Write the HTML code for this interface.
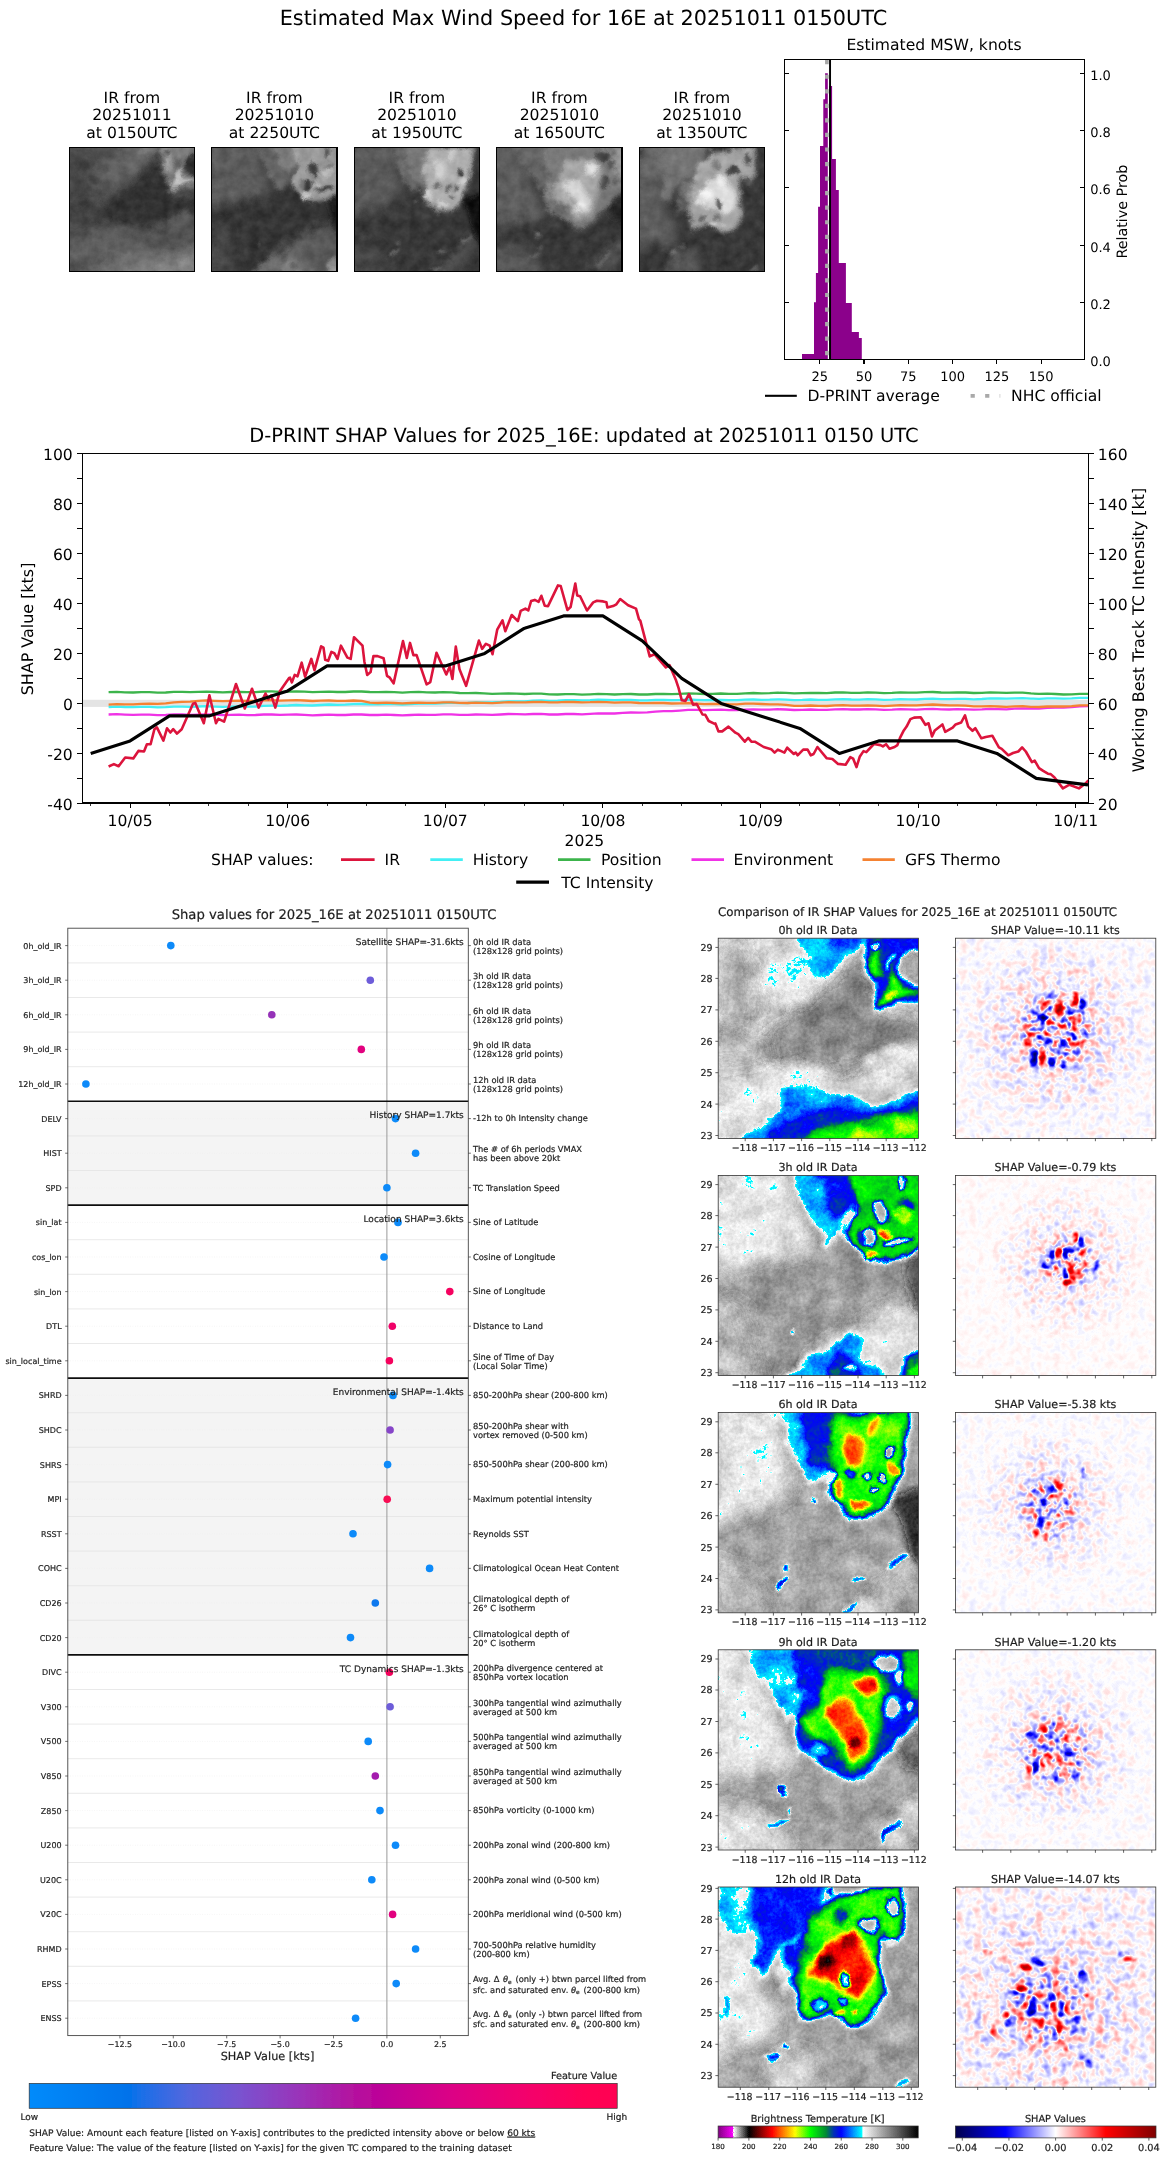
<!DOCTYPE html>
<html><head><meta charset="utf-8"><title>D-PRINT 16E</title>
<style>html,body{margin:0;padding:0;background:#fff}svg{display:block}text{font-family:'DejaVu Sans','Liberation Sans',sans-serif;text-rendering:geometricPrecision}.lo text{stroke:#222;stroke-width:0.2px}</style>
</head><body>
<svg width="1168" height="2158" viewBox="0 0 1168 2158">
<defs>
<filter id="grain" x="0" y="0" width="100%" height="100%" color-interpolation-filters="sRGB">
 <feTurbulence type="fractalNoise" baseFrequency="0.1" numOctaves="4" seed="11" result="n"/>
 <feColorMatrix in="n" type="matrix" values="1 0 0 0 0  1 0 0 0 0  1 0 0 0 0  0 0 0 0 1" result="ng"/>
 <feDisplacementMap in="SourceGraphic" in2="n" scale="7" xChannelSelector="R" yChannelSelector="G" result="d"/>
 <feComposite in="d" in2="ng" operator="arithmetic" k1="0" k2="1" k3="0.14" k4="-0.07"/>
</filter>
<filter id="b1" x="-100%" y="-100%" width="300%" height="300%"><feGaussianBlur stdDeviation="1"/></filter>
<filter id="b14" x="-100%" y="-100%" width="300%" height="300%"><feGaussianBlur stdDeviation="14"/></filter>
<filter id="b1_2" x="-100%" y="-100%" width="300%" height="300%"><feGaussianBlur stdDeviation="1.2"/></filter>
<filter id="b1_5" x="-100%" y="-100%" width="300%" height="300%"><feGaussianBlur stdDeviation="1.5"/></filter>
<filter id="b2" x="-100%" y="-100%" width="300%" height="300%"><feGaussianBlur stdDeviation="2"/></filter>
<filter id="b2_5" x="-100%" y="-100%" width="300%" height="300%"><feGaussianBlur stdDeviation="2.5"/></filter>
<filter id="b3" x="-100%" y="-100%" width="300%" height="300%"><feGaussianBlur stdDeviation="3"/></filter>
<filter id="b3_5" x="-100%" y="-100%" width="300%" height="300%"><feGaussianBlur stdDeviation="3.5"/></filter>
<filter id="b4" x="-100%" y="-100%" width="300%" height="300%"><feGaussianBlur stdDeviation="4"/></filter>
<filter id="b5" x="-100%" y="-100%" width="300%" height="300%"><feGaussianBlur stdDeviation="5"/></filter>
<filter id="b5_5" x="-100%" y="-100%" width="300%" height="300%"><feGaussianBlur stdDeviation="5.5"/></filter>
<filter id="b6" x="-100%" y="-100%" width="300%" height="300%"><feGaussianBlur stdDeviation="6"/></filter>
<filter id="b6_5" x="-100%" y="-100%" width="300%" height="300%"><feGaussianBlur stdDeviation="6.5"/></filter>
<filter id="b7" x="-100%" y="-100%" width="300%" height="300%"><feGaussianBlur stdDeviation="7"/></filter>
<filter id="b8" x="-100%" y="-100%" width="300%" height="300%"><feGaussianBlur stdDeviation="8"/></filter>
<filter id="b9" x="-100%" y="-100%" width="300%" height="300%"><feGaussianBlur stdDeviation="9"/></filter>
<linearGradient id="shapbar" x1="0" x2="1" y1="0" y2="0"><stop offset="0" stop-color="#008bfb"/><stop offset="0.17" stop-color="#0072ea"/><stop offset="0.19" stop-color="#1a6fe8"/><stop offset="0.27" stop-color="#5366de"/><stop offset="0.36" stop-color="#7a52cf"/><stop offset="0.46" stop-color="#9a33b9"/><stop offset="0.55" stop-color="#b4129f"/><stop offset="0.6" stop-color="#bd0098"/><stop offset="0.72" stop-color="#dc0085"/><stop offset="0.85" stop-color="#f4006b"/><stop offset="0.95" stop-color="#ff0055"/><stop offset="1" stop-color="#ff0051"/></linearGradient>
<filter id="soft" x="0" y="0" width="100%" height="100%"><feGaussianBlur stdDeviation="0.35"/></filter>

<filter id="ircm" x="0" y="0" width="100%" height="100%" color-interpolation-filters="sRGB">
 <feTurbulence type="fractalNoise" baseFrequency="0.045" numOctaves="4" seed="11" result="n"/>
 <feColorMatrix in="n" type="matrix" values="1 0 0 0 0  1 0 0 0 0  1 0 0 0 0  0 0 0 0 1" result="ng"/>
 <feDisplacementMap in="SourceGraphic" in2="n" scale="12" xChannelSelector="R" yChannelSelector="G" result="d"/>
 <feComposite in="d" in2="ng" operator="arithmetic" k1="0" k2="1" k3="0.10" k4="-0.05" result="f0"/>
 <feTurbulence type="fractalNoise" baseFrequency="0.3" numOctaves="2" seed="4" result="n2"/>
 <feColorMatrix in="n2" type="matrix" values="1 0 0 0 0  1 0 0 0 0  1 0 0 0 0  0 0 0 0 1" result="ng2"/>
 <feComposite in="f0" in2="ng2" operator="arithmetic" k1="0" k2="1" k3="0.05" k4="-0.025" result="f"/>
 <feComponentTransfer in="f"><feFuncR type="table" tableValues="0.000 0.014 0.028 0.042 0.056 0.069 0.083 0.097 0.111 0.125 0.139 0.153 0.167 0.181 0.194 0.208 0.222 0.236 0.250 0.264 0.278 0.292 0.306 0.319 0.333 0.347 0.361 0.375 0.389 0.403 0.417 0.431 0.444 0.458 0.472 0.486 0.500 0.514 0.528 0.542 0.556 0.569 0.583 0.597 0.611 0.625 0.639 0.653 0.667 0.681 0.694 0.708 0.722 0.736 0.750 0.764 0.778 0.792 0.806 0.819 0.833 0.847 0.861 0.875 0.889 0.903 0.917 0.931 0.944 0.958 0.972 0.986 1.000 0.000 0.000 0.000 0.000 0.000 0.000 0.000 0.000 0.000 0.000 0.000 0.000 0.000 0.000 0.000 0.000 0.000 0.000 0.000 0.000 0.000 0.000 0.000 0.000 0.000 0.000 0.000 0.000 0.000 0.000 0.000 0.000 0.000 0.000 0.000 0.000 0.000 0.000 0.000 0.000 0.000 0.000 0.000 0.000 0.000 0.000 0.000 0.000 0.000 0.000 0.000 0.000 0.000 0.000 0.000 0.000 0.000 0.000 0.000 0.000 0.000 0.000 0.000 0.000 0.000 0.000 0.000 0.000 0.050 0.100 0.150 0.200 0.250 0.300 0.350 0.400 0.450 0.500 0.550 0.600 0.650 0.700 0.750 0.800 0.850 0.900 0.950 1.000 1.000 1.000 1.000 1.000 1.000 1.000 1.000 1.000 1.000 1.000 1.000 1.000 1.000 1.000 1.000 1.000 1.000 1.000 1.000 1.000 1.000 1.000 1.000 1.000 1.000 1.000 1.000 1.000 1.000 1.000 0.967 0.933 0.900 0.867 0.833 0.800 0.767 0.733 0.700 0.667 0.633 0.600 0.567 0.533 0.500 0.467 0.433 0.400 0.367 0.333 0.300 0.267 0.233 0.200 0.167 0.133 0.100 0.067 0.033 0.000 0.050 0.100 0.150 0.200 0.250 0.300 0.350 0.400 0.450 0.500 0.550 0.600 0.650 0.700 0.750 0.800 0.850 0.900 0.950 1.000 0.975 0.950 0.925 0.900 0.875 0.850 0.825 0.800 0.775 0.750 0.725 0.700 0.675 0.650 0.625 0.600 0.575 0.550 0.525 0.500"/><feFuncG type="table" tableValues="0.000 0.014 0.028 0.042 0.056 0.069 0.083 0.097 0.111 0.125 0.139 0.153 0.167 0.181 0.194 0.208 0.222 0.236 0.250 0.264 0.278 0.292 0.306 0.319 0.333 0.347 0.361 0.375 0.389 0.403 0.417 0.431 0.444 0.458 0.472 0.486 0.500 0.514 0.528 0.542 0.556 0.569 0.583 0.597 0.611 0.625 0.639 0.653 0.667 0.681 0.694 0.708 0.722 0.736 0.750 0.764 0.778 0.792 0.806 0.819 0.833 0.847 0.861 0.875 0.889 0.903 0.917 0.931 0.944 0.958 0.972 0.986 1.000 1.000 0.963 0.926 0.889 0.852 0.815 0.778 0.741 0.704 0.667 0.630 0.593 0.556 0.519 0.481 0.444 0.407 0.370 0.333 0.296 0.259 0.222 0.185 0.148 0.111 0.074 0.037 0.000 0.020 0.040 0.060 0.080 0.100 0.120 0.140 0.160 0.180 0.200 0.235 0.270 0.305 0.340 0.375 0.410 0.445 0.480 0.515 0.550 0.573 0.595 0.618 0.640 0.663 0.685 0.708 0.730 0.753 0.775 0.798 0.820 0.843 0.865 0.887 0.910 0.932 0.955 0.978 1.000 1.000 1.000 1.000 1.000 1.000 1.000 1.000 1.000 1.000 1.000 1.000 1.000 1.000 1.000 1.000 1.000 1.000 1.000 1.000 1.000 0.967 0.933 0.900 0.867 0.833 0.800 0.767 0.733 0.700 0.667 0.633 0.600 0.567 0.533 0.500 0.467 0.433 0.400 0.367 0.333 0.300 0.267 0.233 0.200 0.167 0.133 0.100 0.067 0.033 0.000 0.000 0.000 0.000 0.000 0.000 0.000 0.000 0.000 0.000 0.000 0.000 0.000 0.000 0.000 0.000 0.000 0.000 0.000 0.000 0.000 0.000 0.000 0.000 0.000 0.000 0.000 0.000 0.000 0.000 0.000 0.050 0.100 0.150 0.200 0.250 0.300 0.350 0.400 0.450 0.500 0.550 0.600 0.650 0.700 0.750 0.800 0.850 0.900 0.950 1.000 0.000 0.000 0.000 0.000 0.000 0.000 0.000 0.000 0.000 0.000 0.000 0.000 0.000 0.000 0.000 0.000 0.000 0.000 0.000 0.000"/><feFuncB type="table" tableValues="0.000 0.014 0.028 0.042 0.056 0.069 0.083 0.097 0.111 0.125 0.139 0.153 0.167 0.181 0.194 0.208 0.222 0.236 0.250 0.264 0.278 0.292 0.306 0.319 0.333 0.347 0.361 0.375 0.389 0.403 0.417 0.431 0.444 0.458 0.472 0.486 0.500 0.514 0.528 0.542 0.556 0.569 0.583 0.597 0.611 0.625 0.639 0.653 0.667 0.681 0.694 0.708 0.722 0.736 0.750 0.764 0.778 0.792 0.806 0.819 0.833 0.847 0.861 0.875 0.889 0.903 0.917 0.931 0.944 0.958 0.972 0.986 1.000 1.000 1.000 1.000 1.000 1.000 1.000 1.000 1.000 1.000 1.000 1.000 1.000 1.000 1.000 1.000 1.000 1.000 1.000 1.000 1.000 1.000 1.000 1.000 1.000 1.000 1.000 1.000 1.000 0.970 0.940 0.910 0.880 0.850 0.820 0.790 0.760 0.730 0.700 0.650 0.600 0.550 0.500 0.450 0.400 0.350 0.300 0.250 0.200 0.190 0.180 0.170 0.160 0.150 0.140 0.130 0.120 0.110 0.100 0.090 0.080 0.070 0.060 0.050 0.040 0.030 0.020 0.010 0.000 0.000 0.000 0.000 0.000 0.000 0.000 0.000 0.000 0.000 0.000 0.000 0.000 0.000 0.000 0.000 0.000 0.000 0.000 0.000 0.000 0.000 0.000 0.000 0.000 0.000 0.000 0.000 0.000 0.000 0.000 0.000 0.000 0.000 0.000 0.000 0.000 0.000 0.000 0.000 0.000 0.000 0.000 0.000 0.000 0.000 0.000 0.000 0.000 0.000 0.000 0.000 0.000 0.000 0.000 0.000 0.000 0.000 0.000 0.000 0.000 0.000 0.000 0.000 0.000 0.000 0.000 0.000 0.000 0.000 0.000 0.000 0.000 0.000 0.000 0.000 0.000 0.000 0.000 0.000 0.000 0.050 0.100 0.150 0.200 0.250 0.300 0.350 0.400 0.450 0.500 0.550 0.600 0.650 0.700 0.750 0.800 0.850 0.900 0.950 1.000 0.975 0.950 0.925 0.900 0.875 0.850 0.825 0.800 0.775 0.750 0.725 0.700 0.675 0.650 0.625 0.600 0.575 0.550 0.525 0.500"/></feComponentTransfer>
</filter>
<filter id="ircbar" x="0" y="0" width="100%" height="100%" color-interpolation-filters="sRGB">
 <feComponentTransfer><feFuncR type="table" tableValues="0.000 0.014 0.028 0.042 0.056 0.069 0.083 0.097 0.111 0.125 0.139 0.153 0.167 0.181 0.194 0.208 0.222 0.236 0.250 0.264 0.278 0.292 0.306 0.319 0.333 0.347 0.361 0.375 0.389 0.403 0.417 0.431 0.444 0.458 0.472 0.486 0.500 0.514 0.528 0.542 0.556 0.569 0.583 0.597 0.611 0.625 0.639 0.653 0.667 0.681 0.694 0.708 0.722 0.736 0.750 0.764 0.778 0.792 0.806 0.819 0.833 0.847 0.861 0.875 0.889 0.903 0.917 0.931 0.944 0.958 0.972 0.986 1.000 0.000 0.000 0.000 0.000 0.000 0.000 0.000 0.000 0.000 0.000 0.000 0.000 0.000 0.000 0.000 0.000 0.000 0.000 0.000 0.000 0.000 0.000 0.000 0.000 0.000 0.000 0.000 0.000 0.000 0.000 0.000 0.000 0.000 0.000 0.000 0.000 0.000 0.000 0.000 0.000 0.000 0.000 0.000 0.000 0.000 0.000 0.000 0.000 0.000 0.000 0.000 0.000 0.000 0.000 0.000 0.000 0.000 0.000 0.000 0.000 0.000 0.000 0.000 0.000 0.000 0.000 0.000 0.000 0.050 0.100 0.150 0.200 0.250 0.300 0.350 0.400 0.450 0.500 0.550 0.600 0.650 0.700 0.750 0.800 0.850 0.900 0.950 1.000 1.000 1.000 1.000 1.000 1.000 1.000 1.000 1.000 1.000 1.000 1.000 1.000 1.000 1.000 1.000 1.000 1.000 1.000 1.000 1.000 1.000 1.000 1.000 1.000 1.000 1.000 1.000 1.000 1.000 1.000 0.967 0.933 0.900 0.867 0.833 0.800 0.767 0.733 0.700 0.667 0.633 0.600 0.567 0.533 0.500 0.467 0.433 0.400 0.367 0.333 0.300 0.267 0.233 0.200 0.167 0.133 0.100 0.067 0.033 0.000 0.050 0.100 0.150 0.200 0.250 0.300 0.350 0.400 0.450 0.500 0.550 0.600 0.650 0.700 0.750 0.800 0.850 0.900 0.950 1.000 0.975 0.950 0.925 0.900 0.875 0.850 0.825 0.800 0.775 0.750 0.725 0.700 0.675 0.650 0.625 0.600 0.575 0.550 0.525 0.500"/><feFuncG type="table" tableValues="0.000 0.014 0.028 0.042 0.056 0.069 0.083 0.097 0.111 0.125 0.139 0.153 0.167 0.181 0.194 0.208 0.222 0.236 0.250 0.264 0.278 0.292 0.306 0.319 0.333 0.347 0.361 0.375 0.389 0.403 0.417 0.431 0.444 0.458 0.472 0.486 0.500 0.514 0.528 0.542 0.556 0.569 0.583 0.597 0.611 0.625 0.639 0.653 0.667 0.681 0.694 0.708 0.722 0.736 0.750 0.764 0.778 0.792 0.806 0.819 0.833 0.847 0.861 0.875 0.889 0.903 0.917 0.931 0.944 0.958 0.972 0.986 1.000 1.000 0.963 0.926 0.889 0.852 0.815 0.778 0.741 0.704 0.667 0.630 0.593 0.556 0.519 0.481 0.444 0.407 0.370 0.333 0.296 0.259 0.222 0.185 0.148 0.111 0.074 0.037 0.000 0.020 0.040 0.060 0.080 0.100 0.120 0.140 0.160 0.180 0.200 0.235 0.270 0.305 0.340 0.375 0.410 0.445 0.480 0.515 0.550 0.573 0.595 0.618 0.640 0.663 0.685 0.708 0.730 0.753 0.775 0.798 0.820 0.843 0.865 0.887 0.910 0.932 0.955 0.978 1.000 1.000 1.000 1.000 1.000 1.000 1.000 1.000 1.000 1.000 1.000 1.000 1.000 1.000 1.000 1.000 1.000 1.000 1.000 1.000 1.000 0.967 0.933 0.900 0.867 0.833 0.800 0.767 0.733 0.700 0.667 0.633 0.600 0.567 0.533 0.500 0.467 0.433 0.400 0.367 0.333 0.300 0.267 0.233 0.200 0.167 0.133 0.100 0.067 0.033 0.000 0.000 0.000 0.000 0.000 0.000 0.000 0.000 0.000 0.000 0.000 0.000 0.000 0.000 0.000 0.000 0.000 0.000 0.000 0.000 0.000 0.000 0.000 0.000 0.000 0.000 0.000 0.000 0.000 0.000 0.000 0.050 0.100 0.150 0.200 0.250 0.300 0.350 0.400 0.450 0.500 0.550 0.600 0.650 0.700 0.750 0.800 0.850 0.900 0.950 1.000 0.000 0.000 0.000 0.000 0.000 0.000 0.000 0.000 0.000 0.000 0.000 0.000 0.000 0.000 0.000 0.000 0.000 0.000 0.000 0.000"/><feFuncB type="table" tableValues="0.000 0.014 0.028 0.042 0.056 0.069 0.083 0.097 0.111 0.125 0.139 0.153 0.167 0.181 0.194 0.208 0.222 0.236 0.250 0.264 0.278 0.292 0.306 0.319 0.333 0.347 0.361 0.375 0.389 0.403 0.417 0.431 0.444 0.458 0.472 0.486 0.500 0.514 0.528 0.542 0.556 0.569 0.583 0.597 0.611 0.625 0.639 0.653 0.667 0.681 0.694 0.708 0.722 0.736 0.750 0.764 0.778 0.792 0.806 0.819 0.833 0.847 0.861 0.875 0.889 0.903 0.917 0.931 0.944 0.958 0.972 0.986 1.000 1.000 1.000 1.000 1.000 1.000 1.000 1.000 1.000 1.000 1.000 1.000 1.000 1.000 1.000 1.000 1.000 1.000 1.000 1.000 1.000 1.000 1.000 1.000 1.000 1.000 1.000 1.000 1.000 0.970 0.940 0.910 0.880 0.850 0.820 0.790 0.760 0.730 0.700 0.650 0.600 0.550 0.500 0.450 0.400 0.350 0.300 0.250 0.200 0.190 0.180 0.170 0.160 0.150 0.140 0.130 0.120 0.110 0.100 0.090 0.080 0.070 0.060 0.050 0.040 0.030 0.020 0.010 0.000 0.000 0.000 0.000 0.000 0.000 0.000 0.000 0.000 0.000 0.000 0.000 0.000 0.000 0.000 0.000 0.000 0.000 0.000 0.000 0.000 0.000 0.000 0.000 0.000 0.000 0.000 0.000 0.000 0.000 0.000 0.000 0.000 0.000 0.000 0.000 0.000 0.000 0.000 0.000 0.000 0.000 0.000 0.000 0.000 0.000 0.000 0.000 0.000 0.000 0.000 0.000 0.000 0.000 0.000 0.000 0.000 0.000 0.000 0.000 0.000 0.000 0.000 0.000 0.000 0.000 0.000 0.000 0.000 0.000 0.000 0.000 0.000 0.000 0.000 0.000 0.000 0.000 0.000 0.000 0.000 0.050 0.100 0.150 0.200 0.250 0.300 0.350 0.400 0.450 0.500 0.550 0.600 0.650 0.700 0.750 0.800 0.850 0.900 0.950 1.000 0.975 0.950 0.925 0.900 0.875 0.850 0.825 0.800 0.775 0.750 0.725 0.700 0.675 0.650 0.625 0.600 0.575 0.550 0.525 0.500"/></feComponentTransfer>
</filter>
<linearGradient id="bw" x1="0" x2="1" y1="0" y2="0"><stop offset="0" stop-color="#fff"/><stop offset="1" stop-color="#000"/></linearGradient>
<linearGradient id="seisg" x1="0" x2="1" y1="0" y2="0"><stop offset="0" stop-color="#00004c"/><stop offset="0.25" stop-color="#0000ff"/><stop offset="0.5" stop-color="#fff"/><stop offset="0.75" stop-color="#ff0000"/><stop offset="1" stop-color="#800000"/></linearGradient>
<filter id="seis0" x="0" y="0" width="100%" height="100%" color-interpolation-filters="sRGB">
 <feTurbulence type="fractalNoise" baseFrequency="0.125" numOctaves="2" seed="5" result="n"/>
 <feColorMatrix in="n" type="matrix" values="1 0 0 0 0  1 0 0 0 0  1 0 0 0 0  0 0 0 0 1" result="ng"/>
 <feColorMatrix in="SourceGraphic" type="matrix" values="1 0 0 0 0  1 0 0 0 0  1 0 0 0 0  0 0 0 0 1" result="env"/>
 <feColorMatrix in="SourceGraphic" type="matrix" values="0 1 0 0 0  0 1 0 0 0  0 1 0 0 0  0 0 0 0 1" result="bias"/>
 <feComposite in="ng" in2="env" operator="arithmetic" k1="1.6" k2="0" k3="-0.8" k4="0.5" result="m"/>
 <feColorMatrix in="m" type="matrix" values="1 0 0 0 0  0 1 0 0 0  0 0 1 0 0  0 0 0 0 1" result="m1"/>
 <feComposite in="m1" in2="bias" operator="arithmetic" k1="0" k2="1" k3="1" k4="-0.5" result="m2"/>
 <feComponentTransfer in="m2">
  <feFuncR type="table" tableValues="0 0 1 1 0.5"/><feFuncG type="table" tableValues="0 0 1 0 0"/><feFuncB type="table" tableValues="0.3 1 1 0 0"/><feFuncA type="table" tableValues="1 1"/>
 </feComponentTransfer>
</filter>
<filter id="seis1" x="0" y="0" width="100%" height="100%" color-interpolation-filters="sRGB">
 <feTurbulence type="fractalNoise" baseFrequency="0.13" numOctaves="2" seed="9" result="n"/>
 <feColorMatrix in="n" type="matrix" values="1 0 0 0 0  1 0 0 0 0  1 0 0 0 0  0 0 0 0 1" result="ng"/>
 <feColorMatrix in="SourceGraphic" type="matrix" values="1 0 0 0 0  1 0 0 0 0  1 0 0 0 0  0 0 0 0 1" result="env"/>
 <feColorMatrix in="SourceGraphic" type="matrix" values="0 1 0 0 0  0 1 0 0 0  0 1 0 0 0  0 0 0 0 1" result="bias"/>
 <feComposite in="ng" in2="env" operator="arithmetic" k1="1.6" k2="0" k3="-0.8" k4="0.5" result="m"/>
 <feColorMatrix in="m" type="matrix" values="1 0 0 0 0  0 1 0 0 0  0 0 1 0 0  0 0 0 0 1" result="m1"/>
 <feComposite in="m1" in2="bias" operator="arithmetic" k1="0" k2="1" k3="1" k4="-0.5" result="m2"/>
 <feComponentTransfer in="m2">
  <feFuncR type="table" tableValues="0 0 1 1 0.5"/><feFuncG type="table" tableValues="0 0 1 0 0"/><feFuncB type="table" tableValues="0.3 1 1 0 0"/><feFuncA type="table" tableValues="1 1"/>
 </feComponentTransfer>
</filter>
<filter id="seis2" x="0" y="0" width="100%" height="100%" color-interpolation-filters="sRGB">
 <feTurbulence type="fractalNoise" baseFrequency="0.13" numOctaves="2" seed="14" result="n"/>
 <feColorMatrix in="n" type="matrix" values="1 0 0 0 0  1 0 0 0 0  1 0 0 0 0  0 0 0 0 1" result="ng"/>
 <feColorMatrix in="SourceGraphic" type="matrix" values="1 0 0 0 0  1 0 0 0 0  1 0 0 0 0  0 0 0 0 1" result="env"/>
 <feColorMatrix in="SourceGraphic" type="matrix" values="0 1 0 0 0  0 1 0 0 0  0 1 0 0 0  0 0 0 0 1" result="bias"/>
 <feComposite in="ng" in2="env" operator="arithmetic" k1="1.6" k2="0" k3="-0.8" k4="0.5" result="m"/>
 <feColorMatrix in="m" type="matrix" values="1 0 0 0 0  0 1 0 0 0  0 0 1 0 0  0 0 0 0 1" result="m1"/>
 <feComposite in="m1" in2="bias" operator="arithmetic" k1="0" k2="1" k3="1" k4="-0.5" result="m2"/>
 <feComponentTransfer in="m2">
  <feFuncR type="table" tableValues="0 0 1 1 0.5"/><feFuncG type="table" tableValues="0 0 1 0 0"/><feFuncB type="table" tableValues="0.3 1 1 0 0"/><feFuncA type="table" tableValues="1 1"/>
 </feComponentTransfer>
</filter>
<filter id="seis3" x="0" y="0" width="100%" height="100%" color-interpolation-filters="sRGB">
 <feTurbulence type="fractalNoise" baseFrequency="0.125" numOctaves="2" seed="21" result="n"/>
 <feColorMatrix in="n" type="matrix" values="1 0 0 0 0  1 0 0 0 0  1 0 0 0 0  0 0 0 0 1" result="ng"/>
 <feColorMatrix in="SourceGraphic" type="matrix" values="1 0 0 0 0  1 0 0 0 0  1 0 0 0 0  0 0 0 0 1" result="env"/>
 <feColorMatrix in="SourceGraphic" type="matrix" values="0 1 0 0 0  0 1 0 0 0  0 1 0 0 0  0 0 0 0 1" result="bias"/>
 <feComposite in="ng" in2="env" operator="arithmetic" k1="1.6" k2="0" k3="-0.8" k4="0.5" result="m"/>
 <feColorMatrix in="m" type="matrix" values="1 0 0 0 0  0 1 0 0 0  0 0 1 0 0  0 0 0 0 1" result="m1"/>
 <feComposite in="m1" in2="bias" operator="arithmetic" k1="0" k2="1" k3="1" k4="-0.5" result="m2"/>
 <feComponentTransfer in="m2">
  <feFuncR type="table" tableValues="0 0 1 1 0.5"/><feFuncG type="table" tableValues="0 0 1 0 0"/><feFuncB type="table" tableValues="0.3 1 1 0 0"/><feFuncA type="table" tableValues="1 1"/>
 </feComponentTransfer>
</filter>
<filter id="seis4" x="0" y="0" width="100%" height="100%" color-interpolation-filters="sRGB">
 <feTurbulence type="fractalNoise" baseFrequency="0.115" numOctaves="2" seed="33" result="n"/>
 <feColorMatrix in="n" type="matrix" values="1 0 0 0 0  1 0 0 0 0  1 0 0 0 0  0 0 0 0 1" result="ng"/>
 <feColorMatrix in="SourceGraphic" type="matrix" values="1 0 0 0 0  1 0 0 0 0  1 0 0 0 0  0 0 0 0 1" result="env"/>
 <feColorMatrix in="SourceGraphic" type="matrix" values="0 1 0 0 0  0 1 0 0 0  0 1 0 0 0  0 0 0 0 1" result="bias"/>
 <feComposite in="ng" in2="env" operator="arithmetic" k1="1.6" k2="0" k3="-0.8" k4="0.5" result="m"/>
 <feColorMatrix in="m" type="matrix" values="1 0 0 0 0  0 1 0 0 0  0 0 1 0 0  0 0 0 0 1" result="m1"/>
 <feComposite in="m1" in2="bias" operator="arithmetic" k1="0" k2="1" k3="1" k4="-0.5" result="m2"/>
 <feComponentTransfer in="m2">
  <feFuncR type="table" tableValues="0 0 1 1 0.5"/><feFuncG type="table" tableValues="0 0 1 0 0"/><feFuncB type="table" tableValues="0.3 1 1 0 0"/><feFuncA type="table" tableValues="1 1"/>
 </feComponentTransfer>
</filter>
</defs>
<rect width="1168" height="2158" fill="#fff"/>
<g opacity="0.9999">
<text x="583.50" y="24.70" font-size="20.8" text-anchor="middle" fill="#000" >Estimated Max Wind Speed for 16E at 20251011 0150UTC</text>
<text x="131.90" y="102.80" font-size="15.6" text-anchor="middle" fill="#000" >IR from</text>
<text x="131.90" y="119.80" font-size="15.6" text-anchor="middle" fill="#000" >20251011</text>
<text x="131.90" y="137.70" font-size="15.6" text-anchor="middle" fill="#000" >at 0150UTC</text>
<clipPath id="tc0"><rect x="69.30" y="147.30" width="125.20" height="124.10"/></clipPath>
<g clip-path="url(#tc0)"><g filter="url(#grain)"><rect x="49.30" y="127.30" width="165.20" height="164.10" fill="rgb(82,82,82)" stroke="none" stroke-width="1.04" /><polygon points="69.3,153.5 84.3,147.3 94.3,184.5 88.1,215.6 69.3,209.4" fill="rgb(66,66,66)" filter="url(#b5_5)"/><polygon points="121.9,188.3 144.4,172.1 155.7,153.5 164.5,172.1 175.7,194.5 200.8,199.4 200.8,211.8 169.5,221.8 141.9,230.4 113.1,224.2 94.3,221.8 96.8,209.4" fill="rgb(49,49,49)" filter="url(#b4)"/><polygon points="63.0,199.4 100.6,209.4 100.6,224.2 63.0,224.2" fill="rgb(64,64,64)" filter="url(#b5_5)"/><ellipse cx="169.5" cy="172.1" rx="7.5" ry="14.9" transform="rotate(-20 169.5 172.1)" fill="rgb(51,51,51)" filter="url(#b2)"/><ellipse cx="116.9" cy="172.1" rx="15.0" ry="14.9" transform="rotate(0 116.9 172.1)" fill="rgb(97,97,97)" filter="url(#b5)"/><ellipse cx="100.6" cy="244.1" rx="40.1" ry="12.4" transform="rotate(-20 100.6 244.1)" fill="rgb(95,95,95)" filter="url(#b5_5)"/><ellipse cx="179.5" cy="221.8" rx="18.8" ry="7.4" transform="rotate(-15 179.5 221.8)" fill="rgb(89,89,89)" filter="url(#b3_5)"/><polygon points="119.4,141.1 159.4,141.1 151.9,157.2 141.9,167.2 131.9,174.6 125.6,170.9 121.9,159.7" fill="rgb(101,101,101)" filter="url(#b2)"/><ellipse cx="148.2" cy="147.3" rx="10.0" ry="7.4" transform="rotate(0 148.2 147.3)" fill="rgb(119,119,119)" filter="url(#b2)"/><polygon points="156.9,141.1 200.8,141.1 200.8,152.3 185.7,157.2 182.0,172.1 200.8,177.1 200.8,184.5 179.5,189.5 169.5,190.7 165.7,178.3 161.9,159.7" fill="rgb(124,124,124)" filter="url(#b2)"/><polygon points="164.5,147.3 169.5,147.3 172.0,172.1 167.0,169.6" fill="rgb(160,160,160)" filter="url(#b1_5)"/><polygon points="179.5,167.2 184.5,178.3 197.0,178.3 182.0,184.5 169.5,188.3 173.2,180.8" fill="rgb(185,185,185)" filter="url(#b1_5)"/><ellipse cx="177.0" cy="183.3" rx="3.8" ry="1.9" transform="rotate(-25 177.0 183.3)" fill="rgb(212,212,212)" filter="url(#b1_5)"/><ellipse cx="193.2" cy="164.7" rx="9.4" ry="9.3" transform="rotate(0 193.2 164.7)" fill="rgb(51,51,51)" filter="url(#b1_5)"/><ellipse cx="167.0" cy="152.3" rx="2.5" ry="3.7" transform="rotate(0 167.0 152.3)" fill="rgb(89,89,89)" filter="url(#b1_5)"/><ellipse cx="177.0" cy="162.2" rx="1.9" ry="5.0" transform="rotate(20 177.0 162.2)" fill="rgb(92,92,92)" filter="url(#b1_5)"/><polygon points="69.3,277.6 94.3,265.2 110.6,254.0 109.4,241.6 125.6,239.1 144.4,244.1 156.9,246.6 167.0,250.3 182.0,246.6 200.8,239.1 200.8,277.6" fill="rgb(97,97,97)" filter="url(#b2)"/><polygon points="88.1,277.6 119.4,256.5 138.2,251.5 163.2,255.3 182.0,251.5 200.8,245.3 200.8,277.6" fill="rgb(110,110,110)" filter="url(#b2)"/><polygon points="116.9,277.6 131.9,264.0 156.9,262.7 175.7,257.7 200.8,254.0 200.8,277.6" fill="rgb(124,124,124)" filter="url(#b2_5)"/><ellipse cx="163.2" cy="268.9" rx="10.0" ry="3.7" transform="rotate(0 163.2 268.9)" fill="rgb(133,133,133)" filter="url(#b2)"/><ellipse cx="185.7" cy="264.0" rx="8.8" ry="5.0" transform="rotate(0 185.7 264.0)" fill="rgb(136,136,136)" filter="url(#b2)"/></g></g>
<rect x="69.30" y="147.30" width="125.20" height="124.10" fill="none" stroke="#000" stroke-width="1.04"  shape-rendering="crispEdges"/>
<text x="274.40" y="102.80" font-size="15.6" text-anchor="middle" fill="#000" >IR from</text>
<text x="274.40" y="119.80" font-size="15.6" text-anchor="middle" fill="#000" >20251010</text>
<text x="274.40" y="137.70" font-size="15.6" text-anchor="middle" fill="#000" >at 2250UTC</text>
<clipPath id="tc1"><rect x="211.80" y="147.30" width="125.20" height="124.10"/></clipPath>
<g clip-path="url(#tc1)"><g filter="url(#grain)"><rect x="191.80" y="127.30" width="165.20" height="164.10" fill="rgb(53,53,53)" stroke="none" stroke-width="1.04" /><polygon points="205.5,141.1 256.9,141.1 261.9,165.9 271.9,184.5 268.1,194.5 236.8,200.7 205.5,211.8" fill="rgb(92,92,92)" filter="url(#b5)"/><polygon points="205.5,224.2 226.8,228.0 236.8,277.6 205.5,277.6" fill="rgb(74,74,74)" filter="url(#b6_5)"/><polygon points="274.4,252.8 312.0,229.2 343.3,218.0 343.3,277.6 255.6,277.6" fill="rgb(89,89,89)" filter="url(#b4)"/><polygon points="328.2,199.4 343.3,196.9 343.3,236.7 333.2,229.2" fill="rgb(24,24,24)" filter="url(#b3)"/><polygon points="254.4,141.1 296.9,141.1 291.9,165.9 289.4,182.0 280.7,193.2 274.4,184.5 264.4,165.9" fill="rgb(102,102,102)" filter="url(#b2)"/><polygon points="274.4,141.1 299.4,141.1 296.9,165.9 286.9,174.6 278.2,162.2" fill="rgb(124,124,124)" filter="url(#b2)"/><polygon points="293.2,141.1 343.3,141.1 343.3,187.0 328.2,199.4 312.0,201.9 299.4,194.5 290.7,182.0 296.9,165.9" fill="rgb(155,155,155)" filter="url(#b2)"/><ellipse cx="313.2" cy="169.6" rx="4.4" ry="7.4" transform="rotate(-20 313.2 169.6)" fill="rgb(62,62,62)" filter="url(#b1_5)"/><ellipse cx="307.0" cy="185.8" rx="4.4" ry="6.2" transform="rotate(10 307.0 185.8)" fill="rgb(56,56,56)" filter="url(#b1_5)"/><ellipse cx="327.0" cy="152.3" rx="2.5" ry="6.2" transform="rotate(0 327.0 152.3)" fill="rgb(82,82,82)" filter="url(#b1_5)"/><ellipse cx="294.4" cy="170.9" rx="2.5" ry="2.5" transform="rotate(0 294.4 170.9)" fill="rgb(92,92,92)" filter="url(#b1_5)"/><ellipse cx="328.2" cy="167.2" rx="6.3" ry="3.7" transform="rotate(-30 328.2 167.2)" fill="rgb(119,119,119)" filter="url(#b1_5)"/><ellipse cx="301.9" cy="184.5" rx="2.5" ry="5.0" transform="rotate(0 301.9 184.5)" fill="rgb(119,119,119)" filter="url(#b1_5)"/><ellipse cx="324.5" cy="188.3" rx="10.0" ry="2.2" transform="rotate(-15 324.5 188.3)" fill="rgb(61,61,61)" filter="url(#b1_5)"/><ellipse cx="317.0" cy="184.5" rx="3.8" ry="2.5" transform="rotate(30 317.0 184.5)" fill="rgb(190,190,190)" filter="url(#b1_5)"/><ellipse cx="307.0" cy="195.7" rx="5.0" ry="1.9" transform="rotate(15 307.0 195.7)" fill="rgb(208,208,208)" filter="url(#b1_5)"/><ellipse cx="327.0" cy="172.1" rx="6.3" ry="5.0" transform="rotate(0 327.0 172.1)" fill="rgb(185,185,185)" filter="url(#b1_5)"/><polygon points="246.9,277.6 268.1,259.0 280.7,256.5 296.9,244.1 303.2,249.1 299.4,261.5 312.0,265.2 319.5,277.6" fill="rgb(105,105,105)" filter="url(#b2)"/><polygon points="278.2,277.6 289.4,256.5 299.4,265.2 303.2,277.6" fill="rgb(126,126,126)" filter="url(#b2)"/><ellipse cx="294.4" cy="266.4" rx="3.8" ry="2.5" transform="rotate(0 294.4 266.4)" fill="rgb(92,92,92)" filter="url(#b1_5)"/><polygon points="324.5,277.6 329.5,259.0 343.3,254.0 343.3,277.6" fill="rgb(133,133,133)" filter="url(#b2)"/><ellipse cx="335.7" cy="270.2" rx="5.0" ry="3.7" transform="rotate(0 335.7 270.2)" fill="rgb(160,160,160)" filter="url(#b1_5)"/><ellipse cx="258.1" cy="244.1" rx="1.3" ry="1.2" transform="rotate(0 258.1 244.1)" fill="rgb(115,115,115)" filter="url(#b1_5)"/></g></g>
<rect x="211.80" y="147.30" width="125.20" height="124.10" fill="none" stroke="#000" stroke-width="1.04"  shape-rendering="crispEdges"/>
<text x="416.90" y="102.80" font-size="15.6" text-anchor="middle" fill="#000" >IR from</text>
<text x="416.90" y="119.80" font-size="15.6" text-anchor="middle" fill="#000" >20251010</text>
<text x="416.90" y="137.70" font-size="15.6" text-anchor="middle" fill="#000" >at 1950UTC</text>
<clipPath id="tc2"><rect x="354.30" y="147.30" width="125.20" height="124.10"/></clipPath>
<g clip-path="url(#tc2)"><g filter="url(#grain)"><rect x="334.30" y="127.30" width="165.20" height="164.10" fill="rgb(56,56,56)" stroke="none" stroke-width="1.04" /><polygon points="348.0,141.1 398.1,141.1 395.6,172.1 404.4,187.0 391.9,203.1 373.1,209.4 348.0,216.8" fill="rgb(90,90,90)" filter="url(#b5)"/><polygon points="348.0,240.4 373.1,246.6 391.9,277.6 348.0,277.6" fill="rgb(74,74,74)" filter="url(#b6_5)"/><polygon points="429.4,277.6 454.5,252.8 473.2,234.2 477.0,244.1 454.5,277.6" fill="rgb(78,78,78)" filter="url(#b3_5)"/><polygon points="459.5,199.4 485.8,192.0 485.8,249.1 474.5,234.2 467.0,209.4" fill="rgb(14,14,14)" filter="url(#b2_5)"/><polygon points="393.1,141.1 436.9,141.1 429.4,159.7 424.4,184.5 411.9,192.0 404.4,179.6 395.6,165.9" fill="rgb(102,102,102)" filter="url(#b2)"/><polygon points="404.4,141.1 434.4,141.1 429.4,178.3 414.4,183.3 406.9,162.2" fill="rgb(121,121,121)" filter="url(#b2)"/><polygon points="429.4,147.3 474.5,147.3 470.7,172.1 468.2,184.5 462.0,200.7 454.5,210.6 435.7,210.6 425.7,200.7 423.2,184.5 423.2,165.9" fill="rgb(174,174,174)" filter="url(#b2)"/><ellipse cx="439.4" cy="169.6" rx="6.9" ry="9.9" transform="rotate(-10 439.4 169.6)" fill="rgb(206,206,206)" filter="url(#b2)"/><ellipse cx="452.0" cy="156.0" rx="2.5" ry="6.2" transform="rotate(30 452.0 156.0)" fill="rgb(204,204,204)" filter="url(#b1_5)"/><ellipse cx="429.4" cy="194.5" rx="2.5" ry="6.2" transform="rotate(-10 429.4 194.5)" fill="rgb(206,206,206)" filter="url(#b1_5)"/><ellipse cx="441.9" cy="203.8" rx="6.3" ry="2.5" transform="rotate(15 441.9 203.8)" fill="rgb(213,213,213)" filter="url(#b1_5)"/><ellipse cx="463.2" cy="182.0" rx="3.8" ry="3.7" transform="rotate(0 463.2 182.0)" fill="rgb(206,206,206)" filter="url(#b1_5)"/><ellipse cx="460.7" cy="172.1" rx="3.1" ry="3.7" transform="rotate(0 460.7 172.1)" fill="rgb(58,58,58)" filter="url(#b1_5)"/><ellipse cx="436.9" cy="185.8" rx="3.8" ry="3.1" transform="rotate(0 436.9 185.8)" fill="rgb(113,113,113)" filter="url(#b1_5)"/><ellipse cx="447.6" cy="188.3" rx="1.9" ry="3.1" transform="rotate(0 447.6 188.3)" fill="rgb(82,82,82)" filter="url(#b1_5)"/><ellipse cx="455.7" cy="188.3" rx="2.5" ry="2.5" transform="rotate(0 455.7 188.3)" fill="rgb(86,86,86)" filter="url(#b1_5)"/><ellipse cx="452.0" cy="195.7" rx="2.5" ry="1.9" transform="rotate(0 452.0 195.7)" fill="rgb(89,89,89)" filter="url(#b1_5)"/><ellipse cx="423.2" cy="188.3" rx="3.8" ry="3.7" transform="rotate(0 423.2 188.3)" fill="rgb(99,99,99)" filter="url(#b1_5)"/><ellipse cx="394.4" cy="252.8" rx="6.9" ry="1.5" transform="rotate(-40 394.4 252.8)" fill="rgb(119,119,119)" filter="url(#b1_5)"/><ellipse cx="398.7" cy="242.9" rx="1.0" ry="2.5" transform="rotate(0 398.7 242.9)" fill="rgb(115,115,115)" filter="url(#b1_5)"/><ellipse cx="467.0" cy="239.1" rx="7.5" ry="1.5" transform="rotate(-30 467.0 239.1)" fill="rgb(114,114,114)" filter="url(#b1_5)"/><ellipse cx="441.9" cy="251.5" rx="5.0" ry="1.2" transform="rotate(-20 441.9 251.5)" fill="rgb(113,113,113)" filter="url(#b1_5)"/><ellipse cx="436.9" cy="268.3" rx="6.3" ry="1.5" transform="rotate(-25 436.9 268.3)" fill="rgb(111,111,111)" filter="url(#b1_5)"/><ellipse cx="415.6" cy="202.5" rx="1.3" ry="1.5" transform="rotate(0 415.6 202.5)" fill="rgb(115,115,115)" filter="url(#b1_5)"/></g></g>
<rect x="354.30" y="147.30" width="125.20" height="124.10" fill="none" stroke="#000" stroke-width="1.04"  shape-rendering="crispEdges"/>
<text x="559.40" y="102.80" font-size="15.6" text-anchor="middle" fill="#000" >IR from</text>
<text x="559.40" y="119.80" font-size="15.6" text-anchor="middle" fill="#000" >20251010</text>
<text x="559.40" y="137.70" font-size="15.6" text-anchor="middle" fill="#000" >at 1650UTC</text>
<clipPath id="tc3"><rect x="496.80" y="147.30" width="125.20" height="124.10"/></clipPath>
<g clip-path="url(#tc3)"><g filter="url(#grain)"><rect x="476.80" y="127.30" width="165.20" height="164.10" fill="rgb(56,56,56)" stroke="none" stroke-width="1.04" /><polygon points="490.5,141.1 515.6,141.1 528.1,172.1 534.4,190.7 546.9,215.6 534.4,221.8 509.3,224.2 490.5,229.2" fill="rgb(93,93,93)" filter="url(#b5)"/><polygon points="499.3,244.1 528.1,249.1 549.4,277.6 490.5,277.6 490.5,246.6" fill="rgb(86,86,86)" filter="url(#b5)"/><polygon points="590.7,265.2 615.7,240.4 628.3,236.7 628.3,252.8 603.2,277.6" fill="rgb(78,78,78)" filter="url(#b3_5)"/><polygon points="607.0,203.1 628.3,196.9 628.3,224.2 613.2,219.3" fill="rgb(32,32,32)" filter="url(#b3)"/><polygon points="511.8,141.1 559.4,141.1 553.1,172.1 546.9,184.5 538.1,192.0 534.4,178.3 528.1,172.1 518.1,159.7" fill="rgb(102,102,102)" filter="url(#b2)"/><polygon points="544.4,141.1 628.3,141.1 628.3,184.5 615.7,196.9 604.5,209.4 592.0,224.2 578.2,229.2 559.4,216.8 546.9,209.4 543.1,196.9 548.1,178.3" fill="rgb(122,122,122)" filter="url(#b2)"/><ellipse cx="602.0" cy="156.0" rx="6.9" ry="5.6" transform="rotate(0 602.0 156.0)" fill="rgb(70,70,70)" filter="url(#b1_5)"/><ellipse cx="603.2" cy="182.0" rx="6.3" ry="7.4" transform="rotate(0 603.2 182.0)" fill="rgb(74,74,74)" filter="url(#b1_5)"/><ellipse cx="610.7" cy="164.7" rx="3.8" ry="5.0" transform="rotate(0 610.7 164.7)" fill="rgb(89,89,89)" filter="url(#b1_5)"/><ellipse cx="615.7" cy="182.0" rx="2.5" ry="3.7" transform="rotate(0 615.7 182.0)" fill="rgb(89,89,89)" filter="url(#b1_5)"/><ellipse cx="541.9" cy="167.2" rx="4.4" ry="3.1" transform="rotate(0 541.9 167.2)" fill="rgb(95,95,95)" filter="url(#b1_5)"/><ellipse cx="559.4" cy="209.4" rx="6.3" ry="3.7" transform="rotate(0 559.4 209.4)" fill="rgb(102,102,102)" filter="url(#b1_5)"/><polygon points="565.7,159.7 597.0,159.7 603.2,172.1 597.0,196.9 592.0,215.6 579.4,221.8 569.4,205.6 554.4,200.7 549.4,192.0 559.4,178.3" fill="rgb(166,166,166)" filter="url(#b2_5)"/><polygon points="612.0,147.3 628.3,147.3 628.3,179.6 615.7,174.6" fill="rgb(153,153,153)" filter="url(#b2)"/><ellipse cx="590.7" cy="169.6" rx="7.5" ry="5.6" transform="rotate(-10 590.7 169.6)" fill="rgb(222,222,222)" filter="url(#b1_5)"/><polygon points="565.7,182.0 578.2,178.3 584.4,190.7 591.3,199.4 588.8,211.8 580.1,215.6 575.7,203.1 565.7,190.7" fill="rgb(215,215,215)" filter="url(#b2)"/><ellipse cx="581.9" cy="205.6" rx="3.8" ry="3.7" transform="rotate(0 581.9 205.6)" fill="rgb(235,235,235)" filter="url(#b1_5)"/><ellipse cx="538.1" cy="235.4" rx="2.8" ry="2.2" transform="rotate(0 538.1 235.4)" fill="rgb(121,121,121)" filter="url(#b1_5)"/><ellipse cx="534.4" cy="255.3" rx="7.5" ry="1.2" transform="rotate(-15 534.4 255.3)" fill="rgb(113,113,113)" filter="url(#b1_5)"/><ellipse cx="540.6" cy="247.8" rx="1.0" ry="3.7" transform="rotate(10 540.6 247.8)" fill="rgb(113,113,113)" filter="url(#b1_5)"/><ellipse cx="604.5" cy="259.0" rx="10.6" ry="1.5" transform="rotate(-52 604.5 259.0)" fill="rgb(116,116,116)" filter="url(#b1_5)"/></g></g>
<rect x="496.80" y="147.30" width="125.20" height="124.10" fill="none" stroke="#000" stroke-width="1.04"  shape-rendering="crispEdges"/>
<text x="701.90" y="102.80" font-size="15.6" text-anchor="middle" fill="#000" >IR from</text>
<text x="701.90" y="119.80" font-size="15.6" text-anchor="middle" fill="#000" >20251010</text>
<text x="701.90" y="137.70" font-size="15.6" text-anchor="middle" fill="#000" >at 1350UTC</text>
<clipPath id="tc4"><rect x="639.30" y="147.30" width="125.20" height="124.10"/></clipPath>
<g clip-path="url(#tc4)"><g filter="url(#grain)"><rect x="619.30" y="127.30" width="165.20" height="164.10" fill="rgb(56,56,56)" stroke="none" stroke-width="1.04" /><polygon points="633.0,153.5 664.3,159.7 664.3,209.4 676.9,228.0 673.1,246.6 651.8,241.6 633.0,259.0" fill="rgb(93,93,93)" filter="url(#b5)"/><polygon points="674.4,252.8 695.6,246.6 701.9,277.6 664.3,277.6" fill="rgb(86,86,86)" filter="url(#b5)"/><polygon points="676.9,184.5 684.4,182.0 684.4,209.4 676.9,215.6" fill="rgb(95,95,95)" filter="url(#b2)"/><polygon points="639.3,141.1 664.3,141.1 664.3,172.1 649.3,178.3 641.8,165.9" fill="rgb(101,101,101)" filter="url(#b2)"/><polygon points="660.6,141.1 709.4,141.1 701.9,165.9 689.4,179.6 676.9,184.5 668.1,204.4 661.8,196.9 664.3,178.3 658.1,159.7" fill="rgb(116,116,116)" filter="url(#b2_5)"/><polygon points="681.9,184.5 694.4,178.3 689.4,215.6 683.1,209.4" fill="rgb(116,116,116)" filter="url(#b2)"/><polygon points="695.6,165.9 714.4,153.5 754.5,144.8 755.7,165.9 753.2,180.8 739.5,177.1 739.5,196.9 743.2,215.6 734.5,229.2 724.4,234.2 708.2,224.2 691.9,230.4 689.4,215.6 688.1,203.1 691.9,184.5" fill="rgb(165,165,165)" filter="url(#b2)"/><ellipse cx="716.9" cy="165.9" rx="4.4" ry="5.0" transform="rotate(0 716.9 165.9)" fill="rgb(124,124,124)" filter="url(#b1_5)"/><ellipse cx="710.7" cy="149.8" rx="1.9" ry="3.7" transform="rotate(0 710.7 149.8)" fill="rgb(119,119,119)" filter="url(#b1_5)"/><ellipse cx="733.2" cy="170.9" rx="6.3" ry="4.3" transform="rotate(0 733.2 170.9)" fill="rgb(70,70,70)" filter="url(#b1_5)"/><ellipse cx="748.2" cy="159.7" rx="3.8" ry="6.2" transform="rotate(0 748.2 159.7)" fill="rgb(86,86,86)" filter="url(#b1_5)"/><ellipse cx="748.2" cy="182.0" rx="3.8" ry="3.7" transform="rotate(0 748.2 182.0)" fill="rgb(89,89,89)" filter="url(#b1_5)"/><polygon points="708.2,180.8 724.4,174.6 729.4,184.5 737.0,196.9 734.5,209.4 726.9,215.6 714.4,210.6 704.4,204.4 694.4,202.5 699.4,192.0" fill="rgb(222,222,222)" filter="url(#b2)"/><ellipse cx="706.9" cy="194.5" rx="6.3" ry="5.0" transform="rotate(0 706.9 194.5)" fill="rgb(238,238,238)" filter="url(#b1_5)"/><ellipse cx="720.7" cy="180.8" rx="4.4" ry="3.7" transform="rotate(0 720.7 180.8)" fill="rgb(234,234,234)" filter="url(#b1_5)"/><ellipse cx="718.8" cy="205.0" rx="3.5" ry="5.6" transform="rotate(-15 718.8 205.0)" fill="rgb(98,98,98)" filter="url(#b1_5)"/><ellipse cx="701.9" cy="219.3" rx="3.8" ry="3.7" transform="rotate(0 701.9 219.3)" fill="rgb(103,103,103)" filter="url(#b1_5)"/><ellipse cx="716.9" cy="218.0" rx="3.8" ry="1.9" transform="rotate(0 716.9 218.0)" fill="rgb(102,102,102)" filter="url(#b1_5)"/><ellipse cx="714.4" cy="224.2" rx="3.8" ry="2.5" transform="rotate(0 714.4 224.2)" fill="rgb(201,201,201)" filter="url(#b1_5)"/><ellipse cx="724.4" cy="224.2" rx="1.9" ry="1.9" transform="rotate(0 724.4 224.2)" fill="rgb(204,204,204)" filter="url(#b1_5)"/><ellipse cx="673.1" cy="253.4" rx="5.0" ry="1.9" transform="rotate(-10 673.1 253.4)" fill="rgb(121,121,121)" filter="url(#b1_5)"/><ellipse cx="681.9" cy="246.6" rx="1.9" ry="1.9" transform="rotate(0 681.9 246.6)" fill="rgb(113,113,113)" filter="url(#b1_5)"/><ellipse cx="645.6" cy="221.8" rx="1.0" ry="6.2" transform="rotate(0 645.6 221.8)" fill="rgb(106,106,106)" filter="url(#b1_5)"/><ellipse cx="754.5" cy="269.5" rx="5.0" ry="1.5" transform="rotate(-20 754.5 269.5)" fill="rgb(108,108,108)" filter="url(#b1_5)"/></g></g>
<rect x="639.30" y="147.30" width="125.20" height="124.10" fill="none" stroke="#000" stroke-width="1.04"  shape-rendering="crispEdges"/>
<path d="M802.0,359.4 L802.0,354.1 L814.0,354.1 L814.0,302.2 L815.9,302.2 L815.9,273.1 L818.1,273.1 L818.1,206.8 L820.0,206.8 L820.0,146.1 L823.3,146.1 L823.3,99.2 L825.1,99.2 L825.1,73.2 L827.8,73.2 L827.8,359.4 L829.2,359.4 L829.2,86.0 L832.1,86.0 L832.1,158.9 L835.9,158.9 L835.9,190.1 L838.8,190.1 L838.8,263.0 L845.9,263.0 L845.9,303.1 L851.8,303.1 L851.8,332.0 L858.9,332.0 L858.9,338.0 L861.8,338.0 L861.8,359.4 Z" fill="#8B008B"/>
<line x1="826.87" y1="60.1" x2="826.87" y2="359.4" stroke="#a9a9a9" stroke-width="3.6" stroke-dasharray="4.2 10.35"/>
<line x1="830.05" y1="59.60" x2="830.05" y2="359.40" stroke="#000" stroke-width="1.95" />
<rect x="784.50" y="59.60" width="300.10" height="299.80" fill="none" stroke="#000" stroke-width="1.04"  shape-rendering="crispEdges"/>
<line x1="784.50" y1="73.50" x2="789.10" y2="73.50" stroke="#000" stroke-width="1.04"  shape-rendering="crispEdges"/>
<line x1="1080.00" y1="73.50" x2="1084.60" y2="73.50" stroke="#000" stroke-width="1.04"  shape-rendering="crispEdges"/>
<text x="1090.20" y="80.10" font-size="13" text-anchor="start" fill="#000" >1.0</text>
<line x1="784.50" y1="130.68" x2="789.10" y2="130.68" stroke="#000" stroke-width="1.04"  shape-rendering="crispEdges"/>
<line x1="1080.00" y1="130.68" x2="1084.60" y2="130.68" stroke="#000" stroke-width="1.04"  shape-rendering="crispEdges"/>
<text x="1090.20" y="137.28" font-size="13" text-anchor="start" fill="#000" >0.8</text>
<line x1="784.50" y1="187.86" x2="789.10" y2="187.86" stroke="#000" stroke-width="1.04"  shape-rendering="crispEdges"/>
<line x1="1080.00" y1="187.86" x2="1084.60" y2="187.86" stroke="#000" stroke-width="1.04"  shape-rendering="crispEdges"/>
<text x="1090.20" y="194.46" font-size="13" text-anchor="start" fill="#000" >0.6</text>
<line x1="784.50" y1="245.04" x2="789.10" y2="245.04" stroke="#000" stroke-width="1.04"  shape-rendering="crispEdges"/>
<line x1="1080.00" y1="245.04" x2="1084.60" y2="245.04" stroke="#000" stroke-width="1.04"  shape-rendering="crispEdges"/>
<text x="1090.20" y="251.64" font-size="13" text-anchor="start" fill="#000" >0.4</text>
<line x1="784.50" y1="302.22" x2="789.10" y2="302.22" stroke="#000" stroke-width="1.04"  shape-rendering="crispEdges"/>
<line x1="1080.00" y1="302.22" x2="1084.60" y2="302.22" stroke="#000" stroke-width="1.04"  shape-rendering="crispEdges"/>
<text x="1090.20" y="308.82" font-size="13" text-anchor="start" fill="#000" >0.2</text>
<text x="1090.20" y="366.00" font-size="13" text-anchor="start" fill="#000" >0.0</text>
<line x1="819.70" y1="359.40" x2="819.70" y2="364.20" stroke="#000" stroke-width="1.04"  shape-rendering="crispEdges"/>
<text x="819.70" y="380.70" font-size="13" text-anchor="middle" fill="#000" >25</text>
<line x1="864.00" y1="359.40" x2="864.00" y2="364.20" stroke="#000" stroke-width="1.04"  shape-rendering="crispEdges"/>
<text x="864.00" y="380.70" font-size="13" text-anchor="middle" fill="#000" >50</text>
<line x1="908.30" y1="359.40" x2="908.30" y2="364.20" stroke="#000" stroke-width="1.04"  shape-rendering="crispEdges"/>
<text x="908.30" y="380.70" font-size="13" text-anchor="middle" fill="#000" >75</text>
<line x1="952.60" y1="359.40" x2="952.60" y2="364.20" stroke="#000" stroke-width="1.04"  shape-rendering="crispEdges"/>
<text x="952.60" y="380.70" font-size="13" text-anchor="middle" fill="#000" >100</text>
<line x1="996.90" y1="359.40" x2="996.90" y2="364.20" stroke="#000" stroke-width="1.04"  shape-rendering="crispEdges"/>
<text x="996.90" y="380.70" font-size="13" text-anchor="middle" fill="#000" >125</text>
<line x1="1041.20" y1="359.40" x2="1041.20" y2="364.20" stroke="#000" stroke-width="1.04"  shape-rendering="crispEdges"/>
<text x="1041.20" y="380.70" font-size="13" text-anchor="middle" fill="#000" >150</text>
<text x="934.00" y="50.30" font-size="15.6" text-anchor="middle" fill="#000" >Estimated MSW, knots</text>
<text transform="translate(1127.30,211.60) rotate(-90)" font-size="14.3" text-anchor="middle" fill="#000">Relative Prob</text>
<line x1="765.00" y1="395.80" x2="796.80" y2="395.80" stroke="#000" stroke-width="2.1" />
<text x="807.40" y="401.30" font-size="15.6" text-anchor="start" fill="#000" >D-PRINT average</text>
<line x1="970.6" y1="395.8" x2="1000.2" y2="395.8" stroke="#a9a9a9" stroke-width="3.7" stroke-dasharray="4.2 10.35"/>
<text x="1011.00" y="401.30" font-size="15.6" text-anchor="start" fill="#000" >NHC official</text>
<rect x="82.20" y="699.77" width="1006.40" height="7.12" fill="#e4e4e4" stroke="none" stroke-width="1.04" />
<polyline points="108.6,714.5 116.8,714.2 124.9,714.6 133.1,714.9 141.2,714.6 149.4,714.6 157.6,715.1 165.7,715.0 173.9,714.5 182.1,714.5 190.2,714.8 198.4,714.6 206.5,714.3 214.7,714.7 222.9,715.1 231.0,714.8 239.2,714.7 247.3,715.1 255.5,715.0 263.7,714.5 271.8,714.5 280.0,714.9 288.2,714.7 296.3,714.5 304.5,714.9 312.6,715.3 320.8,715.0 329.0,714.7 337.1,715.0 345.3,715.0 353.4,714.5 361.6,714.5 369.8,715.0 377.9,715.0 386.1,714.7 394.3,715.0 402.4,715.4 410.6,715.0 418.7,714.6 426.9,714.9 435.1,714.9 443.2,714.4 451.4,714.4 459.6,714.9 467.7,714.9 475.9,714.5 484.0,714.6 492.2,714.9 500.4,714.5 508.5,714.0 516.7,714.2 524.8,714.4 533.0,714.0 541.2,713.9 549.3,714.5 557.5,714.5 565.7,714.0 573.8,714.0 582.0,714.3 590.1,713.9 598.3,713.4 606.5,713.5 614.6,713.5 622.8,712.9 630.9,712.5 639.1,712.7 647.3,712.4 655.4,711.6 663.6,711.2 671.8,711.2 679.9,710.6 688.1,709.9 696.2,709.9 704.4,710.2 712.6,709.9 720.7,709.7 728.9,710.1 737.0,710.1 745.2,709.6 753.4,709.4 761.5,709.7 769.7,709.6 777.9,709.2 786.0,709.5 794.2,710.0 802.3,709.8 810.5,709.5 818.7,709.8 826.8,709.8 835.0,709.3 843.1,709.1 851.3,709.5 859.5,709.5 867.6,709.2 875.8,709.4 884.0,709.9 892.1,709.7 900.3,709.2 908.4,709.4 916.6,709.6 924.8,709.1 932.9,708.9 941.1,709.3 949.3,709.5 957.4,709.1 965.6,709.3 973.7,709.7 981.9,709.4 990.1,708.9 998.2,709.1 1006.4,709.3 1014.5,708.7 1022.7,708.3 1030.9,708.5 1039.0,708.5 1047.2,707.8 1055.4,707.5 1063.5,707.6 1071.7,707.1 1079.8,706.3 1088.0,706.2" fill="none" stroke="#f032e6" stroke-width="2.3" stroke-linejoin="round" />
<polyline points="108.6,707.0 116.8,706.6 124.9,707.0 133.1,707.2 141.2,706.9 149.4,706.9 157.6,707.3 165.7,707.2 173.9,706.6 182.1,706.6 190.2,706.8 198.4,706.5 206.5,706.2 214.7,706.6 222.9,706.9 231.0,706.6 239.2,706.4 247.3,706.7 255.5,706.5 263.7,705.8 271.8,705.6 280.0,705.8 288.2,705.5 296.3,705.0 304.5,705.3 312.6,705.5 320.8,705.0 329.0,704.5 337.1,704.8 345.3,704.7 353.4,704.1 361.6,704.0 369.8,704.4 377.9,704.3 386.1,704.0 394.3,704.2 402.4,704.5 410.6,704.1 418.7,703.7 426.9,703.7 435.1,703.6 443.2,703.0 451.4,702.7 459.6,703.1 467.7,703.0 475.9,702.4 484.0,702.4 492.2,702.5 500.4,702.0 508.5,701.3 516.7,701.4 524.8,701.3 533.0,700.7 541.2,700.5 549.3,700.8 557.5,700.6 565.7,700.1 573.8,700.1 582.0,700.4 590.1,700.1 598.3,699.6 606.5,699.9 614.6,700.2 622.8,699.9 630.9,699.9 639.1,700.4 647.3,700.4 655.4,699.9 663.6,699.8 671.8,700.1 679.9,699.9 688.1,699.5 696.2,699.8 704.4,700.2 712.6,700.0 720.7,699.8 728.9,700.2 737.0,700.2 745.2,699.7 753.4,699.5 761.5,699.8 769.7,699.7 777.9,699.3 786.0,699.6 794.2,700.1 802.3,699.9 810.5,699.5 818.7,699.8 826.8,699.9 835.0,699.3 843.1,699.1 851.3,699.5 859.5,699.6 867.6,699.2 875.8,699.4 884.0,699.9 892.1,699.7 900.3,699.2 908.4,699.4 916.6,699.5 924.8,698.9 932.9,698.7 941.1,699.1 949.3,699.2 957.4,698.8 965.6,698.9 973.7,699.3 981.9,699.0 990.1,698.4 998.2,698.5 1006.4,698.7 1014.5,698.3 1022.7,698.1 1030.9,698.6 1039.0,698.8 1047.2,698.4 1055.4,698.3 1063.5,698.7 1071.7,698.4 1079.8,697.8 1088.0,697.9" fill="none" stroke="#42eff4" stroke-width="2.3" stroke-linejoin="round" />
<polyline points="108.6,692.2 116.8,691.9 124.9,692.3 133.1,692.5 141.2,692.2 149.4,692.2 157.6,692.6 165.7,692.5 173.9,691.9 182.1,691.9 190.2,692.2 198.4,691.9 206.5,691.6 214.7,692.0 222.9,692.3 231.0,692.0 239.2,691.8 247.3,692.2 255.5,692.1 263.7,691.5 271.8,691.4 280.0,691.8 288.2,691.6 296.3,691.3 304.5,691.7 312.6,692.2 320.8,691.9 329.0,691.6 337.1,692.0 345.3,692.0 353.4,691.5 361.6,691.5 369.8,692.0 377.9,692.1 386.1,691.8 394.3,692.2 402.4,692.6 410.6,692.2 418.7,691.9 426.9,692.3 435.1,692.5 443.2,692.2 451.4,692.3 459.6,693.0 467.7,693.2 475.9,693.0 484.0,693.4 492.2,693.9 500.4,693.6 508.5,693.3 516.7,693.7 524.8,694.0 533.0,693.7 541.2,693.7 549.3,694.4 557.5,694.5 565.7,694.1 573.8,694.2 582.0,694.6 590.1,694.3 598.3,693.9 606.5,694.2 614.6,694.5 622.8,694.1 630.9,694.0 639.1,694.5 647.3,694.5 655.4,694.0 663.6,693.9 671.8,694.1 679.9,693.8 688.1,693.4 696.2,693.6 704.4,694.0 712.6,693.8 720.7,693.5 728.9,693.9 737.0,693.9 745.2,693.3 753.4,693.0 761.5,693.3 769.7,693.1 777.9,692.7 786.0,692.9 794.2,693.3 802.3,693.1 810.5,692.8 818.7,693.0 826.8,693.1 835.0,692.5 843.1,692.3 851.3,692.8 859.5,692.8 867.6,692.4 875.8,692.6 884.0,693.1 892.1,692.9 900.3,692.4 908.4,692.6 916.6,692.7 924.8,692.2 932.9,692.0 941.1,692.5 949.3,692.6 957.4,692.3 965.6,692.5 973.7,693.0 981.9,692.8 990.1,692.4 998.2,692.6 1006.4,692.9 1014.5,692.6 1022.7,692.6 1030.9,693.4 1039.0,693.9 1047.2,693.7 1055.4,694.0 1063.5,694.5 1071.7,694.3 1079.8,693.8 1088.0,693.9" fill="none" stroke="#3cb44b" stroke-width="2.3" stroke-linejoin="round" />
<polyline points="108.6,704.7 116.8,704.2 124.9,704.3 133.1,704.4 141.2,703.9 149.4,703.6 157.6,703.9 165.7,703.4 173.9,702.3 182.1,701.8 190.2,701.6 198.4,700.8 206.5,700.4 214.7,700.8 222.9,701.2 231.0,700.8 239.2,700.6 247.3,701.0 255.5,700.9 263.7,700.3 271.8,700.2 280.0,700.6 288.2,700.4 296.3,700.1 304.5,700.5 312.6,701.0 320.8,700.7 329.0,700.5 337.1,700.9 345.3,700.9 353.4,700.5 361.6,700.8 369.8,702.6 377.9,703.0 386.1,702.7 394.3,703.0 402.4,703.3 410.6,703.0 418.7,702.6 426.9,702.8 435.1,702.9 443.2,702.4 451.4,702.4 459.6,702.9 467.7,703.0 475.9,702.6 484.0,702.8 492.2,703.1 500.4,702.7 508.5,702.2 516.7,702.3 524.8,702.4 533.0,702.0 541.2,701.8 549.3,702.3 557.5,702.3 565.7,701.9 573.8,702.0 582.0,702.4 590.1,702.2 598.3,701.8 606.5,702.1 614.6,702.6 622.8,702.4 630.9,702.4 639.1,703.0 647.3,703.2 655.4,702.9 663.6,703.0 671.8,703.5 679.9,703.4 688.1,703.2 696.2,703.6 704.4,704.2 712.6,704.0 720.7,703.8 728.9,704.2 737.0,704.3 745.2,703.7 753.4,703.6 761.5,704.0 769.7,704.3 777.9,704.3 786.0,704.9 794.2,705.8 802.3,705.8 810.5,705.5 818.7,705.9 826.8,706.0 835.0,705.4 843.1,705.2 851.3,705.7 859.5,705.7 867.6,705.4 875.8,705.6 884.0,706.1 892.1,705.7 900.3,705.2 908.4,705.3 916.6,705.4 924.8,704.8 932.9,704.5 941.1,705.0 949.3,705.4 957.4,705.3 965.6,705.7 973.7,706.3 981.9,706.3 990.1,706.1 998.2,706.5 1006.4,706.8 1014.5,706.4 1022.7,706.2 1030.9,706.8 1039.0,707.0 1047.2,706.5 1055.4,706.3 1063.5,706.5 1071.7,706.1 1079.8,705.4 1088.0,705.4" fill="none" stroke="#f58231" stroke-width="2.3" stroke-linejoin="round" />
<polyline points="108.6,766.5 113.9,764.1 118.6,766.2 125.2,757.5 133.3,758.4 138.4,750.9 144.0,751.5 146.9,744.3 150.6,744.3 154.4,729.2 156.9,727.4 163.4,740.6 167.0,728.3 170.4,732.5 173.2,729.2 177.0,733.6 181.7,729.2 193.0,703.8 195.3,702.9 203.8,723.2 209.4,695.3 216.0,723.2 218.4,718.9 224.1,721.7 230.7,701.0 236.0,684.0 244.8,708.5 252.0,688.8 258.6,707.6 265.5,693.5 268.4,699.1 271.2,695.3 275.3,707.6 279.7,691.6 289.1,678.0 290.0,677.7 291.9,682.4 294.7,674.9 297.5,676.4 301.7,662.7 305.1,676.8 311.3,658.9 314.5,670.2 321.1,646.3 323.5,647.6 325.2,659.8 328.2,660.8 331.4,651.9 334.3,653.2 337.5,658.9 340.9,645.7 347.4,657.6 350.7,658.9 354.0,637.2 362.5,645.7 364.4,661.7 367.2,674.9 370.6,672.1 373.4,656.1 377.6,656.1 383.6,658.3 387.0,675.8 389.8,677.7 393.6,683.4 403.0,641.0 406.8,657.9 410.0,642.9 413.4,655.1 416.6,655.1 426.6,684.3 430.3,682.1 436.5,652.7 446.3,674.5 449.7,666.4 452.4,679.0 455.8,646.6 459.5,669.2 466.1,685.8 478.9,640.6 482.1,648.9 485.9,643.8 489.7,645.7 492.5,654.2 497.2,629.7 502.5,620.3 505.3,631.2 511.7,615.0 517.9,621.2 520.7,610.9 525.4,608.6 528.3,610.5 531.1,601.1 534.8,599.9 538.6,601.8 541.4,595.8 544.8,605.8 548.0,606.1 558.0,585.4 560.7,586.0 567.4,609.9 570.6,607.1 575.3,583.5 577.2,595.4 580.1,596.2 587.0,610.5 593.2,602.4 597.0,600.7 603.2,601.4 606.4,602.2 607.4,607.5 613.0,606.1 616.4,604.3 620.2,599.0 628.1,605.2 636.0,608.6 639.0,619.3 640.3,620.7 649.7,656.4 654.5,654.2 665.8,667.4 669.5,665.1 676.1,680.6 678.6,688.1 681.8,700.3 685.5,700.9 688.9,694.1 693.1,704.7 696.8,704.1 702.5,714.5 705.3,714.8 708.7,721.0 714.7,723.9 715.3,723.3 718.5,731.4 722.2,731.4 728.5,726.6 735.4,732.7 738.3,734.2 744.8,741.7 748.2,737.9 751.4,741.7 754.8,741.7 763.7,747.0 771.2,749.2 774.6,752.6 777.8,749.6 784.4,752.6 787.2,747.7 793.8,754.0 795.7,752.6 797.6,755.3 803.2,749.6 807.6,749.6 810.8,755.3 813.6,754.0 817.4,747.0 826.8,758.3 832.4,759.0 838.1,763.9 845.6,764.7 850.3,757.2 853.2,758.7 856.5,767.1 859.7,756.8 863.5,751.1 866.3,752.1 873.9,744.0 880.5,745.1 882.9,746.4 886.1,744.2 889.5,748.7 894.6,747.0 897.4,745.1 900.0,737.9 903.8,730.4 906.6,726.6 910.4,719.1 914.1,717.6 920.7,717.2 925.4,724.8 928.6,723.3 932.0,736.4 934.8,730.4 942.4,724.4 945.2,731.9 952.7,727.6 955.6,724.4 961.2,722.5 965.0,715.3 968.2,726.6 972.5,730.8 975.3,728.2 981.4,738.3 985.7,737.0 992.3,735.7 998.9,747.4 1001.7,748.9 1008.3,755.3 1013.0,753.0 1018.3,751.5 1022.1,747.4 1025.8,751.5 1031.9,762.1 1034.7,760.6 1039.0,768.1 1043.2,770.9 1047.9,773.7 1050.7,774.1 1054.5,777.5 1062.9,788.4 1069.5,784.7 1078.9,788.4 1085.5,783.5 1088.4,780.3" fill="none" stroke="#dc143c" stroke-width="2.6" stroke-linejoin="round" />
<polyline points="90.7,753.4 130.1,740.9 169.5,715.9 208.9,715.9 248.3,703.4 287.7,690.9 327.1,665.9 366.5,665.9 405.9,665.9 445.3,665.9 484.7,653.4 524.1,628.4 563.5,615.9 602.9,615.9 642.3,640.9 681.7,678.4 721.1,703.4 760.5,715.9 799.9,728.4 839.3,753.4 878.7,740.9 918.1,740.9 957.5,740.9 996.9,753.4 1036.3,778.4 1075.7,783.4 1088.0,784.9" fill="none" stroke="#000" stroke-width="3.1" stroke-linejoin="round" />
<rect x="82.20" y="453.40" width="1006.40" height="349.60" fill="none" stroke="#000" stroke-width="1.04"  shape-rendering="crispEdges"/>
<line x1="77.00" y1="803.40" x2="82.20" y2="803.40" stroke="#000" stroke-width="1.04"  shape-rendering="crispEdges"/>
<text x="72.80" y="809.80" font-size="15.6" text-anchor="end" fill="#000" >-40</text>
<line x1="77.00" y1="778.40" x2="82.20" y2="778.40" stroke="#000" stroke-width="1.04"  shape-rendering="crispEdges"/>
<line x1="77.00" y1="753.40" x2="82.20" y2="753.40" stroke="#000" stroke-width="1.04"  shape-rendering="crispEdges"/>
<text x="72.80" y="759.80" font-size="15.6" text-anchor="end" fill="#000" >-20</text>
<line x1="77.00" y1="728.40" x2="82.20" y2="728.40" stroke="#000" stroke-width="1.04"  shape-rendering="crispEdges"/>
<line x1="77.00" y1="703.40" x2="82.20" y2="703.40" stroke="#000" stroke-width="1.04"  shape-rendering="crispEdges"/>
<text x="72.80" y="709.80" font-size="15.6" text-anchor="end" fill="#000" >0</text>
<line x1="77.00" y1="678.40" x2="82.20" y2="678.40" stroke="#000" stroke-width="1.04"  shape-rendering="crispEdges"/>
<line x1="77.00" y1="653.40" x2="82.20" y2="653.40" stroke="#000" stroke-width="1.04"  shape-rendering="crispEdges"/>
<text x="72.80" y="659.80" font-size="15.6" text-anchor="end" fill="#000" >20</text>
<line x1="77.00" y1="628.40" x2="82.20" y2="628.40" stroke="#000" stroke-width="1.04"  shape-rendering="crispEdges"/>
<line x1="77.00" y1="603.40" x2="82.20" y2="603.40" stroke="#000" stroke-width="1.04"  shape-rendering="crispEdges"/>
<text x="72.80" y="609.80" font-size="15.6" text-anchor="end" fill="#000" >40</text>
<line x1="77.00" y1="578.40" x2="82.20" y2="578.40" stroke="#000" stroke-width="1.04"  shape-rendering="crispEdges"/>
<line x1="77.00" y1="553.40" x2="82.20" y2="553.40" stroke="#000" stroke-width="1.04"  shape-rendering="crispEdges"/>
<text x="72.80" y="559.80" font-size="15.6" text-anchor="end" fill="#000" >60</text>
<line x1="77.00" y1="528.40" x2="82.20" y2="528.40" stroke="#000" stroke-width="1.04"  shape-rendering="crispEdges"/>
<line x1="77.00" y1="503.40" x2="82.20" y2="503.40" stroke="#000" stroke-width="1.04"  shape-rendering="crispEdges"/>
<text x="72.80" y="509.80" font-size="15.6" text-anchor="end" fill="#000" >80</text>
<line x1="77.00" y1="478.40" x2="82.20" y2="478.40" stroke="#000" stroke-width="1.04"  shape-rendering="crispEdges"/>
<line x1="77.00" y1="453.40" x2="82.20" y2="453.40" stroke="#000" stroke-width="1.04"  shape-rendering="crispEdges"/>
<text x="72.80" y="459.80" font-size="15.6" text-anchor="end" fill="#000" >100</text>
<line x1="1088.60" y1="803.40" x2="1093.80" y2="803.40" stroke="#000" stroke-width="1.04"  shape-rendering="crispEdges"/>
<text x="1097.80" y="809.80" font-size="15.6" text-anchor="start" fill="#000" >20</text>
<line x1="1088.60" y1="778.40" x2="1093.80" y2="778.40" stroke="#000" stroke-width="1.04"  shape-rendering="crispEdges"/>
<line x1="1088.60" y1="753.40" x2="1093.80" y2="753.40" stroke="#000" stroke-width="1.04"  shape-rendering="crispEdges"/>
<text x="1097.80" y="759.80" font-size="15.6" text-anchor="start" fill="#000" >40</text>
<line x1="1088.60" y1="728.40" x2="1093.80" y2="728.40" stroke="#000" stroke-width="1.04"  shape-rendering="crispEdges"/>
<line x1="1088.60" y1="703.40" x2="1093.80" y2="703.40" stroke="#000" stroke-width="1.04"  shape-rendering="crispEdges"/>
<text x="1097.80" y="709.80" font-size="15.6" text-anchor="start" fill="#000" >60</text>
<line x1="1088.60" y1="678.40" x2="1093.80" y2="678.40" stroke="#000" stroke-width="1.04"  shape-rendering="crispEdges"/>
<line x1="1088.60" y1="653.40" x2="1093.80" y2="653.40" stroke="#000" stroke-width="1.04"  shape-rendering="crispEdges"/>
<text x="1097.80" y="659.80" font-size="15.6" text-anchor="start" fill="#000" >80</text>
<line x1="1088.60" y1="628.40" x2="1093.80" y2="628.40" stroke="#000" stroke-width="1.04"  shape-rendering="crispEdges"/>
<line x1="1088.60" y1="603.40" x2="1093.80" y2="603.40" stroke="#000" stroke-width="1.04"  shape-rendering="crispEdges"/>
<text x="1097.80" y="609.80" font-size="15.6" text-anchor="start" fill="#000" >100</text>
<line x1="1088.60" y1="578.40" x2="1093.80" y2="578.40" stroke="#000" stroke-width="1.04"  shape-rendering="crispEdges"/>
<line x1="1088.60" y1="553.40" x2="1093.80" y2="553.40" stroke="#000" stroke-width="1.04"  shape-rendering="crispEdges"/>
<text x="1097.80" y="559.80" font-size="15.6" text-anchor="start" fill="#000" >120</text>
<line x1="1088.60" y1="528.40" x2="1093.80" y2="528.40" stroke="#000" stroke-width="1.04"  shape-rendering="crispEdges"/>
<line x1="1088.60" y1="503.40" x2="1093.80" y2="503.40" stroke="#000" stroke-width="1.04"  shape-rendering="crispEdges"/>
<text x="1097.80" y="509.80" font-size="15.6" text-anchor="start" fill="#000" >140</text>
<line x1="1088.60" y1="478.40" x2="1093.80" y2="478.40" stroke="#000" stroke-width="1.04"  shape-rendering="crispEdges"/>
<line x1="1088.60" y1="453.40" x2="1093.80" y2="453.40" stroke="#000" stroke-width="1.04"  shape-rendering="crispEdges"/>
<text x="1097.80" y="459.80" font-size="15.6" text-anchor="start" fill="#000" >160</text>
<line x1="130.10" y1="803.00" x2="130.10" y2="807.60" stroke="#000" stroke-width="1.04"  shape-rendering="crispEdges"/>
<text x="130.10" y="825.60" font-size="15.6" text-anchor="middle" fill="#000" >10/05</text>
<line x1="287.70" y1="803.00" x2="287.70" y2="807.60" stroke="#000" stroke-width="1.04"  shape-rendering="crispEdges"/>
<text x="287.70" y="825.60" font-size="15.6" text-anchor="middle" fill="#000" >10/06</text>
<line x1="445.30" y1="803.00" x2="445.30" y2="807.60" stroke="#000" stroke-width="1.04"  shape-rendering="crispEdges"/>
<text x="445.30" y="825.60" font-size="15.6" text-anchor="middle" fill="#000" >10/07</text>
<line x1="602.90" y1="803.00" x2="602.90" y2="807.60" stroke="#000" stroke-width="1.04"  shape-rendering="crispEdges"/>
<text x="602.90" y="825.60" font-size="15.6" text-anchor="middle" fill="#000" >10/08</text>
<line x1="760.50" y1="803.00" x2="760.50" y2="807.60" stroke="#000" stroke-width="1.04"  shape-rendering="crispEdges"/>
<text x="760.50" y="825.60" font-size="15.6" text-anchor="middle" fill="#000" >10/09</text>
<line x1="918.10" y1="803.00" x2="918.10" y2="807.60" stroke="#000" stroke-width="1.04"  shape-rendering="crispEdges"/>
<text x="918.10" y="825.60" font-size="15.6" text-anchor="middle" fill="#000" >10/10</text>
<line x1="1075.70" y1="803.00" x2="1075.70" y2="807.60" stroke="#000" stroke-width="1.04"  shape-rendering="crispEdges"/>
<text x="1075.70" y="825.60" font-size="15.6" text-anchor="middle" fill="#000" >10/11</text>
<line x1="90.70" y1="803.00" x2="90.70" y2="805.60" stroke="#000" stroke-width="0.8"  shape-rendering="crispEdges"/>
<line x1="169.50" y1="803.00" x2="169.50" y2="805.60" stroke="#000" stroke-width="0.8"  shape-rendering="crispEdges"/>
<line x1="208.90" y1="803.00" x2="208.90" y2="805.60" stroke="#000" stroke-width="0.8"  shape-rendering="crispEdges"/>
<line x1="248.30" y1="803.00" x2="248.30" y2="805.60" stroke="#000" stroke-width="0.8"  shape-rendering="crispEdges"/>
<line x1="327.10" y1="803.00" x2="327.10" y2="805.60" stroke="#000" stroke-width="0.8"  shape-rendering="crispEdges"/>
<line x1="366.50" y1="803.00" x2="366.50" y2="805.60" stroke="#000" stroke-width="0.8"  shape-rendering="crispEdges"/>
<line x1="405.90" y1="803.00" x2="405.90" y2="805.60" stroke="#000" stroke-width="0.8"  shape-rendering="crispEdges"/>
<line x1="484.70" y1="803.00" x2="484.70" y2="805.60" stroke="#000" stroke-width="0.8"  shape-rendering="crispEdges"/>
<line x1="524.10" y1="803.00" x2="524.10" y2="805.60" stroke="#000" stroke-width="0.8"  shape-rendering="crispEdges"/>
<line x1="563.50" y1="803.00" x2="563.50" y2="805.60" stroke="#000" stroke-width="0.8"  shape-rendering="crispEdges"/>
<line x1="642.30" y1="803.00" x2="642.30" y2="805.60" stroke="#000" stroke-width="0.8"  shape-rendering="crispEdges"/>
<line x1="681.70" y1="803.00" x2="681.70" y2="805.60" stroke="#000" stroke-width="0.8"  shape-rendering="crispEdges"/>
<line x1="721.10" y1="803.00" x2="721.10" y2="805.60" stroke="#000" stroke-width="0.8"  shape-rendering="crispEdges"/>
<line x1="799.90" y1="803.00" x2="799.90" y2="805.60" stroke="#000" stroke-width="0.8"  shape-rendering="crispEdges"/>
<line x1="839.30" y1="803.00" x2="839.30" y2="805.60" stroke="#000" stroke-width="0.8"  shape-rendering="crispEdges"/>
<line x1="878.70" y1="803.00" x2="878.70" y2="805.60" stroke="#000" stroke-width="0.8"  shape-rendering="crispEdges"/>
<line x1="957.50" y1="803.00" x2="957.50" y2="805.60" stroke="#000" stroke-width="0.8"  shape-rendering="crispEdges"/>
<line x1="996.90" y1="803.00" x2="996.90" y2="805.60" stroke="#000" stroke-width="0.8"  shape-rendering="crispEdges"/>
<line x1="1036.30" y1="803.00" x2="1036.30" y2="805.60" stroke="#000" stroke-width="0.8"  shape-rendering="crispEdges"/>
<text x="584.40" y="846.20" font-size="15.6" text-anchor="middle" fill="#000" >2025</text>
<text x="584.00" y="442.00" font-size="19.5" text-anchor="middle" fill="#000" >D-PRINT SHAP Values for 2025_16E: updated at 20251011 0150 UTC</text>
<text transform="translate(32.70,629.00) rotate(-90)" font-size="15.95" text-anchor="middle" fill="#000">SHAP Value [kts]</text>
<text transform="translate(1144.00,630.00) rotate(-90)" font-size="15.95" text-anchor="middle" fill="#000">Working Best Track TC Intensity [kt]</text>
<text x="211.00" y="865.30" font-size="15.6" text-anchor="start" fill="#000" >SHAP values:</text>
<line x1="341.00" y1="859.60" x2="374.60" y2="859.60" stroke="#dc143c" stroke-width="2.6" />
<text x="384.60" y="865.30" font-size="15.6" text-anchor="start" fill="#000" >IR</text>
<line x1="430.30" y1="859.60" x2="462.80" y2="859.60" stroke="#42eff4" stroke-width="2.6" />
<text x="472.70" y="865.30" font-size="15.6" text-anchor="start" fill="#000" >History</text>
<line x1="558.00" y1="859.60" x2="590.50" y2="859.60" stroke="#3cb44b" stroke-width="2.6" />
<text x="601.00" y="865.30" font-size="15.6" text-anchor="start" fill="#000" >Position</text>
<line x1="691.50" y1="859.60" x2="724.00" y2="859.60" stroke="#f032e6" stroke-width="2.6" />
<text x="733.60" y="865.30" font-size="15.6" text-anchor="start" fill="#000" >Environment</text>
<line x1="862.50" y1="859.60" x2="894.80" y2="859.60" stroke="#f58231" stroke-width="2.6" />
<text x="905.00" y="865.30" font-size="15.6" text-anchor="start" fill="#000" >GFS Thermo</text>
<line x1="516.20" y1="882.10" x2="549.00" y2="882.10" stroke="#000" stroke-width="3.1" />
<text x="561.20" y="887.60" font-size="15.6" text-anchor="start" fill="#000" >TC Intensity</text>
<g class="lo" filter="url(#soft)">
<rect x="67.80" y="1101.30" width="400.50" height="103.80" fill="#f4f4f4" stroke="none" stroke-width="1.04" />
<rect x="67.80" y="1378.10" width="400.50" height="276.80" fill="#f4f4f4" stroke="none" stroke-width="1.04" />
<line x1="67.80" y1="945.60" x2="468.30" y2="945.60" stroke="#efefef" stroke-width="0.7" stroke-dasharray="0.8 1.6"/>
<line x1="67.80" y1="962.90" x2="468.30" y2="962.90" stroke="#e3e3e3" stroke-width="0.8" />
<line x1="67.80" y1="980.20" x2="468.30" y2="980.20" stroke="#efefef" stroke-width="0.7" stroke-dasharray="0.8 1.6"/>
<line x1="67.80" y1="997.50" x2="468.30" y2="997.50" stroke="#e3e3e3" stroke-width="0.8" />
<line x1="67.80" y1="1014.80" x2="468.30" y2="1014.80" stroke="#efefef" stroke-width="0.7" stroke-dasharray="0.8 1.6"/>
<line x1="67.80" y1="1032.10" x2="468.30" y2="1032.10" stroke="#e3e3e3" stroke-width="0.8" />
<line x1="67.80" y1="1049.40" x2="468.30" y2="1049.40" stroke="#efefef" stroke-width="0.7" stroke-dasharray="0.8 1.6"/>
<line x1="67.80" y1="1066.70" x2="468.30" y2="1066.70" stroke="#e3e3e3" stroke-width="0.8" />
<line x1="67.80" y1="1084.00" x2="468.30" y2="1084.00" stroke="#efefef" stroke-width="0.7" stroke-dasharray="0.8 1.6"/>
<line x1="67.80" y1="1101.30" x2="468.30" y2="1101.30" stroke="#e3e3e3" stroke-width="0.8" />
<line x1="67.80" y1="1118.60" x2="468.30" y2="1118.60" stroke="#efefef" stroke-width="0.7" stroke-dasharray="0.8 1.6"/>
<line x1="67.80" y1="1135.90" x2="468.30" y2="1135.90" stroke="#e3e3e3" stroke-width="0.8" />
<line x1="67.80" y1="1153.20" x2="468.30" y2="1153.20" stroke="#efefef" stroke-width="0.7" stroke-dasharray="0.8 1.6"/>
<line x1="67.80" y1="1170.50" x2="468.30" y2="1170.50" stroke="#e3e3e3" stroke-width="0.8" />
<line x1="67.80" y1="1187.80" x2="468.30" y2="1187.80" stroke="#efefef" stroke-width="0.7" stroke-dasharray="0.8 1.6"/>
<line x1="67.80" y1="1205.10" x2="468.30" y2="1205.10" stroke="#e3e3e3" stroke-width="0.8" />
<line x1="67.80" y1="1222.40" x2="468.30" y2="1222.40" stroke="#efefef" stroke-width="0.7" stroke-dasharray="0.8 1.6"/>
<line x1="67.80" y1="1239.70" x2="468.30" y2="1239.70" stroke="#e3e3e3" stroke-width="0.8" />
<line x1="67.80" y1="1257.00" x2="468.30" y2="1257.00" stroke="#efefef" stroke-width="0.7" stroke-dasharray="0.8 1.6"/>
<line x1="67.80" y1="1274.30" x2="468.30" y2="1274.30" stroke="#e3e3e3" stroke-width="0.8" />
<line x1="67.80" y1="1291.60" x2="468.30" y2="1291.60" stroke="#efefef" stroke-width="0.7" stroke-dasharray="0.8 1.6"/>
<line x1="67.80" y1="1308.90" x2="468.30" y2="1308.90" stroke="#e3e3e3" stroke-width="0.8" />
<line x1="67.80" y1="1326.20" x2="468.30" y2="1326.20" stroke="#efefef" stroke-width="0.7" stroke-dasharray="0.8 1.6"/>
<line x1="67.80" y1="1343.50" x2="468.30" y2="1343.50" stroke="#e3e3e3" stroke-width="0.8" />
<line x1="67.80" y1="1360.80" x2="468.30" y2="1360.80" stroke="#efefef" stroke-width="0.7" stroke-dasharray="0.8 1.6"/>
<line x1="67.80" y1="1378.10" x2="468.30" y2="1378.10" stroke="#e3e3e3" stroke-width="0.8" />
<line x1="67.80" y1="1395.40" x2="468.30" y2="1395.40" stroke="#efefef" stroke-width="0.7" stroke-dasharray="0.8 1.6"/>
<line x1="67.80" y1="1412.70" x2="468.30" y2="1412.70" stroke="#e3e3e3" stroke-width="0.8" />
<line x1="67.80" y1="1430.00" x2="468.30" y2="1430.00" stroke="#efefef" stroke-width="0.7" stroke-dasharray="0.8 1.6"/>
<line x1="67.80" y1="1447.30" x2="468.30" y2="1447.30" stroke="#e3e3e3" stroke-width="0.8" />
<line x1="67.80" y1="1464.60" x2="468.30" y2="1464.60" stroke="#efefef" stroke-width="0.7" stroke-dasharray="0.8 1.6"/>
<line x1="67.80" y1="1481.90" x2="468.30" y2="1481.90" stroke="#e3e3e3" stroke-width="0.8" />
<line x1="67.80" y1="1499.20" x2="468.30" y2="1499.20" stroke="#efefef" stroke-width="0.7" stroke-dasharray="0.8 1.6"/>
<line x1="67.80" y1="1516.50" x2="468.30" y2="1516.50" stroke="#e3e3e3" stroke-width="0.8" />
<line x1="67.80" y1="1533.80" x2="468.30" y2="1533.80" stroke="#efefef" stroke-width="0.7" stroke-dasharray="0.8 1.6"/>
<line x1="67.80" y1="1551.10" x2="468.30" y2="1551.10" stroke="#e3e3e3" stroke-width="0.8" />
<line x1="67.80" y1="1568.40" x2="468.30" y2="1568.40" stroke="#efefef" stroke-width="0.7" stroke-dasharray="0.8 1.6"/>
<line x1="67.80" y1="1585.70" x2="468.30" y2="1585.70" stroke="#e3e3e3" stroke-width="0.8" />
<line x1="67.80" y1="1603.00" x2="468.30" y2="1603.00" stroke="#efefef" stroke-width="0.7" stroke-dasharray="0.8 1.6"/>
<line x1="67.80" y1="1620.30" x2="468.30" y2="1620.30" stroke="#e3e3e3" stroke-width="0.8" />
<line x1="67.80" y1="1637.60" x2="468.30" y2="1637.60" stroke="#efefef" stroke-width="0.7" stroke-dasharray="0.8 1.6"/>
<line x1="67.80" y1="1654.90" x2="468.30" y2="1654.90" stroke="#e3e3e3" stroke-width="0.8" />
<line x1="67.80" y1="1672.20" x2="468.30" y2="1672.20" stroke="#efefef" stroke-width="0.7" stroke-dasharray="0.8 1.6"/>
<line x1="67.80" y1="1689.50" x2="468.30" y2="1689.50" stroke="#e3e3e3" stroke-width="0.8" />
<line x1="67.80" y1="1706.80" x2="468.30" y2="1706.80" stroke="#efefef" stroke-width="0.7" stroke-dasharray="0.8 1.6"/>
<line x1="67.80" y1="1724.10" x2="468.30" y2="1724.10" stroke="#e3e3e3" stroke-width="0.8" />
<line x1="67.80" y1="1741.40" x2="468.30" y2="1741.40" stroke="#efefef" stroke-width="0.7" stroke-dasharray="0.8 1.6"/>
<line x1="67.80" y1="1758.70" x2="468.30" y2="1758.70" stroke="#e3e3e3" stroke-width="0.8" />
<line x1="67.80" y1="1776.00" x2="468.30" y2="1776.00" stroke="#efefef" stroke-width="0.7" stroke-dasharray="0.8 1.6"/>
<line x1="67.80" y1="1793.30" x2="468.30" y2="1793.30" stroke="#e3e3e3" stroke-width="0.8" />
<line x1="67.80" y1="1810.60" x2="468.30" y2="1810.60" stroke="#efefef" stroke-width="0.7" stroke-dasharray="0.8 1.6"/>
<line x1="67.80" y1="1827.90" x2="468.30" y2="1827.90" stroke="#e3e3e3" stroke-width="0.8" />
<line x1="67.80" y1="1845.20" x2="468.30" y2="1845.20" stroke="#efefef" stroke-width="0.7" stroke-dasharray="0.8 1.6"/>
<line x1="67.80" y1="1862.50" x2="468.30" y2="1862.50" stroke="#e3e3e3" stroke-width="0.8" />
<line x1="67.80" y1="1879.80" x2="468.30" y2="1879.80" stroke="#efefef" stroke-width="0.7" stroke-dasharray="0.8 1.6"/>
<line x1="67.80" y1="1897.10" x2="468.30" y2="1897.10" stroke="#e3e3e3" stroke-width="0.8" />
<line x1="67.80" y1="1914.40" x2="468.30" y2="1914.40" stroke="#efefef" stroke-width="0.7" stroke-dasharray="0.8 1.6"/>
<line x1="67.80" y1="1931.70" x2="468.30" y2="1931.70" stroke="#e3e3e3" stroke-width="0.8" />
<line x1="67.80" y1="1949.00" x2="468.30" y2="1949.00" stroke="#efefef" stroke-width="0.7" stroke-dasharray="0.8 1.6"/>
<line x1="67.80" y1="1966.30" x2="468.30" y2="1966.30" stroke="#e3e3e3" stroke-width="0.8" />
<line x1="67.80" y1="1983.60" x2="468.30" y2="1983.60" stroke="#efefef" stroke-width="0.7" stroke-dasharray="0.8 1.6"/>
<line x1="67.80" y1="2000.90" x2="468.30" y2="2000.90" stroke="#e3e3e3" stroke-width="0.8" />
<line x1="67.80" y1="2018.20" x2="468.30" y2="2018.20" stroke="#efefef" stroke-width="0.7" stroke-dasharray="0.8 1.6"/>
<line x1="386.90" y1="928.20" x2="386.90" y2="2035.60" stroke="#999" stroke-width="1.0" />
<line x1="67.80" y1="1101.30" x2="468.30" y2="1101.30" stroke="#111" stroke-width="1.6" />
<line x1="67.80" y1="1205.10" x2="468.30" y2="1205.10" stroke="#111" stroke-width="1.6" />
<line x1="67.80" y1="1378.10" x2="468.30" y2="1378.10" stroke="#111" stroke-width="1.6" />
<line x1="67.80" y1="1654.90" x2="468.30" y2="1654.90" stroke="#111" stroke-width="1.6" />
<circle cx="170.8" cy="945.6" r="3.8" fill="#0a8af9"/>
<circle cx="370.3" cy="980.2" r="3.8" fill="#6d5cd9"/>
<circle cx="271.8" cy="1014.8" r="3.8" fill="#9530b8"/>
<circle cx="361.3" cy="1049.4" r="3.8" fill="#e2007f"/>
<circle cx="85.9" cy="1084.0" r="3.8" fill="#0a8af9"/>
<circle cx="395.5" cy="1118.6" r="3.8" fill="#0a8af9"/>
<circle cx="415.6" cy="1153.2" r="3.8" fill="#0a8af9"/>
<circle cx="386.9" cy="1187.8" r="3.8" fill="#0a8af9"/>
<circle cx="398.0" cy="1222.4" r="3.8" fill="#0a8af9"/>
<circle cx="384.0" cy="1257.0" r="3.8" fill="#0a8af9"/>
<circle cx="449.8" cy="1291.6" r="3.8" fill="#f5045f"/>
<circle cx="392.3" cy="1326.2" r="3.8" fill="#f00468"/>
<circle cx="389.4" cy="1360.8" r="3.8" fill="#f5045c"/>
<circle cx="393.0" cy="1395.4" r="3.8" fill="#0a8af9"/>
<circle cx="390.1" cy="1430.0" r="3.8" fill="#8645c8"/>
<circle cx="387.6" cy="1464.6" r="3.8" fill="#0a8af9"/>
<circle cx="387.2" cy="1499.2" r="3.8" fill="#f80853"/>
<circle cx="353.0" cy="1533.8" r="3.8" fill="#0a8af9"/>
<circle cx="429.6" cy="1568.4" r="3.8" fill="#0a8af9"/>
<circle cx="375.3" cy="1603.0" r="3.8" fill="#0a78ee"/>
<circle cx="350.5" cy="1637.6" r="3.8" fill="#0a8af9"/>
<circle cx="389.4" cy="1672.2" r="3.8" fill="#f5045c"/>
<circle cx="390.1" cy="1706.8" r="3.8" fill="#6d5cd9"/>
<circle cx="368.2" cy="1741.4" r="3.8" fill="#0a8af9"/>
<circle cx="375.3" cy="1776.0" r="3.8" fill="#a41fae"/>
<circle cx="380.0" cy="1810.6" r="3.8" fill="#0a8af9"/>
<circle cx="395.5" cy="1845.2" r="3.8" fill="#0a8af9"/>
<circle cx="371.8" cy="1879.8" r="3.8" fill="#0a8af9"/>
<circle cx="392.6" cy="1914.4" r="3.8" fill="#e2007f"/>
<circle cx="415.6" cy="1949.0" r="3.8" fill="#0a8af9"/>
<circle cx="396.2" cy="1983.6" r="3.8" fill="#0a8af9"/>
<circle cx="355.6" cy="2018.2" r="3.8" fill="#0a8af9"/>
<rect x="67.80" y="928.20" width="400.50" height="1107.40" fill="none" stroke="#444" stroke-width="0.9" />
<line x1="65.20" y1="945.60" x2="67.80" y2="945.60" stroke="#333" stroke-width="0.7" />
<line x1="468.30" y1="945.60" x2="470.90" y2="945.60" stroke="#333" stroke-width="0.7" />
<text x="61.60" y="948.50" font-size="8.0" text-anchor="end" fill="#1e1e1e" >0h_old_IR</text>
<text x="473.00" y="944.60" font-size="8.3" text-anchor="start" fill="#1e1e1e" >0h old IR data</text>
<text x="473.00" y="953.50" font-size="8.3" text-anchor="start" fill="#1e1e1e" >(128x128 grid points)</text>
<line x1="65.20" y1="980.20" x2="67.80" y2="980.20" stroke="#333" stroke-width="0.7" />
<line x1="468.30" y1="980.20" x2="470.90" y2="980.20" stroke="#333" stroke-width="0.7" />
<text x="61.60" y="983.10" font-size="8.0" text-anchor="end" fill="#1e1e1e" >3h_old_IR</text>
<text x="473.00" y="979.20" font-size="8.3" text-anchor="start" fill="#1e1e1e" >3h old IR data</text>
<text x="473.00" y="988.10" font-size="8.3" text-anchor="start" fill="#1e1e1e" >(128x128 grid points)</text>
<line x1="65.20" y1="1014.80" x2="67.80" y2="1014.80" stroke="#333" stroke-width="0.7" />
<line x1="468.30" y1="1014.80" x2="470.90" y2="1014.80" stroke="#333" stroke-width="0.7" />
<text x="61.60" y="1017.70" font-size="8.0" text-anchor="end" fill="#1e1e1e" >6h_old_IR</text>
<text x="473.00" y="1013.80" font-size="8.3" text-anchor="start" fill="#1e1e1e" >6h old IR data</text>
<text x="473.00" y="1022.70" font-size="8.3" text-anchor="start" fill="#1e1e1e" >(128x128 grid points)</text>
<line x1="65.20" y1="1049.40" x2="67.80" y2="1049.40" stroke="#333" stroke-width="0.7" />
<line x1="468.30" y1="1049.40" x2="470.90" y2="1049.40" stroke="#333" stroke-width="0.7" />
<text x="61.60" y="1052.30" font-size="8.0" text-anchor="end" fill="#1e1e1e" >9h_old_IR</text>
<text x="473.00" y="1048.40" font-size="8.3" text-anchor="start" fill="#1e1e1e" >9h old IR data</text>
<text x="473.00" y="1057.30" font-size="8.3" text-anchor="start" fill="#1e1e1e" >(128x128 grid points)</text>
<line x1="65.20" y1="1084.00" x2="67.80" y2="1084.00" stroke="#333" stroke-width="0.7" />
<line x1="468.30" y1="1084.00" x2="470.90" y2="1084.00" stroke="#333" stroke-width="0.7" />
<text x="61.60" y="1086.90" font-size="8.0" text-anchor="end" fill="#1e1e1e" >12h_old_IR</text>
<text x="473.00" y="1083.00" font-size="8.3" text-anchor="start" fill="#1e1e1e" >12h old IR data</text>
<text x="473.00" y="1091.90" font-size="8.3" text-anchor="start" fill="#1e1e1e" >(128x128 grid points)</text>
<line x1="65.20" y1="1118.60" x2="67.80" y2="1118.60" stroke="#333" stroke-width="0.7" />
<line x1="468.30" y1="1118.60" x2="470.90" y2="1118.60" stroke="#333" stroke-width="0.7" />
<text x="61.60" y="1121.50" font-size="8.0" text-anchor="end" fill="#1e1e1e" >DELV</text>
<text x="473.00" y="1121.30" font-size="8.3" text-anchor="start" fill="#1e1e1e" >-12h to 0h Intensity change</text>
<line x1="65.20" y1="1153.20" x2="67.80" y2="1153.20" stroke="#333" stroke-width="0.7" />
<line x1="468.30" y1="1153.20" x2="470.90" y2="1153.20" stroke="#333" stroke-width="0.7" />
<text x="61.60" y="1156.10" font-size="8.0" text-anchor="end" fill="#1e1e1e" >HIST</text>
<text x="473.00" y="1152.20" font-size="8.3" text-anchor="start" fill="#1e1e1e" >The # of 6h periods VMAX</text>
<text x="473.00" y="1161.10" font-size="8.3" text-anchor="start" fill="#1e1e1e" >has been above 20kt</text>
<line x1="65.20" y1="1187.80" x2="67.80" y2="1187.80" stroke="#333" stroke-width="0.7" />
<line x1="468.30" y1="1187.80" x2="470.90" y2="1187.80" stroke="#333" stroke-width="0.7" />
<text x="61.60" y="1190.70" font-size="8.0" text-anchor="end" fill="#1e1e1e" >SPD</text>
<text x="473.00" y="1190.50" font-size="8.3" text-anchor="start" fill="#1e1e1e" >TC Translation Speed</text>
<line x1="65.20" y1="1222.40" x2="67.80" y2="1222.40" stroke="#333" stroke-width="0.7" />
<line x1="468.30" y1="1222.40" x2="470.90" y2="1222.40" stroke="#333" stroke-width="0.7" />
<text x="61.60" y="1225.30" font-size="8.0" text-anchor="end" fill="#1e1e1e" >sin_lat</text>
<text x="473.00" y="1225.10" font-size="8.3" text-anchor="start" fill="#1e1e1e" >Sine of Latitude</text>
<line x1="65.20" y1="1257.00" x2="67.80" y2="1257.00" stroke="#333" stroke-width="0.7" />
<line x1="468.30" y1="1257.00" x2="470.90" y2="1257.00" stroke="#333" stroke-width="0.7" />
<text x="61.60" y="1259.90" font-size="8.0" text-anchor="end" fill="#1e1e1e" >cos_lon</text>
<text x="473.00" y="1259.70" font-size="8.3" text-anchor="start" fill="#1e1e1e" >Cosine of Longitude</text>
<line x1="65.20" y1="1291.60" x2="67.80" y2="1291.60" stroke="#333" stroke-width="0.7" />
<line x1="468.30" y1="1291.60" x2="470.90" y2="1291.60" stroke="#333" stroke-width="0.7" />
<text x="61.60" y="1294.50" font-size="8.0" text-anchor="end" fill="#1e1e1e" >sin_lon</text>
<text x="473.00" y="1294.30" font-size="8.3" text-anchor="start" fill="#1e1e1e" >Sine of Longitude</text>
<line x1="65.20" y1="1326.20" x2="67.80" y2="1326.20" stroke="#333" stroke-width="0.7" />
<line x1="468.30" y1="1326.20" x2="470.90" y2="1326.20" stroke="#333" stroke-width="0.7" />
<text x="61.60" y="1329.10" font-size="8.0" text-anchor="end" fill="#1e1e1e" >DTL</text>
<text x="473.00" y="1328.90" font-size="8.3" text-anchor="start" fill="#1e1e1e" >Distance to Land</text>
<line x1="65.20" y1="1360.80" x2="67.80" y2="1360.80" stroke="#333" stroke-width="0.7" />
<line x1="468.30" y1="1360.80" x2="470.90" y2="1360.80" stroke="#333" stroke-width="0.7" />
<text x="61.60" y="1363.70" font-size="8.0" text-anchor="end" fill="#1e1e1e" >sin_local_time</text>
<text x="473.00" y="1359.80" font-size="8.3" text-anchor="start" fill="#1e1e1e" >Sine of Time of Day</text>
<text x="473.00" y="1368.70" font-size="8.3" text-anchor="start" fill="#1e1e1e" >(Local Solar Time)</text>
<line x1="65.20" y1="1395.40" x2="67.80" y2="1395.40" stroke="#333" stroke-width="0.7" />
<line x1="468.30" y1="1395.40" x2="470.90" y2="1395.40" stroke="#333" stroke-width="0.7" />
<text x="61.60" y="1398.30" font-size="8.0" text-anchor="end" fill="#1e1e1e" >SHRD</text>
<text x="473.00" y="1398.10" font-size="8.3" text-anchor="start" fill="#1e1e1e" >850-200hPa shear (200-800 km)</text>
<line x1="65.20" y1="1430.00" x2="67.80" y2="1430.00" stroke="#333" stroke-width="0.7" />
<line x1="468.30" y1="1430.00" x2="470.90" y2="1430.00" stroke="#333" stroke-width="0.7" />
<text x="61.60" y="1432.90" font-size="8.0" text-anchor="end" fill="#1e1e1e" >SHDC</text>
<text x="473.00" y="1429.00" font-size="8.3" text-anchor="start" fill="#1e1e1e" >850-200hPa shear with</text>
<text x="473.00" y="1437.90" font-size="8.3" text-anchor="start" fill="#1e1e1e" >vortex removed (0-500 km)</text>
<line x1="65.20" y1="1464.60" x2="67.80" y2="1464.60" stroke="#333" stroke-width="0.7" />
<line x1="468.30" y1="1464.60" x2="470.90" y2="1464.60" stroke="#333" stroke-width="0.7" />
<text x="61.60" y="1467.50" font-size="8.0" text-anchor="end" fill="#1e1e1e" >SHRS</text>
<text x="473.00" y="1467.30" font-size="8.3" text-anchor="start" fill="#1e1e1e" >850-500hPa shear (200-800 km)</text>
<line x1="65.20" y1="1499.20" x2="67.80" y2="1499.20" stroke="#333" stroke-width="0.7" />
<line x1="468.30" y1="1499.20" x2="470.90" y2="1499.20" stroke="#333" stroke-width="0.7" />
<text x="61.60" y="1502.10" font-size="8.0" text-anchor="end" fill="#1e1e1e" >MPI</text>
<text x="473.00" y="1501.90" font-size="8.3" text-anchor="start" fill="#1e1e1e" >Maximum potential intensity</text>
<line x1="65.20" y1="1533.80" x2="67.80" y2="1533.80" stroke="#333" stroke-width="0.7" />
<line x1="468.30" y1="1533.80" x2="470.90" y2="1533.80" stroke="#333" stroke-width="0.7" />
<text x="61.60" y="1536.70" font-size="8.0" text-anchor="end" fill="#1e1e1e" >RSST</text>
<text x="473.00" y="1536.50" font-size="8.3" text-anchor="start" fill="#1e1e1e" >Reynolds SST</text>
<line x1="65.20" y1="1568.40" x2="67.80" y2="1568.40" stroke="#333" stroke-width="0.7" />
<line x1="468.30" y1="1568.40" x2="470.90" y2="1568.40" stroke="#333" stroke-width="0.7" />
<text x="61.60" y="1571.30" font-size="8.0" text-anchor="end" fill="#1e1e1e" >COHC</text>
<text x="473.00" y="1571.10" font-size="8.3" text-anchor="start" fill="#1e1e1e" >Climatological Ocean Heat Content</text>
<line x1="65.20" y1="1603.00" x2="67.80" y2="1603.00" stroke="#333" stroke-width="0.7" />
<line x1="468.30" y1="1603.00" x2="470.90" y2="1603.00" stroke="#333" stroke-width="0.7" />
<text x="61.60" y="1605.90" font-size="8.0" text-anchor="end" fill="#1e1e1e" >CD26</text>
<text x="473.00" y="1602.00" font-size="8.3" text-anchor="start" fill="#1e1e1e" >Climatological depth of</text>
<text x="473.00" y="1610.90" font-size="8.3" text-anchor="start" fill="#1e1e1e" >26° C isotherm</text>
<line x1="65.20" y1="1637.60" x2="67.80" y2="1637.60" stroke="#333" stroke-width="0.7" />
<line x1="468.30" y1="1637.60" x2="470.90" y2="1637.60" stroke="#333" stroke-width="0.7" />
<text x="61.60" y="1640.50" font-size="8.0" text-anchor="end" fill="#1e1e1e" >CD20</text>
<text x="473.00" y="1636.60" font-size="8.3" text-anchor="start" fill="#1e1e1e" >Climatological depth of</text>
<text x="473.00" y="1645.50" font-size="8.3" text-anchor="start" fill="#1e1e1e" >20° C isotherm</text>
<line x1="65.20" y1="1672.20" x2="67.80" y2="1672.20" stroke="#333" stroke-width="0.7" />
<line x1="468.30" y1="1672.20" x2="470.90" y2="1672.20" stroke="#333" stroke-width="0.7" />
<text x="61.60" y="1675.10" font-size="8.0" text-anchor="end" fill="#1e1e1e" >DIVC</text>
<text x="473.00" y="1671.20" font-size="8.3" text-anchor="start" fill="#1e1e1e" >200hPa divergence centered at</text>
<text x="473.00" y="1680.10" font-size="8.3" text-anchor="start" fill="#1e1e1e" >850hPa vortex location</text>
<line x1="65.20" y1="1706.80" x2="67.80" y2="1706.80" stroke="#333" stroke-width="0.7" />
<line x1="468.30" y1="1706.80" x2="470.90" y2="1706.80" stroke="#333" stroke-width="0.7" />
<text x="61.60" y="1709.70" font-size="8.0" text-anchor="end" fill="#1e1e1e" >V300</text>
<text x="473.00" y="1705.80" font-size="8.3" text-anchor="start" fill="#1e1e1e" >300hPa tangential wind azimuthally</text>
<text x="473.00" y="1714.70" font-size="8.3" text-anchor="start" fill="#1e1e1e" >averaged at 500 km</text>
<line x1="65.20" y1="1741.40" x2="67.80" y2="1741.40" stroke="#333" stroke-width="0.7" />
<line x1="468.30" y1="1741.40" x2="470.90" y2="1741.40" stroke="#333" stroke-width="0.7" />
<text x="61.60" y="1744.30" font-size="8.0" text-anchor="end" fill="#1e1e1e" >V500</text>
<text x="473.00" y="1740.40" font-size="8.3" text-anchor="start" fill="#1e1e1e" >500hPa tangential wind azimuthally</text>
<text x="473.00" y="1749.30" font-size="8.3" text-anchor="start" fill="#1e1e1e" >averaged at 500 km</text>
<line x1="65.20" y1="1776.00" x2="67.80" y2="1776.00" stroke="#333" stroke-width="0.7" />
<line x1="468.30" y1="1776.00" x2="470.90" y2="1776.00" stroke="#333" stroke-width="0.7" />
<text x="61.60" y="1778.90" font-size="8.0" text-anchor="end" fill="#1e1e1e" >V850</text>
<text x="473.00" y="1775.00" font-size="8.3" text-anchor="start" fill="#1e1e1e" >850hPa tangential wind azimuthally</text>
<text x="473.00" y="1783.90" font-size="8.3" text-anchor="start" fill="#1e1e1e" >averaged at 500 km</text>
<line x1="65.20" y1="1810.60" x2="67.80" y2="1810.60" stroke="#333" stroke-width="0.7" />
<line x1="468.30" y1="1810.60" x2="470.90" y2="1810.60" stroke="#333" stroke-width="0.7" />
<text x="61.60" y="1813.50" font-size="8.0" text-anchor="end" fill="#1e1e1e" >Z850</text>
<text x="473.00" y="1813.30" font-size="8.3" text-anchor="start" fill="#1e1e1e" >850hPa vorticity (0-1000 km)</text>
<line x1="65.20" y1="1845.20" x2="67.80" y2="1845.20" stroke="#333" stroke-width="0.7" />
<line x1="468.30" y1="1845.20" x2="470.90" y2="1845.20" stroke="#333" stroke-width="0.7" />
<text x="61.60" y="1848.10" font-size="8.0" text-anchor="end" fill="#1e1e1e" >U200</text>
<text x="473.00" y="1847.90" font-size="8.3" text-anchor="start" fill="#1e1e1e" >200hPa zonal wind (200-800 km)</text>
<line x1="65.20" y1="1879.80" x2="67.80" y2="1879.80" stroke="#333" stroke-width="0.7" />
<line x1="468.30" y1="1879.80" x2="470.90" y2="1879.80" stroke="#333" stroke-width="0.7" />
<text x="61.60" y="1882.70" font-size="8.0" text-anchor="end" fill="#1e1e1e" >U20C</text>
<text x="473.00" y="1882.50" font-size="8.3" text-anchor="start" fill="#1e1e1e" >200hPa zonal wind (0-500 km)</text>
<line x1="65.20" y1="1914.40" x2="67.80" y2="1914.40" stroke="#333" stroke-width="0.7" />
<line x1="468.30" y1="1914.40" x2="470.90" y2="1914.40" stroke="#333" stroke-width="0.7" />
<text x="61.60" y="1917.30" font-size="8.0" text-anchor="end" fill="#1e1e1e" >V20C</text>
<text x="473.00" y="1917.10" font-size="8.3" text-anchor="start" fill="#1e1e1e" >200hPa meridional wind (0-500 km)</text>
<line x1="65.20" y1="1949.00" x2="67.80" y2="1949.00" stroke="#333" stroke-width="0.7" />
<line x1="468.30" y1="1949.00" x2="470.90" y2="1949.00" stroke="#333" stroke-width="0.7" />
<text x="61.60" y="1951.90" font-size="8.0" text-anchor="end" fill="#1e1e1e" >RHMD</text>
<text x="473.00" y="1948.00" font-size="8.3" text-anchor="start" fill="#1e1e1e" >700-500hPa relative humidity</text>
<text x="473.00" y="1956.90" font-size="8.3" text-anchor="start" fill="#1e1e1e" >(200-800 km)</text>
<line x1="65.20" y1="1983.60" x2="67.80" y2="1983.60" stroke="#333" stroke-width="0.7" />
<line x1="468.30" y1="1983.60" x2="470.90" y2="1983.60" stroke="#333" stroke-width="0.7" />
<text x="61.60" y="1986.50" font-size="8.0" text-anchor="end" fill="#1e1e1e" >EPSS</text>
<text x="473" y="1982.00" font-size="8.3" fill="#1e1e1e">Avg. Δ <tspan dx="1" font-style="italic">θ</tspan><tspan font-size="5.8" dy="1.6">e</tspan><tspan dy="-1.6" dx="1.2"> (only +) btwn parcel lifted from</tspan></text>
<text x="473" y="1992.50" font-size="8.3" fill="#1e1e1e">sfc. and saturated env. <tspan font-style="italic">θ</tspan><tspan font-size="5.8" dy="1.6">e</tspan><tspan dy="-1.6" dx="1.2"> (200-800 km)</tspan></text>
<line x1="65.20" y1="2018.20" x2="67.80" y2="2018.20" stroke="#333" stroke-width="0.7" />
<line x1="468.30" y1="2018.20" x2="470.90" y2="2018.20" stroke="#333" stroke-width="0.7" />
<text x="61.60" y="2021.10" font-size="8.0" text-anchor="end" fill="#1e1e1e" >ENSS</text>
<text x="473" y="2016.60" font-size="8.3" fill="#1e1e1e">Avg. Δ <tspan dx="1" font-style="italic">θ</tspan><tspan font-size="5.8" dy="1.6">e</tspan><tspan dy="-1.6" dx="1.2"> (only -) btwn parcel lifted from</tspan></text>
<text x="473" y="2027.10" font-size="8.3" fill="#1e1e1e">sfc. and saturated env. <tspan font-style="italic">θ</tspan><tspan font-size="5.8" dy="1.6">e</tspan><tspan dy="-1.6" dx="1.2"> (200-800 km)</tspan></text>
<text x="463.80" y="945.20" font-size="9.0" text-anchor="end" fill="#1e1e1e" >Satellite SHAP=-31.6kts</text>
<text x="463.80" y="1118.20" font-size="9.0" text-anchor="end" fill="#1e1e1e" >History SHAP=1.7kts</text>
<text x="463.80" y="1222.00" font-size="9.0" text-anchor="end" fill="#1e1e1e" >Location SHAP=3.6kts</text>
<text x="463.80" y="1395.00" font-size="9.0" text-anchor="end" fill="#1e1e1e" >Environmental SHAP=-1.4kts</text>
<text x="463.80" y="1671.80" font-size="9.0" text-anchor="end" fill="#1e1e1e" >TC Dynamics SHAP=-1.3kts</text>
<line x1="119.90" y1="2035.60" x2="119.90" y2="2038.40" stroke="#333" stroke-width="0.7" />
<text x="119.90" y="2046.60" font-size="7.9" text-anchor="middle" fill="#1e1e1e" >−12.5</text>
<line x1="173.30" y1="2035.60" x2="173.30" y2="2038.40" stroke="#333" stroke-width="0.7" />
<text x="173.30" y="2046.60" font-size="7.9" text-anchor="middle" fill="#1e1e1e" >−10.0</text>
<line x1="226.70" y1="2035.60" x2="226.70" y2="2038.40" stroke="#333" stroke-width="0.7" />
<text x="226.70" y="2046.60" font-size="7.9" text-anchor="middle" fill="#1e1e1e" >−7.5</text>
<line x1="280.10" y1="2035.60" x2="280.10" y2="2038.40" stroke="#333" stroke-width="0.7" />
<text x="280.10" y="2046.60" font-size="7.9" text-anchor="middle" fill="#1e1e1e" >−5.0</text>
<line x1="333.50" y1="2035.60" x2="333.50" y2="2038.40" stroke="#333" stroke-width="0.7" />
<text x="333.50" y="2046.60" font-size="7.9" text-anchor="middle" fill="#1e1e1e" >−2.5</text>
<line x1="386.90" y1="2035.60" x2="386.90" y2="2038.40" stroke="#333" stroke-width="0.7" />
<text x="386.90" y="2046.60" font-size="7.9" text-anchor="middle" fill="#1e1e1e" >0.0</text>
<line x1="440.30" y1="2035.60" x2="440.30" y2="2038.40" stroke="#333" stroke-width="0.7" />
<text x="440.30" y="2046.60" font-size="7.9" text-anchor="middle" fill="#1e1e1e" >2.5</text>
<text x="267.50" y="2059.80" font-size="11.25" text-anchor="middle" fill="#1e1e1e" >SHAP Value [kts]</text>
<text x="334.00" y="919.20" font-size="13.2" text-anchor="middle" fill="#1e1e1e" >Shap values for 2025_16E at 20251011 0150UTC</text>
<rect x="29.20" y="2083.40" width="588.00" height="24.90" fill="url(#shapbar)" stroke="#333" stroke-width="0.7" />
<text x="617.20" y="2078.60" font-size="9.7" text-anchor="end" fill="#1e1e1e" >Feature Value</text>
<text x="20.40" y="2119.80" font-size="9.0" text-anchor="start" fill="#1e1e1e" >Low</text>
<text x="627.20" y="2119.80" font-size="9.0" text-anchor="end" fill="#1e1e1e" >High</text>
<text x="29.2" y="2135.7" font-size="9.05" fill="#1e1e1e">SHAP Value: Amount each feature [listed on Y-axis] contributes to the predicted intensity above or below <tspan text-decoration="underline">60 kts</tspan></text>
<text x="29.20" y="2150.70" font-size="9.05" text-anchor="start" fill="#1e1e1e" >Feature Value: The value of the feature [listed on Y-axis] for the given TC compared to the training dataset</text>
</g>
<g class="lo">
<text x="917.50" y="915.60" font-size="11.85" text-anchor="middle" fill="#1a1a1a" >Comparison of IR SHAP Values for 2025_16E at 20251011 0150UTC</text>
<clipPath id="ic0"><rect x="718.2" y="938.20" width="200.2" height="200.2"/></clipPath>
<g clip-path="url(#ic0)"><g filter="url(#ircm)"><rect x="688.20" y="908.20" width="260.20" height="260.20" fill="rgb(58,58,58)" stroke="none" stroke-width="1.04" /><polygon points="718.2,948.2 742.2,938.2 758.2,998.3 748.2,1048.3 718.2,1038.3" fill="rgb(50,50,50)" filter="url(#b8)"/><polygon points="802.3,1004.3 838.3,978.2 856.3,948.2 870.4,978.2 888.4,1014.3 928.4,1022.3 928.4,1042.3 878.4,1058.3 834.3,1072.3 788.3,1062.3 758.2,1058.3 762.2,1038.3" fill="rgb(40,40,40)" filter="url(#b6)"/><polygon points="708.2,1022.3 768.2,1038.3 768.2,1062.3 708.2,1062.3" fill="rgb(49,49,49)" filter="url(#b8)"/><ellipse cx="878.4" cy="978.2" rx="12.0" ry="24.0" transform="rotate(-20 878.4 978.2)" fill="rgb(42,42,42)" filter="url(#b3)"/><ellipse cx="794.3" cy="978.2" rx="24.0" ry="24.0" transform="rotate(0 794.3 978.2)" fill="rgb(68,68,68)" filter="url(#b7)"/><ellipse cx="768.2" cy="1094.4" rx="64.1" ry="20.0" transform="rotate(-20 768.2 1094.4)" fill="rgb(66,66,66)" filter="url(#b8)"/><ellipse cx="894.4" cy="1058.3" rx="30.0" ry="12.0" transform="rotate(-15 894.4 1058.3)" fill="rgb(62,62,62)" filter="url(#b5)"/><polygon points="798.3,928.2 862.3,928.2 850.3,954.2 834.3,970.2 818.3,982.2 808.3,976.2 802.3,958.2" fill="rgb(77,77,77)" filter="url(#b2_5)"/><ellipse cx="844.3" cy="938.2" rx="16.0" ry="12.0" transform="rotate(0 844.3 938.2)" fill="rgb(100,100,100)" filter="url(#b3)"/><polygon points="858.3,928.2 928.4,928.2 928.4,946.2 904.4,954.2 898.4,978.2 928.4,986.2 928.4,998.3 894.4,1006.3 878.4,1008.3 872.4,988.2 866.3,958.2" fill="rgb(104,104,104)" filter="url(#b2_5)"/><polygon points="870.4,938.2 878.4,938.2 882.4,978.2 874.4,974.2" fill="rgb(136,136,136)" filter="url(#b2)"/><polygon points="894.4,970.2 902.4,988.2 922.4,988.2 898.4,998.3 878.4,1004.3 884.4,992.3" fill="rgb(142,142,142)" filter="url(#b2)"/><ellipse cx="890.4" cy="996.3" rx="6.0" ry="3.0" transform="rotate(-25 890.4 996.3)" fill="rgb(160,160,160)" filter="url(#b1_5)"/><ellipse cx="916.4" cy="966.2" rx="15.0" ry="15.0" transform="rotate(0 916.4 966.2)" fill="rgb(42,42,42)" filter="url(#b2)"/><ellipse cx="874.4" cy="946.2" rx="4.0" ry="6.0" transform="rotate(0 874.4 946.2)" fill="rgb(62,62,62)" filter="url(#b1_5)"/><ellipse cx="890.4" cy="962.2" rx="3.0" ry="8.0" transform="rotate(20 890.4 962.2)" fill="rgb(64,64,64)" filter="url(#b1_5)"/><polygon points="718.2,1148.4 758.2,1128.4 784.3,1110.4 782.3,1090.4 808.3,1086.3 838.3,1094.4 858.3,1098.4 874.4,1104.4 898.4,1098.4 928.4,1086.3 928.4,1148.4" fill="rgb(82,82,82)" filter="url(#b2_5)"/><polygon points="748.2,1148.4 798.3,1114.4 828.3,1106.4 868.4,1112.4 898.4,1106.4 928.4,1096.4 928.4,1148.4" fill="rgb(103,103,103)" filter="url(#b3)"/><polygon points="794.3,1148.4 818.3,1126.4 858.3,1124.4 888.4,1116.4 928.4,1110.4 928.4,1148.4" fill="rgb(136,136,136)" filter="url(#b3_5)"/><ellipse cx="868.4" cy="1134.4" rx="16.0" ry="6.0" transform="rotate(0 868.4 1134.4)" fill="rgb(152,152,152)" filter="url(#b3)"/><ellipse cx="904.4" cy="1126.4" rx="14.0" ry="8.0" transform="rotate(0 904.4 1126.4)" fill="rgb(154,154,154)" filter="url(#b3)"/></g></g>
<rect x="718.20" y="938.20" width="200.20" height="200.20" fill="none" stroke="#333" stroke-width="0.8" />
<text x="818.00" y="934.00" font-size="11.1" text-anchor="middle" fill="#1a1a1a" >0h old IR Data</text>
<line x1="715.40" y1="947.40" x2="718.20" y2="947.40" stroke="#222" stroke-width="0.7" />
<text x="712.60" y="950.80" font-size="9.5" text-anchor="end" fill="#1a1a1a" >29</text>
<line x1="715.40" y1="978.40" x2="718.20" y2="978.40" stroke="#222" stroke-width="0.7" />
<text x="712.60" y="981.80" font-size="9.5" text-anchor="end" fill="#1a1a1a" >28</text>
<line x1="715.40" y1="1009.90" x2="718.20" y2="1009.90" stroke="#222" stroke-width="0.7" />
<text x="712.60" y="1013.30" font-size="9.5" text-anchor="end" fill="#1a1a1a" >27</text>
<line x1="715.40" y1="1041.30" x2="718.20" y2="1041.30" stroke="#222" stroke-width="0.7" />
<text x="712.60" y="1044.70" font-size="9.5" text-anchor="end" fill="#1a1a1a" >26</text>
<line x1="715.40" y1="1072.70" x2="718.20" y2="1072.70" stroke="#222" stroke-width="0.7" />
<text x="712.60" y="1076.10" font-size="9.5" text-anchor="end" fill="#1a1a1a" >25</text>
<line x1="715.40" y1="1104.10" x2="718.20" y2="1104.10" stroke="#222" stroke-width="0.7" />
<text x="712.60" y="1107.50" font-size="9.5" text-anchor="end" fill="#1a1a1a" >24</text>
<line x1="715.40" y1="1135.50" x2="718.20" y2="1135.50" stroke="#222" stroke-width="0.7" />
<text x="712.60" y="1138.90" font-size="9.5" text-anchor="end" fill="#1a1a1a" >23</text>
<line x1="745.20" y1="1138.40" x2="745.20" y2="1141.20" stroke="#222" stroke-width="0.7" />
<text x="744.60" y="1151.00" font-size="9.5" text-anchor="middle" fill="#1a1a1a" textLength="25.8" lengthAdjust="spacingAndGlyphs">−118</text>
<line x1="773.40" y1="1138.40" x2="773.40" y2="1141.20" stroke="#222" stroke-width="0.7" />
<text x="772.80" y="1151.00" font-size="9.5" text-anchor="middle" fill="#1a1a1a" textLength="25.8" lengthAdjust="spacingAndGlyphs">−117</text>
<line x1="801.60" y1="1138.40" x2="801.60" y2="1141.20" stroke="#222" stroke-width="0.7" />
<text x="801.00" y="1151.00" font-size="9.5" text-anchor="middle" fill="#1a1a1a" textLength="25.8" lengthAdjust="spacingAndGlyphs">−116</text>
<line x1="829.80" y1="1138.40" x2="829.80" y2="1141.20" stroke="#222" stroke-width="0.7" />
<text x="829.20" y="1151.00" font-size="9.5" text-anchor="middle" fill="#1a1a1a" textLength="25.8" lengthAdjust="spacingAndGlyphs">−115</text>
<line x1="858.00" y1="1138.40" x2="858.00" y2="1141.20" stroke="#222" stroke-width="0.7" />
<text x="857.40" y="1151.00" font-size="9.5" text-anchor="middle" fill="#1a1a1a" textLength="25.8" lengthAdjust="spacingAndGlyphs">−114</text>
<line x1="886.20" y1="1138.40" x2="886.20" y2="1141.20" stroke="#222" stroke-width="0.7" />
<text x="885.60" y="1151.00" font-size="9.5" text-anchor="middle" fill="#1a1a1a" textLength="25.8" lengthAdjust="spacingAndGlyphs">−113</text>
<line x1="914.40" y1="1138.40" x2="914.40" y2="1141.20" stroke="#222" stroke-width="0.7" />
<text x="913.80" y="1151.00" font-size="9.5" text-anchor="middle" fill="#1a1a1a" textLength="25.8" lengthAdjust="spacingAndGlyphs">−112</text>
<clipPath id="sc0"><rect x="955.6" y="938.20" width="200.2" height="200.2"/></clipPath>
<g clip-path="url(#sc0)"><g filter="url(#seis0)"><rect x="935.60" y="918.20" width="240.20" height="240.20" fill="rgb(15,127,0)" stroke="none" stroke-width="1.04" /><circle cx="1055.7" cy="1030.3" r="72.1" fill="rgb(43,127,0)" filter="url(#b14)"/><circle cx="1055.7" cy="1030.3" r="34.0" fill="rgb(158,128,0)" filter="url(#b7)"/><ellipse cx="1033.7" cy="1058.3" rx="3.8" ry="8.8" transform="rotate(10 1033.7 1058.3)" fill="rgb(114,58,0)" filter="url(#b1)"/><ellipse cx="1065.7" cy="1044.3" rx="6.8" ry="3.6" transform="rotate(40 1065.7 1044.3)" fill="rgb(114,58,0)" filter="url(#b1)"/><ellipse cx="1043.7" cy="1038.3" rx="6.8" ry="3.4" transform="rotate(30 1043.7 1038.3)" fill="rgb(114,65,0)" filter="url(#b1)"/><ellipse cx="1081.7" cy="1004.3" rx="3.8" ry="4.8" transform="rotate(0 1081.7 1004.3)" fill="rgb(114,58,0)" filter="url(#b1)"/><ellipse cx="1041.7" cy="1016.3" rx="6.8" ry="3.2" transform="rotate(30 1041.7 1016.3)" fill="rgb(114,65,0)" filter="url(#b1)"/><ellipse cx="1051.7" cy="1062.3" rx="3.2" ry="4.8" transform="rotate(0 1051.7 1062.3)" fill="rgb(114,65,0)" filter="url(#b1)"/><ellipse cx="1063.7" cy="1062.3" rx="2.8" ry="6.8" transform="rotate(10 1063.7 1062.3)" fill="rgb(114,72,0)" filter="url(#b1)"/><ellipse cx="1075.7" cy="998.3" rx="2.8" ry="6.8" transform="rotate(0 1075.7 998.3)" fill="rgb(114,198,0)" filter="url(#b1)"/><ellipse cx="1059.7" cy="1008.3" rx="6.8" ry="3.2" transform="rotate(-10 1059.7 1008.3)" fill="rgb(114,191,0)" filter="url(#b1)"/><ellipse cx="1027.7" cy="1042.3" rx="3.8" ry="3.8" transform="rotate(0 1027.7 1042.3)" fill="rgb(114,191,0)" filter="url(#b1)"/><ellipse cx="1041.7" cy="1058.3" rx="3.2" ry="6.8" transform="rotate(15 1041.7 1058.3)" fill="rgb(114,184,0)" filter="url(#b1)"/><ellipse cx="1073.7" cy="1044.3" rx="4.8" ry="3.2" transform="rotate(0 1073.7 1044.3)" fill="rgb(114,191,0)" filter="url(#b1)"/><ellipse cx="1049.7" cy="1022.3" rx="4.8" ry="2.8" transform="rotate(0 1049.7 1022.3)" fill="rgb(114,191,0)" filter="url(#b1)"/><ellipse cx="1079.7" cy="1018.3" rx="2.8" ry="4.8" transform="rotate(20 1079.7 1018.3)" fill="rgb(114,184,0)" filter="url(#b1)"/></g></g>
<rect x="955.60" y="938.20" width="200.20" height="200.20" fill="none" stroke="#333" stroke-width="0.8" />
<text x="1055.40" y="934.00" font-size="11.1" text-anchor="middle" fill="#1a1a1a" >SHAP Value=-10.11 kts</text>
<line x1="952.80" y1="947.40" x2="955.60" y2="947.40" stroke="#222" stroke-width="0.7" />
<line x1="952.80" y1="978.40" x2="955.60" y2="978.40" stroke="#222" stroke-width="0.7" />
<line x1="952.80" y1="1009.90" x2="955.60" y2="1009.90" stroke="#222" stroke-width="0.7" />
<line x1="952.80" y1="1041.30" x2="955.60" y2="1041.30" stroke="#222" stroke-width="0.7" />
<line x1="952.80" y1="1072.70" x2="955.60" y2="1072.70" stroke="#222" stroke-width="0.7" />
<line x1="952.80" y1="1104.10" x2="955.60" y2="1104.10" stroke="#222" stroke-width="0.7" />
<line x1="952.80" y1="1135.50" x2="955.60" y2="1135.50" stroke="#222" stroke-width="0.7" />
<line x1="982.60" y1="1138.40" x2="982.60" y2="1141.20" stroke="#222" stroke-width="0.7" />
<line x1="1010.80" y1="1138.40" x2="1010.80" y2="1141.20" stroke="#222" stroke-width="0.7" />
<line x1="1039.00" y1="1138.40" x2="1039.00" y2="1141.20" stroke="#222" stroke-width="0.7" />
<line x1="1067.20" y1="1138.40" x2="1067.20" y2="1141.20" stroke="#222" stroke-width="0.7" />
<line x1="1095.40" y1="1138.40" x2="1095.40" y2="1141.20" stroke="#222" stroke-width="0.7" />
<line x1="1123.60" y1="1138.40" x2="1123.60" y2="1141.20" stroke="#222" stroke-width="0.7" />
<line x1="1151.80" y1="1138.40" x2="1151.80" y2="1141.20" stroke="#222" stroke-width="0.7" />
<clipPath id="ic1"><rect x="718.2" y="1175.40" width="200.2" height="200.2"/></clipPath>
<g clip-path="url(#ic1)"><g filter="url(#ircm)"><rect x="688.20" y="1145.40" width="260.20" height="260.20" fill="rgb(43,43,43)" stroke="none" stroke-width="1.04" /><polygon points="708.2,1165.4 790.3,1165.4 798.3,1205.4 814.3,1235.5 808.3,1251.5 758.2,1261.5 708.2,1279.5" fill="rgb(64,64,64)" filter="url(#b7)"/><polygon points="708.2,1299.5 742.2,1305.5 758.2,1385.6 708.2,1385.6" fill="rgb(54,54,54)" filter="url(#b9)"/><polygon points="818.3,1345.6 878.4,1307.5 928.4,1289.5 928.4,1385.6 788.3,1385.6" fill="rgb(62,62,62)" filter="url(#b6)"/><polygon points="904.4,1259.5 928.4,1255.5 928.4,1319.5 912.4,1307.5" fill="rgb(20,20,20)" filter="url(#b4)"/><polygon points="786.3,1165.4 854.3,1165.4 846.3,1205.4 842.3,1231.5 828.3,1249.5 818.3,1235.5 802.3,1205.4" fill="rgb(78,78,78)" filter="url(#b2_5)"/><polygon points="818.3,1165.4 858.3,1165.4 854.3,1205.4 838.3,1219.4 824.3,1199.4" fill="rgb(104,104,104)" filter="url(#b3)"/><polygon points="848.3,1165.4 928.4,1165.4 928.4,1239.5 904.4,1259.5 878.4,1263.5 858.3,1251.5 844.3,1231.5 854.3,1205.4" fill="rgb(132,132,132)" filter="url(#b2_5)"/><ellipse cx="880.4" cy="1211.4" rx="7.0" ry="12.0" transform="rotate(-20 880.4 1211.4)" fill="rgb(48,48,48)" filter="url(#b2)"/><ellipse cx="870.4" cy="1237.5" rx="7.0" ry="10.0" transform="rotate(10 870.4 1237.5)" fill="rgb(45,45,45)" filter="url(#b2)"/><ellipse cx="902.4" cy="1183.4" rx="4.0" ry="10.0" transform="rotate(0 902.4 1183.4)" fill="rgb(58,58,58)" filter="url(#b1_5)"/><ellipse cx="850.3" cy="1213.4" rx="4.0" ry="4.0" transform="rotate(0 850.3 1213.4)" fill="rgb(64,64,64)" filter="url(#b1_5)"/><ellipse cx="904.4" cy="1207.4" rx="10.0" ry="6.0" transform="rotate(-30 904.4 1207.4)" fill="rgb(100,100,100)" filter="url(#b2)"/><ellipse cx="862.3" cy="1235.5" rx="4.0" ry="8.0" transform="rotate(0 862.3 1235.5)" fill="rgb(100,100,100)" filter="url(#b1_5)"/><ellipse cx="898.4" cy="1241.5" rx="16.0" ry="3.6" transform="rotate(-15 898.4 1241.5)" fill="rgb(60,60,60)" filter="url(#b1_5)"/><ellipse cx="886.4" cy="1235.5" rx="6.0" ry="4.0" transform="rotate(30 886.4 1235.5)" fill="rgb(176,176,176)" filter="url(#b1_5)"/><ellipse cx="870.4" cy="1253.5" rx="8.0" ry="3.0" transform="rotate(15 870.4 1253.5)" fill="rgb(174,174,174)" filter="url(#b1_5)"/><ellipse cx="902.4" cy="1215.4" rx="10.0" ry="8.0" transform="rotate(0 902.4 1215.4)" fill="rgb(155,155,155)" filter="url(#b2)"/><polygon points="774.3,1385.6 808.3,1355.6 828.3,1351.6 854.3,1331.6 864.3,1339.6 858.3,1359.6 878.4,1365.6 890.4,1385.6" fill="rgb(82,82,82)" filter="url(#b2_5)"/><polygon points="824.3,1385.6 842.3,1351.6 858.3,1365.6 864.3,1385.6" fill="rgb(106,106,106)" filter="url(#b2_5)"/><ellipse cx="850.3" cy="1367.6" rx="6.0" ry="4.0" transform="rotate(0 850.3 1367.6)" fill="rgb(64,64,64)" filter="url(#b1_5)"/><polygon points="898.4,1385.6 906.4,1355.6 928.4,1347.6 928.4,1385.6" fill="rgb(112,112,112)" filter="url(#b2_5)"/><ellipse cx="916.4" cy="1373.6" rx="8.0" ry="6.0" transform="rotate(0 916.4 1373.6)" fill="rgb(136,136,136)" filter="url(#b2)"/><ellipse cx="792.3" cy="1331.6" rx="2.0" ry="2.0" transform="rotate(0 792.3 1331.6)" fill="rgb(95,95,95)" filter="url(#b1)"/></g></g>
<rect x="718.20" y="1175.40" width="200.20" height="200.20" fill="none" stroke="#333" stroke-width="0.8" />
<text x="818.00" y="1171.20" font-size="11.1" text-anchor="middle" fill="#1a1a1a" >3h old IR Data</text>
<line x1="715.40" y1="1184.60" x2="718.20" y2="1184.60" stroke="#222" stroke-width="0.7" />
<text x="712.60" y="1188.00" font-size="9.5" text-anchor="end" fill="#1a1a1a" >29</text>
<line x1="715.40" y1="1215.60" x2="718.20" y2="1215.60" stroke="#222" stroke-width="0.7" />
<text x="712.60" y="1219.00" font-size="9.5" text-anchor="end" fill="#1a1a1a" >28</text>
<line x1="715.40" y1="1247.10" x2="718.20" y2="1247.10" stroke="#222" stroke-width="0.7" />
<text x="712.60" y="1250.50" font-size="9.5" text-anchor="end" fill="#1a1a1a" >27</text>
<line x1="715.40" y1="1278.50" x2="718.20" y2="1278.50" stroke="#222" stroke-width="0.7" />
<text x="712.60" y="1281.90" font-size="9.5" text-anchor="end" fill="#1a1a1a" >26</text>
<line x1="715.40" y1="1309.90" x2="718.20" y2="1309.90" stroke="#222" stroke-width="0.7" />
<text x="712.60" y="1313.30" font-size="9.5" text-anchor="end" fill="#1a1a1a" >25</text>
<line x1="715.40" y1="1341.30" x2="718.20" y2="1341.30" stroke="#222" stroke-width="0.7" />
<text x="712.60" y="1344.70" font-size="9.5" text-anchor="end" fill="#1a1a1a" >24</text>
<line x1="715.40" y1="1372.70" x2="718.20" y2="1372.70" stroke="#222" stroke-width="0.7" />
<text x="712.60" y="1376.10" font-size="9.5" text-anchor="end" fill="#1a1a1a" >23</text>
<line x1="745.20" y1="1375.60" x2="745.20" y2="1378.40" stroke="#222" stroke-width="0.7" />
<text x="744.60" y="1388.20" font-size="9.5" text-anchor="middle" fill="#1a1a1a" textLength="25.8" lengthAdjust="spacingAndGlyphs">−118</text>
<line x1="773.40" y1="1375.60" x2="773.40" y2="1378.40" stroke="#222" stroke-width="0.7" />
<text x="772.80" y="1388.20" font-size="9.5" text-anchor="middle" fill="#1a1a1a" textLength="25.8" lengthAdjust="spacingAndGlyphs">−117</text>
<line x1="801.60" y1="1375.60" x2="801.60" y2="1378.40" stroke="#222" stroke-width="0.7" />
<text x="801.00" y="1388.20" font-size="9.5" text-anchor="middle" fill="#1a1a1a" textLength="25.8" lengthAdjust="spacingAndGlyphs">−116</text>
<line x1="829.80" y1="1375.60" x2="829.80" y2="1378.40" stroke="#222" stroke-width="0.7" />
<text x="829.20" y="1388.20" font-size="9.5" text-anchor="middle" fill="#1a1a1a" textLength="25.8" lengthAdjust="spacingAndGlyphs">−115</text>
<line x1="858.00" y1="1375.60" x2="858.00" y2="1378.40" stroke="#222" stroke-width="0.7" />
<text x="857.40" y="1388.20" font-size="9.5" text-anchor="middle" fill="#1a1a1a" textLength="25.8" lengthAdjust="spacingAndGlyphs">−114</text>
<line x1="886.20" y1="1375.60" x2="886.20" y2="1378.40" stroke="#222" stroke-width="0.7" />
<text x="885.60" y="1388.20" font-size="9.5" text-anchor="middle" fill="#1a1a1a" textLength="25.8" lengthAdjust="spacingAndGlyphs">−113</text>
<line x1="914.40" y1="1375.60" x2="914.40" y2="1378.40" stroke="#222" stroke-width="0.7" />
<text x="913.80" y="1388.20" font-size="9.5" text-anchor="middle" fill="#1a1a1a" textLength="25.8" lengthAdjust="spacingAndGlyphs">−112</text>
<clipPath id="sc1"><rect x="955.6" y="1175.40" width="200.2" height="200.2"/></clipPath>
<g clip-path="url(#sc1)"><g filter="url(#seis1)"><rect x="935.60" y="1155.40" width="240.20" height="240.20" fill="rgb(8,128,0)" stroke="none" stroke-width="1.04" /><circle cx="1067.7" cy="1261.5" r="60.1" fill="rgb(33,128,0)" filter="url(#b14)"/><circle cx="1067.7" cy="1261.5" r="22.0" fill="rgb(158,128,0)" filter="url(#b7)"/><ellipse cx="1052.7" cy="1255.5" rx="3.2" ry="5.8" transform="rotate(0 1052.7 1255.5)" fill="rgb(114,58,0)" filter="url(#b1)"/><ellipse cx="1080.7" cy="1241.5" rx="3.2" ry="6.8" transform="rotate(-20 1080.7 1241.5)" fill="rgb(114,65,0)" filter="url(#b1)"/><ellipse cx="1064.7" cy="1253.5" rx="3.2" ry="5.8" transform="rotate(10 1064.7 1253.5)" fill="rgb(114,65,0)" filter="url(#b1)"/><ellipse cx="1095.7" cy="1265.5" rx="3.2" ry="5.8" transform="rotate(30 1095.7 1265.5)" fill="rgb(114,72,0)" filter="url(#b1)"/><ellipse cx="1067.7" cy="1277.5" rx="4.8" ry="2.8" transform="rotate(30 1067.7 1277.5)" fill="rgb(114,65,0)" filter="url(#b1)"/><ellipse cx="1045.7" cy="1265.5" rx="3.8" ry="3.8" transform="rotate(0 1045.7 1265.5)" fill="rgb(114,79,0)" filter="url(#b1)"/><ellipse cx="1058.7" cy="1253.5" rx="3.4" ry="5.8" transform="rotate(0 1058.7 1253.5)" fill="rgb(114,198,0)" filter="url(#b1)"/><ellipse cx="1071.7" cy="1273.5" rx="3.8" ry="7.8" transform="rotate(-25 1071.7 1273.5)" fill="rgb(114,191,0)" filter="url(#b1)"/><ellipse cx="1075.7" cy="1237.5" rx="2.4" ry="4.8" transform="rotate(0 1075.7 1237.5)" fill="rgb(114,191,0)" filter="url(#b1)"/><ellipse cx="1067.7" cy="1282.5" rx="4.8" ry="3.2" transform="rotate(0 1067.7 1282.5)" fill="rgb(114,191,0)" filter="url(#b1)"/><ellipse cx="1083.7" cy="1255.5" rx="3.2" ry="6.8" transform="rotate(0 1083.7 1255.5)" fill="rgb(114,170,0)" filter="url(#b1)"/></g></g>
<rect x="955.60" y="1175.40" width="200.20" height="200.20" fill="none" stroke="#333" stroke-width="0.8" />
<text x="1055.40" y="1171.20" font-size="11.1" text-anchor="middle" fill="#1a1a1a" >SHAP Value=-0.79 kts</text>
<line x1="952.80" y1="1184.60" x2="955.60" y2="1184.60" stroke="#222" stroke-width="0.7" />
<line x1="952.80" y1="1215.60" x2="955.60" y2="1215.60" stroke="#222" stroke-width="0.7" />
<line x1="952.80" y1="1247.10" x2="955.60" y2="1247.10" stroke="#222" stroke-width="0.7" />
<line x1="952.80" y1="1278.50" x2="955.60" y2="1278.50" stroke="#222" stroke-width="0.7" />
<line x1="952.80" y1="1309.90" x2="955.60" y2="1309.90" stroke="#222" stroke-width="0.7" />
<line x1="952.80" y1="1341.30" x2="955.60" y2="1341.30" stroke="#222" stroke-width="0.7" />
<line x1="952.80" y1="1372.70" x2="955.60" y2="1372.70" stroke="#222" stroke-width="0.7" />
<line x1="982.60" y1="1375.60" x2="982.60" y2="1378.40" stroke="#222" stroke-width="0.7" />
<line x1="1010.80" y1="1375.60" x2="1010.80" y2="1378.40" stroke="#222" stroke-width="0.7" />
<line x1="1039.00" y1="1375.60" x2="1039.00" y2="1378.40" stroke="#222" stroke-width="0.7" />
<line x1="1067.20" y1="1375.60" x2="1067.20" y2="1378.40" stroke="#222" stroke-width="0.7" />
<line x1="1095.40" y1="1375.60" x2="1095.40" y2="1378.40" stroke="#222" stroke-width="0.7" />
<line x1="1123.60" y1="1375.60" x2="1123.60" y2="1378.40" stroke="#222" stroke-width="0.7" />
<line x1="1151.80" y1="1375.60" x2="1151.80" y2="1378.40" stroke="#222" stroke-width="0.7" />
<clipPath id="ic2"><rect x="718.2" y="1412.60" width="200.2" height="200.2"/></clipPath>
<g clip-path="url(#ic2)"><g filter="url(#ircm)"><rect x="688.20" y="1382.60" width="260.20" height="260.20" fill="rgb(45,45,45)" stroke="none" stroke-width="1.04" /><polygon points="708.2,1402.6 788.3,1402.6 784.3,1452.6 798.3,1476.7 778.3,1502.7 748.2,1512.7 708.2,1524.7" fill="rgb(63,63,63)" filter="url(#b7)"/><polygon points="708.2,1562.8 748.2,1572.8 778.3,1622.8 708.2,1622.8" fill="rgb(54,54,54)" filter="url(#b9)"/><polygon points="838.3,1622.8 878.4,1582.8 908.4,1552.7 914.4,1568.8 878.4,1622.8" fill="rgb(56,56,56)" filter="url(#b5)"/><polygon points="886.4,1496.7 928.4,1484.7 928.4,1576.8 910.4,1552.7 898.4,1512.7" fill="rgb(12,12,12)" filter="url(#b3_5)"/><polygon points="780.3,1402.6 850.3,1402.6 838.3,1432.6 830.3,1472.7 810.3,1484.7 798.3,1464.7 784.3,1442.6" fill="rgb(78,78,78)" filter="url(#b2_5)"/><polygon points="798.3,1402.6 846.3,1402.6 838.3,1462.6 814.3,1470.7 802.3,1436.6" fill="rgb(102,102,102)" filter="url(#b3)"/><polygon points="838.3,1412.6 910.4,1412.6 904.4,1452.6 900.4,1472.7 890.4,1498.7 878.4,1514.7 848.3,1514.7 832.3,1498.7 828.3,1472.7 828.3,1442.6" fill="rgb(141,141,141)" filter="url(#b3)"/><ellipse cx="854.3" cy="1448.6" rx="11.0" ry="16.0" transform="rotate(-10 854.3 1448.6)" fill="rgb(172,172,172)" filter="url(#b2_5)"/><ellipse cx="874.4" cy="1426.6" rx="4.0" ry="10.0" transform="rotate(30 874.4 1426.6)" fill="rgb(170,170,170)" filter="url(#b2)"/><ellipse cx="838.3" cy="1488.7" rx="4.0" ry="10.0" transform="rotate(-10 838.3 1488.7)" fill="rgb(172,172,172)" filter="url(#b1_5)"/><ellipse cx="858.3" cy="1503.7" rx="10.0" ry="4.0" transform="rotate(15 858.3 1503.7)" fill="rgb(178,178,178)" filter="url(#b1_5)"/><ellipse cx="892.4" cy="1468.7" rx="6.0" ry="6.0" transform="rotate(0 892.4 1468.7)" fill="rgb(172,172,172)" filter="url(#b1_5)"/><ellipse cx="888.4" cy="1452.6" rx="5.0" ry="6.0" transform="rotate(0 888.4 1452.6)" fill="rgb(46,46,46)" filter="url(#b1_5)"/><ellipse cx="850.3" cy="1474.7" rx="6.0" ry="5.0" transform="rotate(0 850.3 1474.7)" fill="rgb(92,92,92)" filter="url(#b1_5)"/><ellipse cx="867.3" cy="1478.7" rx="3.0" ry="5.0" transform="rotate(0 867.3 1478.7)" fill="rgb(58,58,58)" filter="url(#b1_2)"/><ellipse cx="880.4" cy="1478.7" rx="4.0" ry="4.0" transform="rotate(0 880.4 1478.7)" fill="rgb(60,60,60)" filter="url(#b1_2)"/><ellipse cx="874.4" cy="1490.7" rx="4.0" ry="3.0" transform="rotate(0 874.4 1490.7)" fill="rgb(62,62,62)" filter="url(#b1_2)"/><ellipse cx="828.3" cy="1478.7" rx="6.0" ry="6.0" transform="rotate(0 828.3 1478.7)" fill="rgb(72,72,72)" filter="url(#b1_5)"/><ellipse cx="782.3" cy="1582.8" rx="11.0" ry="2.4" transform="rotate(-40 782.3 1582.8)" fill="rgb(100,100,100)" filter="url(#b1_2)"/><ellipse cx="789.3" cy="1566.8" rx="1.6" ry="4.0" transform="rotate(0 789.3 1566.8)" fill="rgb(95,95,95)" filter="url(#b1)"/><ellipse cx="898.4" cy="1560.7" rx="12.0" ry="2.4" transform="rotate(-30 898.4 1560.7)" fill="rgb(94,94,94)" filter="url(#b1_2)"/><ellipse cx="858.3" cy="1580.8" rx="8.0" ry="2.0" transform="rotate(-20 858.3 1580.8)" fill="rgb(92,92,92)" filter="url(#b1_2)"/><ellipse cx="850.3" cy="1607.8" rx="10.0" ry="2.4" transform="rotate(-25 850.3 1607.8)" fill="rgb(90,90,90)" filter="url(#b1_2)"/><ellipse cx="816.3" cy="1501.7" rx="2.0" ry="2.4" transform="rotate(0 816.3 1501.7)" fill="rgb(95,95,95)" filter="url(#b1)"/></g></g>
<rect x="718.20" y="1412.60" width="200.20" height="200.20" fill="none" stroke="#333" stroke-width="0.8" />
<text x="818.00" y="1408.40" font-size="11.1" text-anchor="middle" fill="#1a1a1a" >6h old IR Data</text>
<line x1="715.40" y1="1421.80" x2="718.20" y2="1421.80" stroke="#222" stroke-width="0.7" />
<text x="712.60" y="1425.20" font-size="9.5" text-anchor="end" fill="#1a1a1a" >29</text>
<line x1="715.40" y1="1452.80" x2="718.20" y2="1452.80" stroke="#222" stroke-width="0.7" />
<text x="712.60" y="1456.20" font-size="9.5" text-anchor="end" fill="#1a1a1a" >28</text>
<line x1="715.40" y1="1484.30" x2="718.20" y2="1484.30" stroke="#222" stroke-width="0.7" />
<text x="712.60" y="1487.70" font-size="9.5" text-anchor="end" fill="#1a1a1a" >27</text>
<line x1="715.40" y1="1515.70" x2="718.20" y2="1515.70" stroke="#222" stroke-width="0.7" />
<text x="712.60" y="1519.10" font-size="9.5" text-anchor="end" fill="#1a1a1a" >26</text>
<line x1="715.40" y1="1547.10" x2="718.20" y2="1547.10" stroke="#222" stroke-width="0.7" />
<text x="712.60" y="1550.50" font-size="9.5" text-anchor="end" fill="#1a1a1a" >25</text>
<line x1="715.40" y1="1578.50" x2="718.20" y2="1578.50" stroke="#222" stroke-width="0.7" />
<text x="712.60" y="1581.90" font-size="9.5" text-anchor="end" fill="#1a1a1a" >24</text>
<line x1="715.40" y1="1609.90" x2="718.20" y2="1609.90" stroke="#222" stroke-width="0.7" />
<text x="712.60" y="1613.30" font-size="9.5" text-anchor="end" fill="#1a1a1a" >23</text>
<line x1="745.20" y1="1612.80" x2="745.20" y2="1615.60" stroke="#222" stroke-width="0.7" />
<text x="744.60" y="1625.40" font-size="9.5" text-anchor="middle" fill="#1a1a1a" textLength="25.8" lengthAdjust="spacingAndGlyphs">−118</text>
<line x1="773.40" y1="1612.80" x2="773.40" y2="1615.60" stroke="#222" stroke-width="0.7" />
<text x="772.80" y="1625.40" font-size="9.5" text-anchor="middle" fill="#1a1a1a" textLength="25.8" lengthAdjust="spacingAndGlyphs">−117</text>
<line x1="801.60" y1="1612.80" x2="801.60" y2="1615.60" stroke="#222" stroke-width="0.7" />
<text x="801.00" y="1625.40" font-size="9.5" text-anchor="middle" fill="#1a1a1a" textLength="25.8" lengthAdjust="spacingAndGlyphs">−116</text>
<line x1="829.80" y1="1612.80" x2="829.80" y2="1615.60" stroke="#222" stroke-width="0.7" />
<text x="829.20" y="1625.40" font-size="9.5" text-anchor="middle" fill="#1a1a1a" textLength="25.8" lengthAdjust="spacingAndGlyphs">−115</text>
<line x1="858.00" y1="1612.80" x2="858.00" y2="1615.60" stroke="#222" stroke-width="0.7" />
<text x="857.40" y="1625.40" font-size="9.5" text-anchor="middle" fill="#1a1a1a" textLength="25.8" lengthAdjust="spacingAndGlyphs">−114</text>
<line x1="886.20" y1="1612.80" x2="886.20" y2="1615.60" stroke="#222" stroke-width="0.7" />
<text x="885.60" y="1625.40" font-size="9.5" text-anchor="middle" fill="#1a1a1a" textLength="25.8" lengthAdjust="spacingAndGlyphs">−113</text>
<line x1="914.40" y1="1612.80" x2="914.40" y2="1615.60" stroke="#222" stroke-width="0.7" />
<text x="913.80" y="1625.40" font-size="9.5" text-anchor="middle" fill="#1a1a1a" textLength="25.8" lengthAdjust="spacingAndGlyphs">−112</text>
<clipPath id="sc2"><rect x="955.6" y="1412.60" width="200.2" height="200.2"/></clipPath>
<g clip-path="url(#sc2)"><g filter="url(#seis2)"><rect x="935.60" y="1392.60" width="240.20" height="240.20" fill="rgb(10,127,0)" stroke="none" stroke-width="1.04" /><circle cx="1049.7" cy="1504.7" r="60.1" fill="rgb(33,127,0)" filter="url(#b14)"/><circle cx="1049.7" cy="1504.7" r="26.0" fill="rgb(134,128,0)" filter="url(#b7)"/><ellipse cx="1045.7" cy="1502.7" rx="4.4" ry="3.6" transform="rotate(0 1045.7 1502.7)" fill="rgb(97,58,0)" filter="url(#b1)"/><ellipse cx="1049.7" cy="1488.7" rx="6.8" ry="3.2" transform="rotate(20 1049.7 1488.7)" fill="rgb(97,72,0)" filter="url(#b1)"/><ellipse cx="1039.7" cy="1522.7" rx="3.2" ry="6.8" transform="rotate(0 1039.7 1522.7)" fill="rgb(97,79,0)" filter="url(#b1)"/><ellipse cx="1035.7" cy="1492.7" rx="3.8" ry="3.8" transform="rotate(0 1035.7 1492.7)" fill="rgb(97,79,0)" filter="url(#b1)"/><ellipse cx="1055.7" cy="1532.7" rx="2.8" ry="5.8" transform="rotate(0 1055.7 1532.7)" fill="rgb(97,86,0)" filter="url(#b1)"/><ellipse cx="1083.7" cy="1472.7" rx="2.4" ry="5.8" transform="rotate(0 1083.7 1472.7)" fill="rgb(97,93,0)" filter="url(#b1)"/><ellipse cx="1059.7" cy="1486.7" rx="3.8" ry="4.8" transform="rotate(0 1059.7 1486.7)" fill="rgb(97,184,0)" filter="url(#b1)"/><ellipse cx="1035.7" cy="1532.7" rx="3.8" ry="4.8" transform="rotate(0 1035.7 1532.7)" fill="rgb(97,177,0)" filter="url(#b1)"/><ellipse cx="1045.7" cy="1536.7" rx="2.8" ry="4.8" transform="rotate(0 1045.7 1536.7)" fill="rgb(97,170,0)" filter="url(#b1)"/><ellipse cx="1065.7" cy="1512.7" rx="3.2" ry="3.2" transform="rotate(0 1065.7 1512.7)" fill="rgb(97,170,0)" filter="url(#b1)"/></g></g>
<rect x="955.60" y="1412.60" width="200.20" height="200.20" fill="none" stroke="#333" stroke-width="0.8" />
<text x="1055.40" y="1408.40" font-size="11.1" text-anchor="middle" fill="#1a1a1a" >SHAP Value=-5.38 kts</text>
<line x1="952.80" y1="1421.80" x2="955.60" y2="1421.80" stroke="#222" stroke-width="0.7" />
<line x1="952.80" y1="1452.80" x2="955.60" y2="1452.80" stroke="#222" stroke-width="0.7" />
<line x1="952.80" y1="1484.30" x2="955.60" y2="1484.30" stroke="#222" stroke-width="0.7" />
<line x1="952.80" y1="1515.70" x2="955.60" y2="1515.70" stroke="#222" stroke-width="0.7" />
<line x1="952.80" y1="1547.10" x2="955.60" y2="1547.10" stroke="#222" stroke-width="0.7" />
<line x1="952.80" y1="1578.50" x2="955.60" y2="1578.50" stroke="#222" stroke-width="0.7" />
<line x1="952.80" y1="1609.90" x2="955.60" y2="1609.90" stroke="#222" stroke-width="0.7" />
<line x1="982.60" y1="1612.80" x2="982.60" y2="1615.60" stroke="#222" stroke-width="0.7" />
<line x1="1010.80" y1="1612.80" x2="1010.80" y2="1615.60" stroke="#222" stroke-width="0.7" />
<line x1="1039.00" y1="1612.80" x2="1039.00" y2="1615.60" stroke="#222" stroke-width="0.7" />
<line x1="1067.20" y1="1612.80" x2="1067.20" y2="1615.60" stroke="#222" stroke-width="0.7" />
<line x1="1095.40" y1="1612.80" x2="1095.40" y2="1615.60" stroke="#222" stroke-width="0.7" />
<line x1="1123.60" y1="1612.80" x2="1123.60" y2="1615.60" stroke="#222" stroke-width="0.7" />
<line x1="1151.80" y1="1612.80" x2="1151.80" y2="1615.60" stroke="#222" stroke-width="0.7" />
<clipPath id="ic3"><rect x="718.2" y="1649.80" width="200.2" height="200.2"/></clipPath>
<g clip-path="url(#ic3)"><g filter="url(#ircm)"><rect x="688.20" y="1619.80" width="260.20" height="260.20" fill="rgb(45,45,45)" stroke="none" stroke-width="1.04" /><polygon points="708.2,1639.8 748.2,1639.8 768.2,1689.8 778.3,1719.9 798.3,1759.9 778.3,1769.9 738.2,1773.9 708.2,1781.9" fill="rgb(65,65,65)" filter="url(#b7)"/><polygon points="722.2,1806.0 768.2,1814.0 802.3,1860.0 708.2,1860.0 708.2,1810.0" fill="rgb(60,60,60)" filter="url(#b7)"/><polygon points="868.4,1840.0 908.4,1799.9 928.4,1793.9 928.4,1820.0 888.4,1860.0" fill="rgb(56,56,56)" filter="url(#b5)"/><polygon points="894.4,1739.9 928.4,1729.9 928.4,1773.9 904.4,1765.9" fill="rgb(27,27,27)" filter="url(#b4)"/><polygon points="742.2,1639.8 818.3,1639.8 808.3,1689.8 798.3,1709.9 784.3,1721.9 778.3,1699.8 768.2,1689.8 752.2,1669.8" fill="rgb(78,78,78)" filter="url(#b2_5)"/><polygon points="794.3,1639.8 928.4,1639.8 928.4,1709.9 908.4,1729.9 890.4,1749.9 870.4,1773.9 848.3,1781.9 818.3,1761.9 798.3,1749.9 792.3,1729.9 800.3,1699.8" fill="rgb(103,103,103)" filter="url(#b3)"/><ellipse cx="886.4" cy="1663.8" rx="11.0" ry="9.0" transform="rotate(0 886.4 1663.8)" fill="rgb(52,52,52)" filter="url(#b2)"/><ellipse cx="888.4" cy="1705.9" rx="10.0" ry="12.0" transform="rotate(0 888.4 1705.9)" fill="rgb(54,54,54)" filter="url(#b2)"/><ellipse cx="900.4" cy="1677.8" rx="6.0" ry="8.0" transform="rotate(0 900.4 1677.8)" fill="rgb(62,62,62)" filter="url(#b1_5)"/><ellipse cx="908.4" cy="1705.9" rx="4.0" ry="6.0" transform="rotate(0 908.4 1705.9)" fill="rgb(62,62,62)" filter="url(#b1_5)"/><ellipse cx="790.3" cy="1681.8" rx="7.0" ry="5.0" transform="rotate(0 790.3 1681.8)" fill="rgb(66,66,66)" filter="url(#b1_5)"/><ellipse cx="818.3" cy="1749.9" rx="10.0" ry="6.0" transform="rotate(0 818.3 1749.9)" fill="rgb(78,78,78)" filter="url(#b2)"/><polygon points="828.3,1669.8 878.4,1669.8 888.4,1689.8 878.4,1729.9 870.4,1759.9 850.3,1769.9 834.3,1743.9 810.3,1735.9 802.3,1721.9 818.3,1699.8" fill="rgb(141,141,141)" filter="url(#b3_5)"/><polygon points="902.4,1649.8 928.4,1649.8 928.4,1701.9 908.4,1693.8" fill="rgb(130,130,130)" filter="url(#b2_5)"/><ellipse cx="868.4" cy="1685.8" rx="12.0" ry="9.0" transform="rotate(-10 868.4 1685.8)" fill="rgb(186,186,186)" filter="url(#b2)"/><polygon points="828.3,1705.9 848.3,1699.8 858.3,1719.9 869.4,1733.9 865.3,1753.9 851.3,1759.9 844.3,1739.9 828.3,1719.9" fill="rgb(180,180,180)" filter="url(#b2_5)"/><ellipse cx="854.3" cy="1743.9" rx="6.0" ry="6.0" transform="rotate(0 854.3 1743.9)" fill="rgb(204,204,204)" filter="url(#b1_5)"/><ellipse cx="784.3" cy="1791.9" rx="4.4" ry="3.6" transform="rotate(0 784.3 1791.9)" fill="rgb(102,102,102)" filter="url(#b1_2)"/><ellipse cx="778.3" cy="1824.0" rx="12.0" ry="2.0" transform="rotate(-15 778.3 1824.0)" fill="rgb(92,92,92)" filter="url(#b1_2)"/><ellipse cx="788.3" cy="1812.0" rx="1.6" ry="6.0" transform="rotate(10 788.3 1812.0)" fill="rgb(92,92,92)" filter="url(#b1)"/><ellipse cx="890.4" cy="1830.0" rx="17.0" ry="2.4" transform="rotate(-52 890.4 1830.0)" fill="rgb(96,96,96)" filter="url(#b1_2)"/></g></g>
<rect x="718.20" y="1649.80" width="200.20" height="200.20" fill="none" stroke="#333" stroke-width="0.8" />
<text x="818.00" y="1645.60" font-size="11.1" text-anchor="middle" fill="#1a1a1a" >9h old IR Data</text>
<line x1="715.40" y1="1659.00" x2="718.20" y2="1659.00" stroke="#222" stroke-width="0.7" />
<text x="712.60" y="1662.40" font-size="9.5" text-anchor="end" fill="#1a1a1a" >29</text>
<line x1="715.40" y1="1690.00" x2="718.20" y2="1690.00" stroke="#222" stroke-width="0.7" />
<text x="712.60" y="1693.40" font-size="9.5" text-anchor="end" fill="#1a1a1a" >28</text>
<line x1="715.40" y1="1721.50" x2="718.20" y2="1721.50" stroke="#222" stroke-width="0.7" />
<text x="712.60" y="1724.90" font-size="9.5" text-anchor="end" fill="#1a1a1a" >27</text>
<line x1="715.40" y1="1752.90" x2="718.20" y2="1752.90" stroke="#222" stroke-width="0.7" />
<text x="712.60" y="1756.30" font-size="9.5" text-anchor="end" fill="#1a1a1a" >26</text>
<line x1="715.40" y1="1784.30" x2="718.20" y2="1784.30" stroke="#222" stroke-width="0.7" />
<text x="712.60" y="1787.70" font-size="9.5" text-anchor="end" fill="#1a1a1a" >25</text>
<line x1="715.40" y1="1815.70" x2="718.20" y2="1815.70" stroke="#222" stroke-width="0.7" />
<text x="712.60" y="1819.10" font-size="9.5" text-anchor="end" fill="#1a1a1a" >24</text>
<line x1="715.40" y1="1847.10" x2="718.20" y2="1847.10" stroke="#222" stroke-width="0.7" />
<text x="712.60" y="1850.50" font-size="9.5" text-anchor="end" fill="#1a1a1a" >23</text>
<line x1="745.20" y1="1850.00" x2="745.20" y2="1852.80" stroke="#222" stroke-width="0.7" />
<text x="744.60" y="1862.60" font-size="9.5" text-anchor="middle" fill="#1a1a1a" textLength="25.8" lengthAdjust="spacingAndGlyphs">−118</text>
<line x1="773.40" y1="1850.00" x2="773.40" y2="1852.80" stroke="#222" stroke-width="0.7" />
<text x="772.80" y="1862.60" font-size="9.5" text-anchor="middle" fill="#1a1a1a" textLength="25.8" lengthAdjust="spacingAndGlyphs">−117</text>
<line x1="801.60" y1="1850.00" x2="801.60" y2="1852.80" stroke="#222" stroke-width="0.7" />
<text x="801.00" y="1862.60" font-size="9.5" text-anchor="middle" fill="#1a1a1a" textLength="25.8" lengthAdjust="spacingAndGlyphs">−116</text>
<line x1="829.80" y1="1850.00" x2="829.80" y2="1852.80" stroke="#222" stroke-width="0.7" />
<text x="829.20" y="1862.60" font-size="9.5" text-anchor="middle" fill="#1a1a1a" textLength="25.8" lengthAdjust="spacingAndGlyphs">−115</text>
<line x1="858.00" y1="1850.00" x2="858.00" y2="1852.80" stroke="#222" stroke-width="0.7" />
<text x="857.40" y="1862.60" font-size="9.5" text-anchor="middle" fill="#1a1a1a" textLength="25.8" lengthAdjust="spacingAndGlyphs">−114</text>
<line x1="886.20" y1="1850.00" x2="886.20" y2="1852.80" stroke="#222" stroke-width="0.7" />
<text x="885.60" y="1862.60" font-size="9.5" text-anchor="middle" fill="#1a1a1a" textLength="25.8" lengthAdjust="spacingAndGlyphs">−113</text>
<line x1="914.40" y1="1850.00" x2="914.40" y2="1852.80" stroke="#222" stroke-width="0.7" />
<text x="913.80" y="1862.60" font-size="9.5" text-anchor="middle" fill="#1a1a1a" textLength="25.8" lengthAdjust="spacingAndGlyphs">−112</text>
<clipPath id="sc3"><rect x="955.6" y="1649.80" width="200.2" height="200.2"/></clipPath>
<g clip-path="url(#sc3)"><g filter="url(#seis3)"><rect x="935.60" y="1629.80" width="240.20" height="240.20" fill="rgb(10,127,0)" stroke="none" stroke-width="1.04" /><circle cx="1055.7" cy="1749.9" r="66.1" fill="rgb(35,127,0)" filter="url(#b14)"/><circle cx="1055.7" cy="1749.9" r="32.0" fill="rgb(134,128,0)" filter="url(#b7)"/><ellipse cx="1031.7" cy="1735.9" rx="6.8" ry="3.8" transform="rotate(15 1031.7 1735.9)" fill="rgb(97,65,0)" filter="url(#b1)"/><ellipse cx="1067.7" cy="1751.9" rx="4.4" ry="3.6" transform="rotate(0 1067.7 1751.9)" fill="rgb(97,58,0)" filter="url(#b1)"/><ellipse cx="1035.7" cy="1765.9" rx="3.2" ry="7.8" transform="rotate(10 1035.7 1765.9)" fill="rgb(97,65,0)" filter="url(#b1)"/><ellipse cx="1049.7" cy="1733.9" rx="6.8" ry="2.8" transform="rotate(-10 1049.7 1733.9)" fill="rgb(97,79,0)" filter="url(#b1)"/><ellipse cx="1075.7" cy="1775.9" rx="3.8" ry="5.8" transform="rotate(-30 1075.7 1775.9)" fill="rgb(97,79,0)" filter="url(#b1)"/><ellipse cx="1055.7" cy="1775.9" rx="2.8" ry="6.8" transform="rotate(0 1055.7 1775.9)" fill="rgb(97,86,0)" filter="url(#b1)"/><ellipse cx="1041.7" cy="1729.9" rx="6.8" ry="3.2" transform="rotate(0 1041.7 1729.9)" fill="rgb(97,177,0)" filter="url(#b1)"/><ellipse cx="1029.7" cy="1769.9" rx="2.8" ry="5.8" transform="rotate(0 1029.7 1769.9)" fill="rgb(97,170,0)" filter="url(#b1)"/><ellipse cx="1049.7" cy="1759.9" rx="2.8" ry="4.8" transform="rotate(0 1049.7 1759.9)" fill="rgb(97,177,0)" filter="url(#b1)"/><ellipse cx="1059.7" cy="1725.9" rx="3.8" ry="3.2" transform="rotate(0 1059.7 1725.9)" fill="rgb(97,177,0)" filter="url(#b1)"/><ellipse cx="1065.7" cy="1773.9" rx="2.8" ry="6.8" transform="rotate(-10 1065.7 1773.9)" fill="rgb(97,170,0)" filter="url(#b1)"/></g></g>
<rect x="955.60" y="1649.80" width="200.20" height="200.20" fill="none" stroke="#333" stroke-width="0.8" />
<text x="1055.40" y="1645.60" font-size="11.1" text-anchor="middle" fill="#1a1a1a" >SHAP Value=-1.20 kts</text>
<line x1="952.80" y1="1659.00" x2="955.60" y2="1659.00" stroke="#222" stroke-width="0.7" />
<line x1="952.80" y1="1690.00" x2="955.60" y2="1690.00" stroke="#222" stroke-width="0.7" />
<line x1="952.80" y1="1721.50" x2="955.60" y2="1721.50" stroke="#222" stroke-width="0.7" />
<line x1="952.80" y1="1752.90" x2="955.60" y2="1752.90" stroke="#222" stroke-width="0.7" />
<line x1="952.80" y1="1784.30" x2="955.60" y2="1784.30" stroke="#222" stroke-width="0.7" />
<line x1="952.80" y1="1815.70" x2="955.60" y2="1815.70" stroke="#222" stroke-width="0.7" />
<line x1="952.80" y1="1847.10" x2="955.60" y2="1847.10" stroke="#222" stroke-width="0.7" />
<line x1="982.60" y1="1850.00" x2="982.60" y2="1852.80" stroke="#222" stroke-width="0.7" />
<line x1="1010.80" y1="1850.00" x2="1010.80" y2="1852.80" stroke="#222" stroke-width="0.7" />
<line x1="1039.00" y1="1850.00" x2="1039.00" y2="1852.80" stroke="#222" stroke-width="0.7" />
<line x1="1067.20" y1="1850.00" x2="1067.20" y2="1852.80" stroke="#222" stroke-width="0.7" />
<line x1="1095.40" y1="1850.00" x2="1095.40" y2="1852.80" stroke="#222" stroke-width="0.7" />
<line x1="1123.60" y1="1850.00" x2="1123.60" y2="1852.80" stroke="#222" stroke-width="0.7" />
<line x1="1151.80" y1="1850.00" x2="1151.80" y2="1852.80" stroke="#222" stroke-width="0.7" />
<clipPath id="ic4"><rect x="718.2" y="1887.00" width="200.2" height="200.2"/></clipPath>
<g clip-path="url(#ic4)"><g filter="url(#ircm)"><rect x="688.20" y="1857.00" width="260.20" height="260.20" fill="rgb(45,45,45)" stroke="none" stroke-width="1.04" /><polygon points="708.2,1897.0 758.2,1907.0 758.2,1987.1 778.3,2017.1 772.3,2047.2 738.2,2039.2 708.2,2067.2" fill="rgb(65,65,65)" filter="url(#b7)"/><polygon points="774.3,2057.2 808.3,2047.2 818.3,2097.2 758.2,2097.2" fill="rgb(60,60,60)" filter="url(#b7)"/><polygon points="778.3,1947.1 790.3,1943.1 790.3,1987.1 778.3,1997.1" fill="rgb(66,66,66)" filter="url(#b3)"/><polygon points="718.2,1877.0 758.2,1877.0 758.2,1927.0 734.2,1937.0 722.2,1917.0" fill="rgb(76,76,76)" filter="url(#b2_5)"/><polygon points="752.2,1877.0 830.3,1877.0 818.3,1917.0 798.3,1939.1 778.3,1947.1 764.2,1979.1 754.2,1967.1 758.2,1937.0 748.2,1907.0" fill="rgb(96,96,96)" filter="url(#b3_5)"/><polygon points="786.3,1947.1 806.3,1937.0 798.3,1997.1 788.3,1987.1" fill="rgb(96,96,96)" filter="url(#b2_5)"/><polygon points="808.3,1917.0 838.3,1897.0 902.4,1883.0 904.4,1917.0 900.4,1941.1 878.4,1935.0 878.4,1967.1 884.4,1997.1 870.4,2019.1 854.3,2027.1 828.3,2011.1 802.3,2021.1 798.3,1997.1 796.3,1977.1 802.3,1947.1" fill="rgb(140,140,140)" filter="url(#b3)"/><ellipse cx="842.3" cy="1917.0" rx="7.0" ry="8.0" transform="rotate(0 842.3 1917.0)" fill="rgb(104,104,104)" filter="url(#b2)"/><ellipse cx="832.3" cy="1891.0" rx="3.0" ry="6.0" transform="rotate(0 832.3 1891.0)" fill="rgb(100,100,100)" filter="url(#b1_5)"/><ellipse cx="868.4" cy="1925.0" rx="10.0" ry="7.0" transform="rotate(0 868.4 1925.0)" fill="rgb(52,52,52)" filter="url(#b2)"/><ellipse cx="892.4" cy="1907.0" rx="6.0" ry="10.0" transform="rotate(0 892.4 1907.0)" fill="rgb(60,60,60)" filter="url(#b1_5)"/><ellipse cx="892.4" cy="1943.1" rx="6.0" ry="6.0" transform="rotate(0 892.4 1943.1)" fill="rgb(62,62,62)" filter="url(#b1_5)"/><polygon points="828.3,1941.1 854.3,1931.0 862.3,1947.1 874.4,1967.1 870.4,1987.1 858.3,1997.1 838.3,1989.1 822.3,1979.1 806.3,1976.1 814.3,1959.1" fill="rgb(186,186,186)" filter="url(#b3)"/><ellipse cx="826.3" cy="1963.1" rx="10.0" ry="8.0" transform="rotate(0 826.3 1963.1)" fill="rgb(208,208,208)" filter="url(#b2)"/><ellipse cx="848.3" cy="1941.1" rx="7.0" ry="6.0" transform="rotate(0 848.3 1941.1)" fill="rgb(202,202,202)" filter="url(#b2)"/><ellipse cx="845.3" cy="1980.1" rx="5.6" ry="9.0" transform="rotate(-15 845.3 1980.1)" fill="rgb(70,70,70)" filter="url(#b1_5)"/><ellipse cx="818.3" cy="2003.1" rx="6.0" ry="6.0" transform="rotate(0 818.3 2003.1)" fill="rgb(80,80,80)" filter="url(#b1_5)"/><ellipse cx="842.3" cy="2001.1" rx="6.0" ry="3.0" transform="rotate(0 842.3 2001.1)" fill="rgb(78,78,78)" filter="url(#b1_2)"/><ellipse cx="838.3" cy="2011.1" rx="6.0" ry="4.0" transform="rotate(0 838.3 2011.1)" fill="rgb(168,168,168)" filter="url(#b1_5)"/><ellipse cx="854.3" cy="2011.1" rx="3.0" ry="3.0" transform="rotate(0 854.3 2011.1)" fill="rgb(170,170,170)" filter="url(#b1_2)"/><ellipse cx="772.3" cy="2058.2" rx="8.0" ry="3.0" transform="rotate(-10 772.3 2058.2)" fill="rgb(102,102,102)" filter="url(#b1_5)"/><ellipse cx="786.3" cy="2047.2" rx="3.0" ry="3.0" transform="rotate(0 786.3 2047.2)" fill="rgb(92,92,92)" filter="url(#b1)"/><ellipse cx="728.2" cy="2007.1" rx="1.6" ry="10.0" transform="rotate(0 728.2 2007.1)" fill="rgb(84,84,84)" filter="url(#b1)"/><ellipse cx="902.4" cy="2084.2" rx="8.0" ry="2.4" transform="rotate(-20 902.4 2084.2)" fill="rgb(86,86,86)" filter="url(#b1_2)"/></g></g>
<rect x="718.20" y="1887.00" width="200.20" height="200.20" fill="none" stroke="#333" stroke-width="0.8" />
<text x="818.00" y="1882.80" font-size="11.1" text-anchor="middle" fill="#1a1a1a" >12h old IR Data</text>
<line x1="715.40" y1="1888.40" x2="718.20" y2="1888.40" stroke="#222" stroke-width="0.7" />
<text x="712.60" y="1891.80" font-size="9.5" text-anchor="end" fill="#1a1a1a" >29</text>
<line x1="715.40" y1="1919.10" x2="718.20" y2="1919.10" stroke="#222" stroke-width="0.7" />
<text x="712.60" y="1922.50" font-size="9.5" text-anchor="end" fill="#1a1a1a" >28</text>
<line x1="715.40" y1="1950.40" x2="718.20" y2="1950.40" stroke="#222" stroke-width="0.7" />
<text x="712.60" y="1953.80" font-size="9.5" text-anchor="end" fill="#1a1a1a" >27</text>
<line x1="715.40" y1="1981.70" x2="718.20" y2="1981.70" stroke="#222" stroke-width="0.7" />
<text x="712.60" y="1985.10" font-size="9.5" text-anchor="end" fill="#1a1a1a" >26</text>
<line x1="715.40" y1="2013.00" x2="718.20" y2="2013.00" stroke="#222" stroke-width="0.7" />
<text x="712.60" y="2016.40" font-size="9.5" text-anchor="end" fill="#1a1a1a" >25</text>
<line x1="715.40" y1="2044.30" x2="718.20" y2="2044.30" stroke="#222" stroke-width="0.7" />
<text x="712.60" y="2047.70" font-size="9.5" text-anchor="end" fill="#1a1a1a" >24</text>
<line x1="715.40" y1="2075.60" x2="718.20" y2="2075.60" stroke="#222" stroke-width="0.7" />
<text x="712.60" y="2079.00" font-size="9.5" text-anchor="end" fill="#1a1a1a" >23</text>
<line x1="740.30" y1="2087.20" x2="740.30" y2="2090.00" stroke="#222" stroke-width="0.7" />
<text x="739.70" y="2099.80" font-size="9.5" text-anchor="middle" fill="#1a1a1a" textLength="25.8" lengthAdjust="spacingAndGlyphs">−118</text>
<line x1="768.80" y1="2087.20" x2="768.80" y2="2090.00" stroke="#222" stroke-width="0.7" />
<text x="768.20" y="2099.80" font-size="9.5" text-anchor="middle" fill="#1a1a1a" textLength="25.8" lengthAdjust="spacingAndGlyphs">−117</text>
<line x1="797.30" y1="2087.20" x2="797.30" y2="2090.00" stroke="#222" stroke-width="0.7" />
<text x="796.70" y="2099.80" font-size="9.5" text-anchor="middle" fill="#1a1a1a" textLength="25.8" lengthAdjust="spacingAndGlyphs">−116</text>
<line x1="825.80" y1="2087.20" x2="825.80" y2="2090.00" stroke="#222" stroke-width="0.7" />
<text x="825.20" y="2099.80" font-size="9.5" text-anchor="middle" fill="#1a1a1a" textLength="25.8" lengthAdjust="spacingAndGlyphs">−115</text>
<line x1="854.30" y1="2087.20" x2="854.30" y2="2090.00" stroke="#222" stroke-width="0.7" />
<text x="853.70" y="2099.80" font-size="9.5" text-anchor="middle" fill="#1a1a1a" textLength="25.8" lengthAdjust="spacingAndGlyphs">−114</text>
<line x1="882.80" y1="2087.20" x2="882.80" y2="2090.00" stroke="#222" stroke-width="0.7" />
<text x="882.20" y="2099.80" font-size="9.5" text-anchor="middle" fill="#1a1a1a" textLength="25.8" lengthAdjust="spacingAndGlyphs">−113</text>
<line x1="911.30" y1="2087.20" x2="911.30" y2="2090.00" stroke="#222" stroke-width="0.7" />
<text x="910.70" y="2099.80" font-size="9.5" text-anchor="middle" fill="#1a1a1a" textLength="25.8" lengthAdjust="spacingAndGlyphs">−112</text>
<clipPath id="sc4"><rect x="955.6" y="1887.00" width="200.2" height="200.2"/></clipPath>
<g clip-path="url(#sc4)"><g filter="url(#seis4)"><rect x="935.60" y="1867.00" width="240.20" height="240.20" fill="rgb(28,127,0)" stroke="none" stroke-width="1.04" /><circle cx="1047.7" cy="2007.1" r="84.1" fill="rgb(53,127,0)" filter="url(#b14)"/><circle cx="1047.7" cy="2007.1" r="38.0" fill="rgb(126,128,0)" filter="url(#b7)"/><ellipse cx="1032.7" cy="2005.1" rx="4.0" ry="9.8" transform="rotate(5 1032.7 2005.1)" fill="rgb(91,58,0)" filter="url(#b1)"/><ellipse cx="1062.7" cy="2009.1" rx="3.2" ry="8.8" transform="rotate(15 1062.7 2009.1)" fill="rgb(91,58,0)" filter="url(#b1)"/><ellipse cx="1037.7" cy="1962.1" rx="8.8" ry="3.2" transform="rotate(30 1037.7 1962.1)" fill="rgb(91,58,0)" filter="url(#b1)"/><ellipse cx="1082.7" cy="1977.1" rx="4.8" ry="6.8" transform="rotate(0 1082.7 1977.1)" fill="rgb(91,72,0)" filter="url(#b1)"/><ellipse cx="1051.7" cy="1997.1" rx="3.8" ry="4.8" transform="rotate(-30 1051.7 1997.1)" fill="rgb(91,65,0)" filter="url(#b1)"/><ellipse cx="1007.7" cy="2023.1" rx="3.2" ry="3.8" transform="rotate(0 1007.7 2023.1)" fill="rgb(91,65,0)" filter="url(#b1)"/><ellipse cx="1077.7" cy="2019.1" rx="3.2" ry="4.8" transform="rotate(0 1077.7 2019.1)" fill="rgb(91,72,0)" filter="url(#b1)"/><ellipse cx="1015.7" cy="1993.1" rx="8.8" ry="2.4" transform="rotate(10 1015.7 1993.1)" fill="rgb(91,72,0)" filter="url(#b1)"/><ellipse cx="1123.8" cy="1954.1" rx="5.8" ry="2.4" transform="rotate(0 1123.8 1954.1)" fill="rgb(91,79,0)" filter="url(#b1)"/><ellipse cx="1055.7" cy="2035.1" rx="2.8" ry="6.8" transform="rotate(0 1055.7 2035.1)" fill="rgb(91,79,0)" filter="url(#b1)"/><ellipse cx="1085.7" cy="2061.2" rx="3.2" ry="8.8" transform="rotate(-40 1085.7 2061.2)" fill="rgb(91,86,0)" filter="url(#b1)"/><ellipse cx="1026.7" cy="1967.1" rx="6.8" ry="3.2" transform="rotate(20 1026.7 1967.1)" fill="rgb(91,198,0)" filter="url(#b1)"/><ellipse cx="987.6" cy="1952.1" rx="4.8" ry="2.8" transform="rotate(10 987.6 1952.1)" fill="rgb(91,184,0)" filter="url(#b1)"/><ellipse cx="1021.7" cy="1989.1" rx="5.8" ry="2.8" transform="rotate(5 1021.7 1989.1)" fill="rgb(91,191,0)" filter="url(#b1)"/><ellipse cx="1059.7" cy="2027.1" rx="3.2" ry="6.4" transform="rotate(0 1059.7 2027.1)" fill="rgb(91,198,0)" filter="url(#b1)"/><ellipse cx="1040.7" cy="2025.1" rx="3.8" ry="4.8" transform="rotate(0 1040.7 2025.1)" fill="rgb(91,177,0)" filter="url(#b1)"/><ellipse cx="1085.7" cy="1995.1" rx="3.2" ry="2.4" transform="rotate(0 1085.7 1995.1)" fill="rgb(91,198,0)" filter="url(#b1)"/><ellipse cx="1005.6" cy="2015.1" rx="3.2" ry="3.2" transform="rotate(0 1005.6 2015.1)" fill="rgb(91,191,0)" filter="url(#b1)"/><ellipse cx="1063.7" cy="2045.2" rx="2.8" ry="7.8" transform="rotate(-35 1063.7 2045.2)" fill="rgb(91,177,0)" filter="url(#b1)"/><ellipse cx="1129.8" cy="1959.1" rx="6.8" ry="2.4" transform="rotate(0 1129.8 1959.1)" fill="rgb(91,184,0)" filter="url(#b1)"/><ellipse cx="993.6" cy="2031.1" rx="2.8" ry="5.8" transform="rotate(0 993.6 2031.1)" fill="rgb(91,177,0)" filter="url(#b1)"/><ellipse cx="1053.7" cy="2007.1" rx="3.2" ry="4.8" transform="rotate(0 1053.7 2007.1)" fill="rgb(91,184,0)" filter="url(#b1)"/><ellipse cx="1066.7" cy="2007.1" rx="2.4" ry="4.8" transform="rotate(10 1066.7 2007.1)" fill="rgb(91,184,0)" filter="url(#b1)"/><ellipse cx="1025.7" cy="2005.1" rx="2.8" ry="3.8" transform="rotate(0 1025.7 2005.1)" fill="rgb(91,184,0)" filter="url(#b1)"/></g></g>
<rect x="955.60" y="1887.00" width="200.20" height="200.20" fill="none" stroke="#333" stroke-width="0.8" />
<text x="1055.40" y="1882.80" font-size="11.1" text-anchor="middle" fill="#1a1a1a" >SHAP Value=-14.07 kts</text>
<line x1="952.80" y1="1888.40" x2="955.60" y2="1888.40" stroke="#222" stroke-width="0.7" />
<line x1="952.80" y1="1919.10" x2="955.60" y2="1919.10" stroke="#222" stroke-width="0.7" />
<line x1="952.80" y1="1950.40" x2="955.60" y2="1950.40" stroke="#222" stroke-width="0.7" />
<line x1="952.80" y1="1981.70" x2="955.60" y2="1981.70" stroke="#222" stroke-width="0.7" />
<line x1="952.80" y1="2013.00" x2="955.60" y2="2013.00" stroke="#222" stroke-width="0.7" />
<line x1="952.80" y1="2044.30" x2="955.60" y2="2044.30" stroke="#222" stroke-width="0.7" />
<line x1="952.80" y1="2075.60" x2="955.60" y2="2075.60" stroke="#222" stroke-width="0.7" />
<line x1="977.70" y1="2087.20" x2="977.70" y2="2090.00" stroke="#222" stroke-width="0.7" />
<line x1="1006.20" y1="2087.20" x2="1006.20" y2="2090.00" stroke="#222" stroke-width="0.7" />
<line x1="1034.70" y1="2087.20" x2="1034.70" y2="2090.00" stroke="#222" stroke-width="0.7" />
<line x1="1063.20" y1="2087.20" x2="1063.20" y2="2090.00" stroke="#222" stroke-width="0.7" />
<line x1="1091.70" y1="2087.20" x2="1091.70" y2="2090.00" stroke="#222" stroke-width="0.7" />
<line x1="1120.20" y1="2087.20" x2="1120.20" y2="2090.00" stroke="#222" stroke-width="0.7" />
<line x1="1148.70" y1="2087.20" x2="1148.70" y2="2090.00" stroke="#222" stroke-width="0.7" />
<g filter="url(#ircbar)"><rect x="718.10" y="2126.00" width="200.10" height="11.90" fill="url(#bw)" stroke="none" stroke-width="1.04" /></g>
<rect x="718.10" y="2126.00" width="200.10" height="11.90" fill="none" stroke="#333" stroke-width="0.7" />
<line x1="718.10" y1="2137.90" x2="718.10" y2="2140.60" stroke="#222" stroke-width="0.7" />
<text x="718.10" y="2148.90" font-size="7.1" text-anchor="middle" fill="#1a1a1a" >180</text>
<line x1="748.88" y1="2137.90" x2="748.88" y2="2140.60" stroke="#222" stroke-width="0.7" />
<text x="748.88" y="2148.90" font-size="7.1" text-anchor="middle" fill="#1a1a1a" >200</text>
<line x1="779.67" y1="2137.90" x2="779.67" y2="2140.60" stroke="#222" stroke-width="0.7" />
<text x="779.67" y="2148.90" font-size="7.1" text-anchor="middle" fill="#1a1a1a" >220</text>
<line x1="810.45" y1="2137.90" x2="810.45" y2="2140.60" stroke="#222" stroke-width="0.7" />
<text x="810.45" y="2148.90" font-size="7.1" text-anchor="middle" fill="#1a1a1a" >240</text>
<line x1="841.24" y1="2137.90" x2="841.24" y2="2140.60" stroke="#222" stroke-width="0.7" />
<text x="841.24" y="2148.90" font-size="7.1" text-anchor="middle" fill="#1a1a1a" >260</text>
<line x1="872.02" y1="2137.90" x2="872.02" y2="2140.60" stroke="#222" stroke-width="0.7" />
<text x="872.02" y="2148.90" font-size="7.1" text-anchor="middle" fill="#1a1a1a" >280</text>
<line x1="902.81" y1="2137.90" x2="902.81" y2="2140.60" stroke="#222" stroke-width="0.7" />
<text x="902.81" y="2148.90" font-size="7.1" text-anchor="middle" fill="#1a1a1a" >300</text>
<text x="817.60" y="2121.80" font-size="9.75" text-anchor="middle" fill="#1a1a1a" >Brightness Temperature [K]</text>
<rect x="955.40" y="2126.00" width="200.60" height="11.90" fill="url(#seisg)" stroke="#333" stroke-width="0.7" />
<line x1="962.30" y1="2137.90" x2="962.30" y2="2140.60" stroke="#222" stroke-width="0.7" />
<text x="962.30" y="2150.70" font-size="9.8" text-anchor="middle" fill="#1a1a1a" >−0.04</text>
<line x1="1008.95" y1="2137.90" x2="1008.95" y2="2140.60" stroke="#222" stroke-width="0.7" />
<text x="1008.95" y="2150.70" font-size="9.8" text-anchor="middle" fill="#1a1a1a" >−0.02</text>
<line x1="1055.60" y1="2137.90" x2="1055.60" y2="2140.60" stroke="#222" stroke-width="0.7" />
<text x="1055.60" y="2150.70" font-size="9.8" text-anchor="middle" fill="#1a1a1a" >0.00</text>
<line x1="1102.25" y1="2137.90" x2="1102.25" y2="2140.60" stroke="#222" stroke-width="0.7" />
<text x="1102.25" y="2150.70" font-size="9.8" text-anchor="middle" fill="#1a1a1a" >0.02</text>
<line x1="1148.90" y1="2137.90" x2="1148.90" y2="2140.60" stroke="#222" stroke-width="0.7" />
<text x="1148.90" y="2150.70" font-size="9.8" text-anchor="middle" fill="#1a1a1a" >0.04</text>
<text x="1055.40" y="2121.80" font-size="9.75" text-anchor="middle" fill="#1a1a1a" >SHAP Values</text>
</g>
</g>
</svg>
</body></html>
